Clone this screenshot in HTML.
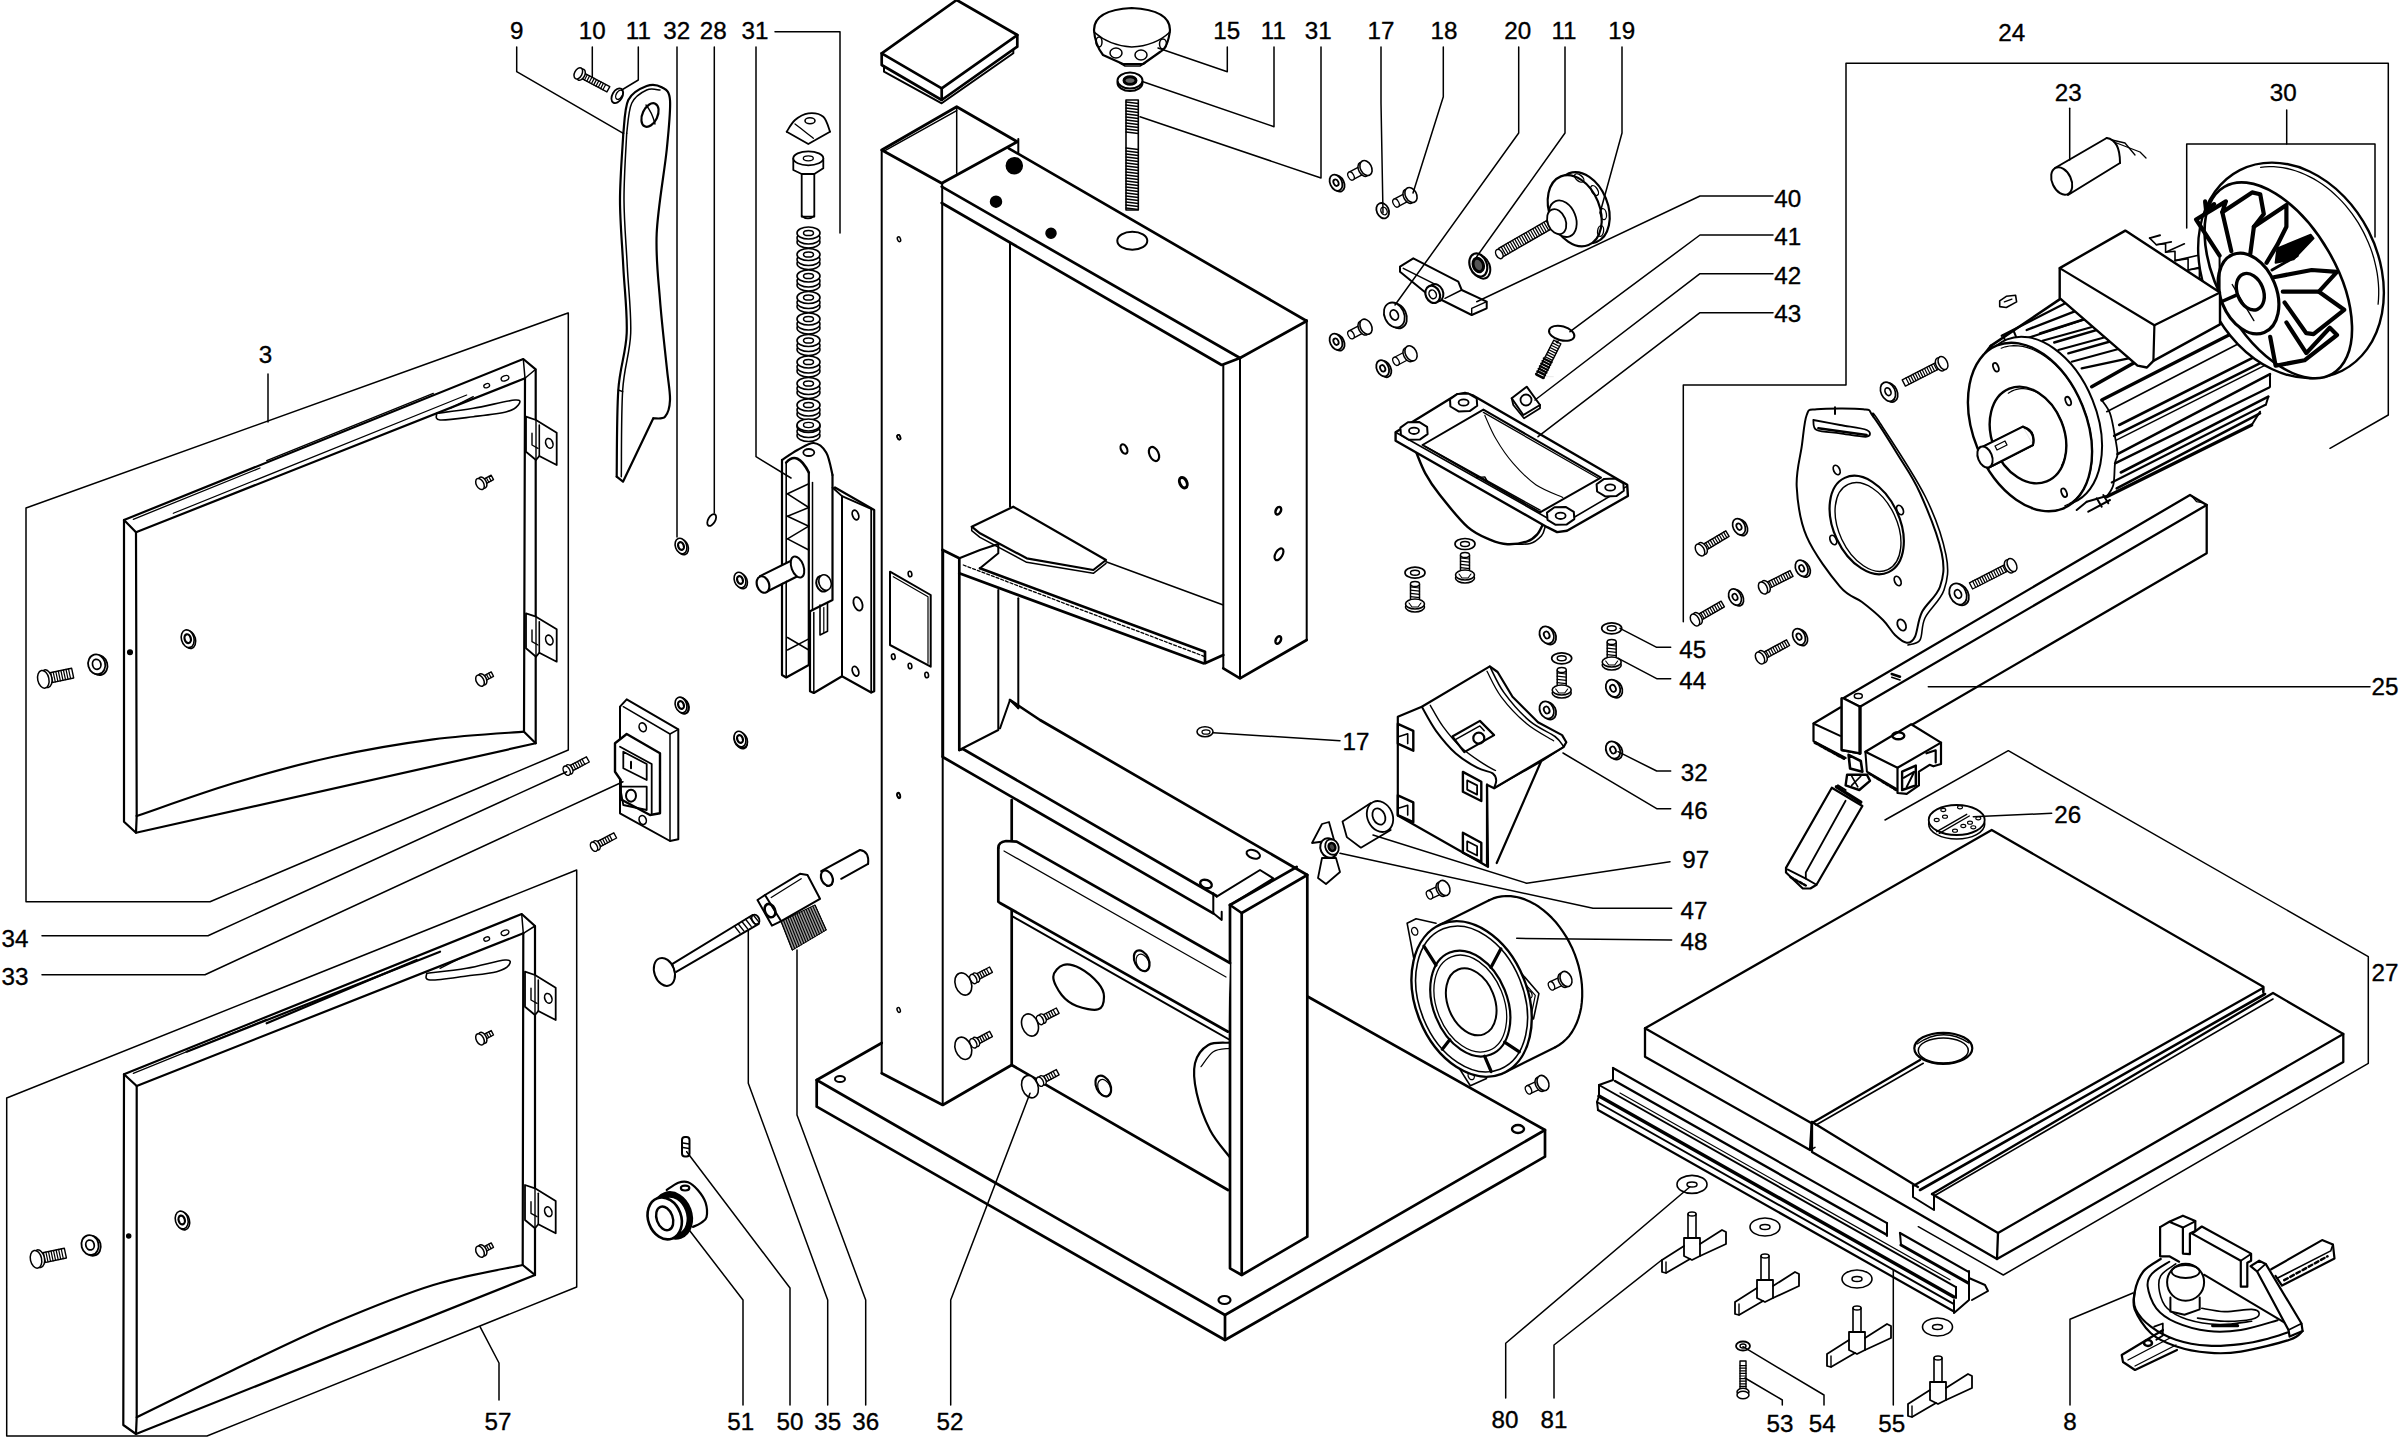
<!DOCTYPE html>
<html><head><meta charset="utf-8"><title>Exploded view</title>
<style>
html,body{margin:0;padding:0;background:#fff;}
body{width:2400px;height:1440px;overflow:hidden;}
svg{display:block;}
svg text{font-family:"Liberation Sans",Arial,Helvetica,sans-serif;fill:#000;}
svg *{stroke-linejoin:round;stroke-linecap:round;}
svg text{stroke:#000;stroke-width:0.35px;}
</style></head><body>
<svg width="2400" height="1440" viewBox="0 0 2400 1440">
<rect x="0" y="0" width="2400" height="1440" fill="#fff" stroke="none"/>
<text x="516.7" y="38.6" font-size="24.2" text-anchor="middle">9</text>
<text x="592.3" y="38.6" font-size="24.2" text-anchor="middle">10</text>
<text x="638.3" y="38.6" font-size="24.2" text-anchor="middle">11</text>
<text x="676.7" y="38.6" font-size="24.2" text-anchor="middle">32</text>
<text x="713.3" y="38.6" font-size="24.2" text-anchor="middle">28</text>
<text x="755.0" y="38.6" font-size="24.2" text-anchor="middle">31</text>
<text x="1226.7" y="38.6" font-size="24.2" text-anchor="middle">15</text>
<text x="1273.3" y="38.6" font-size="24.2" text-anchor="middle">11</text>
<text x="1318.3" y="38.6" font-size="24.2" text-anchor="middle">31</text>
<text x="1381.0" y="38.6" font-size="24.2" text-anchor="middle">17</text>
<text x="1444.0" y="38.6" font-size="24.2" text-anchor="middle">18</text>
<text x="1517.7" y="38.6" font-size="24.2" text-anchor="middle">20</text>
<text x="1564.0" y="38.6" font-size="24.2" text-anchor="middle">11</text>
<text x="1621.7" y="38.6" font-size="24.2" text-anchor="middle">19</text>
<text x="2011.7" y="40.9" font-size="24.2" text-anchor="middle">24</text>
<text x="2068.3" y="100.9" font-size="24.2" text-anchor="middle">23</text>
<text x="2283.3" y="100.9" font-size="24.2" text-anchor="middle">30</text>
<text x="1787.7" y="206.6" font-size="24.2" text-anchor="middle">40</text>
<text x="1787.7" y="245.3" font-size="24.2" text-anchor="middle">41</text>
<text x="1787.7" y="283.6" font-size="24.2" text-anchor="middle">42</text>
<text x="1787.7" y="321.6" font-size="24.2" text-anchor="middle">43</text>
<text x="265.5" y="362.6" font-size="24.2" text-anchor="middle">3</text>
<text x="15.0" y="946.6" font-size="24.2" text-anchor="middle">34</text>
<text x="15.0" y="985.3" font-size="24.2" text-anchor="middle">33</text>
<text x="1692.7" y="657.9" font-size="24.2" text-anchor="middle">45</text>
<text x="1692.7" y="689.3" font-size="24.2" text-anchor="middle">44</text>
<text x="1694.3" y="781.3" font-size="24.2" text-anchor="middle">32</text>
<text x="1694.3" y="819.3" font-size="24.2" text-anchor="middle">46</text>
<text x="1695.7" y="867.9" font-size="24.2" text-anchor="middle">97</text>
<text x="1694.0" y="919.3" font-size="24.2" text-anchor="middle">47</text>
<text x="1694.0" y="949.9" font-size="24.2" text-anchor="middle">48</text>
<text x="1356.0" y="750.3" font-size="24.2" text-anchor="middle">17</text>
<text x="2385.0" y="695.3" font-size="24.2" text-anchor="middle">25</text>
<text x="2067.7" y="822.6" font-size="24.2" text-anchor="middle">26</text>
<text x="2385.0" y="980.9" font-size="24.2" text-anchor="middle">27</text>
<text x="498.0" y="1430.1" font-size="24.2" text-anchor="middle">57</text>
<text x="740.7" y="1430.1" font-size="24.2" text-anchor="middle">51</text>
<text x="790.0" y="1430.1" font-size="24.2" text-anchor="middle">50</text>
<text x="827.7" y="1430.1" font-size="24.2" text-anchor="middle">35</text>
<text x="865.7" y="1430.1" font-size="24.2" text-anchor="middle">36</text>
<text x="950.0" y="1430.1" font-size="24.2" text-anchor="middle">52</text>
<text x="1505.0" y="1427.9" font-size="24.2" text-anchor="middle">80</text>
<text x="1554.0" y="1427.9" font-size="24.2" text-anchor="middle">81</text>
<text x="1780.0" y="1431.9" font-size="24.2" text-anchor="middle">53</text>
<text x="1822.3" y="1431.9" font-size="24.2" text-anchor="middle">54</text>
<text x="1891.7" y="1431.9" font-size="24.2" text-anchor="middle">55</text>
<text x="2070.0" y="1430.3" font-size="24.2" text-anchor="middle">8</text>
<polygon points="124.0,520.0 523.3,359.0 535.7,369.3 535.7,743.3 136.0,832.7 124.0,821.7" fill="none" stroke="#000" stroke-width="2.2" />
<polyline points="136.0,532.3 525.0,378.3" fill="none" stroke="#000" stroke-width="2.2" />
<polyline points="124.0,520.0 136.0,532.3 136.7,816.0" fill="none" stroke="#000" stroke-width="2.2" />
<polyline points="136.7,816.0 136.0,832.7" fill="none" stroke="#000" stroke-width="2.2" />
<polyline points="525.0,378.3 524.0,731.7 535.7,743.3" fill="none" stroke="#000" stroke-width="2.2" />
<polyline points="523.3,359.0 525.0,378.3 535.7,369.3" fill="none" stroke="#000" stroke-width="1.5" />
<path d="M136.7,816.0 C152.8,810.6 200.6,793.2 233.3,783.3 C266.1,773.4 300.0,764.0 333.3,756.7 C366.7,749.3 401.6,743.5 433.3,739.3 C465.1,735.2 508.9,732.9 524.0,731.7" fill="none" stroke="#000" stroke-width="2.2" />
<polyline points="133.3,519.3 260.0,468.0" fill="none" stroke="#000" stroke-width="1.3" />
<polyline points="266.7,460.7 433.3,393.3" fill="none" stroke="#000" stroke-width="1.3" />
<polyline points="173.3,513.3 466.7,395.0" fill="none" stroke="#000" stroke-width="1.2" />
<path d="M436.7,413.3 C442.8,412.5 460.3,410.6 473.3,408.3 C486.4,406.1 507.5,400.6 515.0,400.0 C522.5,399.4 519.7,403.1 518.3,405.0 C516.9,406.9 514.2,409.7 506.7,411.7 C499.2,413.6 484.4,415.3 473.3,416.7 C462.2,418.1 446.1,420.6 440.0,420.0 C433.9,419.4 437.2,414.4 436.7,413.3" fill="none" stroke="#000" stroke-width="1.6" />
<polyline points="450.0,408.3 473.3,396.7" fill="none" stroke="#000" stroke-width="1.4" />
<ellipse cx="486.7" cy="385.7" rx="3.0" ry="2.0" transform="rotate(-20.0 486.7 385.7)" fill="none" stroke="#000" stroke-width="1.3"/>
<ellipse cx="505.0" cy="378.3" rx="4.0" ry="2.5" transform="rotate(-20.0 505.0 378.3)" fill="none" stroke="#000" stroke-width="1.3"/>
<polygon points="526.0,416.7 536.0,420.0 556.7,432.7 556.7,465.0 539.3,456.0 536.0,460.0 526.0,451.7" fill="#fff" stroke="#000" stroke-width="1.8" />
<polyline points="539.3,425.0 539.3,456.0" fill="none" stroke="#000" stroke-width="1.6" />
<polyline points="536.0,420.0 536.0,460.0" fill="none" stroke="#000" stroke-width="1.4" />
<polyline points="532.0,433.3 532.0,445.0 538.0,448.3" fill="none" stroke="#000" stroke-width="1.4" />
<ellipse cx="549.3" cy="443.3" rx="3.5" ry="5.0" transform="rotate(-20.0 549.3 443.3)" fill="none" stroke="#000" stroke-width="1.6"/>
<polygon points="526.0,613.3 536.0,616.7 556.7,629.3 556.7,661.7 539.3,652.7 536.0,656.7 526.0,648.3" fill="#fff" stroke="#000" stroke-width="1.8" />
<polyline points="539.3,621.7 539.3,652.7" fill="none" stroke="#000" stroke-width="1.6" />
<polyline points="536.0,616.7 536.0,656.7" fill="none" stroke="#000" stroke-width="1.4" />
<polyline points="532.0,630.0 532.0,641.7 538.0,645.0" fill="none" stroke="#000" stroke-width="1.4" />
<ellipse cx="549.3" cy="640.0" rx="3.5" ry="5.0" transform="rotate(-20.0 549.3 640.0)" fill="none" stroke="#000" stroke-width="1.6"/>
<polygon points="483.8,484.8 493.5,479.6 491.2,475.2 481.5,480.4" fill="#fff" stroke="#000" stroke-width="1.4" />
<line x1="486.5" y1="483.4" x2="484.1" y2="479.0" stroke="#000" stroke-width="1.2"/>
<line x1="488.8" y1="482.2" x2="486.4" y2="477.8" stroke="#000" stroke-width="1.2"/>
<line x1="491.1" y1="480.9" x2="488.7" y2="476.5" stroke="#000" stroke-width="1.2"/>
<ellipse cx="482.6" cy="482.6" rx="3.7" ry="6.0" transform="rotate(-28.0 482.6 482.6)" fill="#fff" stroke="#000" stroke-width="1.5"/>
<ellipse cx="480.0" cy="484.0" rx="3.7" ry="6.0" transform="rotate(-28.0 480.0 484.0)" fill="#fff" stroke="#000" stroke-width="1.5"/>
<polygon points="483.8,681.5 493.5,676.3 491.2,671.9 481.5,677.1" fill="#fff" stroke="#000" stroke-width="1.4" />
<line x1="486.5" y1="680.1" x2="484.1" y2="675.6" stroke="#000" stroke-width="1.2"/>
<line x1="488.8" y1="678.8" x2="486.4" y2="674.4" stroke="#000" stroke-width="1.2"/>
<line x1="491.1" y1="677.6" x2="488.7" y2="673.2" stroke="#000" stroke-width="1.2"/>
<ellipse cx="482.6" cy="679.3" rx="3.7" ry="6.0" transform="rotate(-28.0 482.6 679.3)" fill="#fff" stroke="#000" stroke-width="1.5"/>
<ellipse cx="480.0" cy="680.7" rx="3.7" ry="6.0" transform="rotate(-28.0 480.0 680.7)" fill="#fff" stroke="#000" stroke-width="1.5"/>
<ellipse cx="189.2" cy="639.7" rx="6.3" ry="9.0" transform="rotate(-15.0 189.2 639.7)" fill="#fff" stroke="#000" stroke-width="1.6"/>
<ellipse cx="187.7" cy="638.7" rx="6.3" ry="9.0" transform="rotate(-15.0 187.7 638.7)" fill="#fff" stroke="#000" stroke-width="1.6"/>
<ellipse cx="187.7" cy="638.7" rx="3.1" ry="4.5" transform="rotate(-15.0 187.7 638.7)" fill="none" stroke="#000" stroke-width="2.2"/>
<ellipse cx="98.9" cy="665.1" rx="8.5" ry="10.0" transform="rotate(-15.0 98.9 665.1)" fill="#fff" stroke="#000" stroke-width="1.8"/>
<ellipse cx="96.7" cy="664.3" rx="8.5" ry="10.0" transform="rotate(-15.0 96.7 664.3)" fill="#fff" stroke="#000" stroke-width="1.8"/>
<ellipse cx="96.7" cy="664.3" rx="4.2" ry="5.0" transform="rotate(-15.0 96.7 664.3)" fill="none" stroke="#000" stroke-width="1.8"/>
<polygon points="47.3,683.6 73.7,678.0 71.6,668.2 45.2,673.8" fill="#fff" stroke="#000" stroke-width="1.4" />
<line x1="50.2" y1="683.0" x2="48.2" y2="673.2" stroke="#000" stroke-width="1.2"/>
<line x1="52.8" y1="682.4" x2="50.7" y2="672.7" stroke="#000" stroke-width="1.2"/>
<line x1="55.3" y1="681.9" x2="53.2" y2="672.1" stroke="#000" stroke-width="1.2"/>
<line x1="57.9" y1="681.4" x2="55.8" y2="671.6" stroke="#000" stroke-width="1.2"/>
<line x1="60.4" y1="680.8" x2="58.3" y2="671.0" stroke="#000" stroke-width="1.2"/>
<line x1="63.0" y1="680.3" x2="60.9" y2="670.5" stroke="#000" stroke-width="1.2"/>
<line x1="65.5" y1="679.7" x2="63.4" y2="670.0" stroke="#000" stroke-width="1.2"/>
<line x1="68.0" y1="679.2" x2="66.0" y2="669.4" stroke="#000" stroke-width="1.2"/>
<line x1="70.6" y1="678.7" x2="68.5" y2="668.9" stroke="#000" stroke-width="1.2"/>
<ellipse cx="46.3" cy="678.7" rx="5.6" ry="9.0" transform="rotate(-12.0 46.3 678.7)" fill="#fff" stroke="#000" stroke-width="1.5"/>
<ellipse cx="43.3" cy="679.3" rx="5.6" ry="9.0" transform="rotate(-12.0 43.3 679.3)" fill="#fff" stroke="#000" stroke-width="1.5"/>
<ellipse cx="130.0" cy="652.3" rx="2.3" ry="2.3" transform="rotate(0.0 130.0 652.3)" fill="#000" stroke="#000" stroke-width="1.5"/>
<polygon points="124.0,1074.3 521.7,914.0 535.0,926.0 535.0,1275.0 136.0,1434.0 123.3,1425.0" fill="none" stroke="#000" stroke-width="2.2" />
<polyline points="136.7,1086.0 523.3,933.3" fill="none" stroke="#000" stroke-width="2.2" />
<polyline points="124.0,1074.3 136.7,1086.0 136.7,1417.3 136.0,1434.0" fill="none" stroke="#000" stroke-width="2.2" />
<polyline points="523.3,933.3 522.7,1265.0 535.0,1275.0" fill="none" stroke="#000" stroke-width="2.2" />
<polyline points="521.7,914.0 523.3,933.3 535.0,926.0" fill="none" stroke="#000" stroke-width="1.5" />
<path d="M136.7,1417.3 C152.8,1409.4 200.6,1385.7 233.3,1370.0 C266.1,1354.3 300.0,1337.5 333.3,1323.3 C366.7,1309.2 401.8,1294.7 433.3,1285.0 C464.9,1275.3 507.8,1268.3 522.7,1265.0" fill="none" stroke="#000" stroke-width="2.2" />
<polyline points="186.7,1051.7 440.0,951.7" fill="none" stroke="#000" stroke-width="2.2" />
<polyline points="266.7,1023.3 416.7,960.0" fill="none" stroke="#000" stroke-width="2.2" />
<polyline points="133.3,1073.3 266.7,1019.3" fill="none" stroke="#000" stroke-width="1.3" />
<path d="M426.7,973.3 C433.3,972.5 453.6,970.6 466.7,968.3 C479.7,966.1 497.9,960.6 505.0,960.0 C512.1,959.4 510.4,963.1 509.0,965.0 C507.6,966.9 503.7,969.8 496.7,971.7 C489.6,973.5 477.8,974.6 466.7,976.0 C455.6,977.4 436.7,980.4 430.0,980.0 C423.3,979.6 427.2,974.4 426.7,973.3" fill="none" stroke="#000" stroke-width="1.6" />
<polyline points="440.0,968.3 463.3,956.7" fill="none" stroke="#000" stroke-width="1.4" />
<ellipse cx="486.7" cy="939.0" rx="3.0" ry="2.0" transform="rotate(-20.0 486.7 939.0)" fill="none" stroke="#000" stroke-width="1.3"/>
<ellipse cx="505.0" cy="932.7" rx="4.0" ry="2.5" transform="rotate(-20.0 505.0 932.7)" fill="none" stroke="#000" stroke-width="1.3"/>
<polygon points="525.0,971.7 535.0,975.0 555.7,987.7 555.7,1020.0 538.3,1011.0 535.0,1015.0 525.0,1006.7" fill="#fff" stroke="#000" stroke-width="1.8" />
<polyline points="538.3,980.0 538.3,1011.0" fill="none" stroke="#000" stroke-width="1.6" />
<polyline points="535.0,975.0 535.0,1015.0" fill="none" stroke="#000" stroke-width="1.4" />
<polyline points="531.0,988.3 531.0,1000.0 537.0,1003.3" fill="none" stroke="#000" stroke-width="1.4" />
<ellipse cx="548.3" cy="998.3" rx="3.5" ry="5.0" transform="rotate(-20.0 548.3 998.3)" fill="none" stroke="#000" stroke-width="1.6"/>
<polygon points="525.0,1185.0 535.0,1188.3 555.7,1201.0 555.7,1233.3 538.3,1224.3 535.0,1228.3 525.0,1220.0" fill="#fff" stroke="#000" stroke-width="1.8" />
<polyline points="538.3,1193.3 538.3,1224.3" fill="none" stroke="#000" stroke-width="1.6" />
<polyline points="535.0,1188.3 535.0,1228.3" fill="none" stroke="#000" stroke-width="1.4" />
<polyline points="531.0,1201.7 531.0,1213.3 537.0,1216.7" fill="none" stroke="#000" stroke-width="1.4" />
<ellipse cx="548.3" cy="1211.7" rx="3.5" ry="5.0" transform="rotate(-20.0 548.3 1211.7)" fill="none" stroke="#000" stroke-width="1.6"/>
<polygon points="483.8,1040.1 493.5,1035.0 491.2,1030.6 481.5,1035.7" fill="#fff" stroke="#000" stroke-width="1.4" />
<line x1="486.5" y1="1038.7" x2="484.1" y2="1034.3" stroke="#000" stroke-width="1.2"/>
<line x1="488.8" y1="1037.5" x2="486.4" y2="1033.1" stroke="#000" stroke-width="1.2"/>
<line x1="491.1" y1="1036.3" x2="488.7" y2="1031.9" stroke="#000" stroke-width="1.2"/>
<ellipse cx="482.6" cy="1037.9" rx="3.7" ry="6.0" transform="rotate(-28.0 482.6 1037.9)" fill="#fff" stroke="#000" stroke-width="1.5"/>
<ellipse cx="480.0" cy="1039.3" rx="3.7" ry="6.0" transform="rotate(-28.0 480.0 1039.3)" fill="#fff" stroke="#000" stroke-width="1.5"/>
<polygon points="483.8,1252.5 493.5,1247.3 491.2,1242.9 481.5,1248.1" fill="#fff" stroke="#000" stroke-width="1.4" />
<line x1="486.5" y1="1251.1" x2="484.1" y2="1246.6" stroke="#000" stroke-width="1.2"/>
<line x1="488.8" y1="1249.8" x2="486.4" y2="1245.4" stroke="#000" stroke-width="1.2"/>
<line x1="491.1" y1="1248.6" x2="488.7" y2="1244.2" stroke="#000" stroke-width="1.2"/>
<ellipse cx="482.6" cy="1250.3" rx="3.7" ry="6.0" transform="rotate(-28.0 482.6 1250.3)" fill="#fff" stroke="#000" stroke-width="1.5"/>
<ellipse cx="480.0" cy="1251.7" rx="3.7" ry="6.0" transform="rotate(-28.0 480.0 1251.7)" fill="#fff" stroke="#000" stroke-width="1.5"/>
<ellipse cx="183.2" cy="1221.0" rx="6.3" ry="9.0" transform="rotate(-15.0 183.2 1221.0)" fill="#fff" stroke="#000" stroke-width="1.6"/>
<ellipse cx="181.7" cy="1220.0" rx="6.3" ry="9.0" transform="rotate(-15.0 181.7 1220.0)" fill="#fff" stroke="#000" stroke-width="1.6"/>
<ellipse cx="181.7" cy="1220.0" rx="3.1" ry="4.5" transform="rotate(-15.0 181.7 1220.0)" fill="none" stroke="#000" stroke-width="2.2"/>
<ellipse cx="92.2" cy="1245.8" rx="8.5" ry="10.0" transform="rotate(-15.0 92.2 1245.8)" fill="#fff" stroke="#000" stroke-width="1.8"/>
<ellipse cx="90.0" cy="1245.0" rx="8.5" ry="10.0" transform="rotate(-15.0 90.0 1245.0)" fill="#fff" stroke="#000" stroke-width="1.8"/>
<ellipse cx="90.0" cy="1245.0" rx="4.2" ry="5.0" transform="rotate(-15.0 90.0 1245.0)" fill="none" stroke="#000" stroke-width="1.8"/>
<polygon points="40.0,1263.6 66.4,1258.0 64.3,1248.2 37.9,1253.8" fill="#fff" stroke="#000" stroke-width="1.4" />
<line x1="42.9" y1="1263.0" x2="40.8" y2="1253.2" stroke="#000" stroke-width="1.2"/>
<line x1="45.5" y1="1262.4" x2="43.4" y2="1252.7" stroke="#000" stroke-width="1.2"/>
<line x1="48.0" y1="1261.9" x2="45.9" y2="1252.1" stroke="#000" stroke-width="1.2"/>
<line x1="50.5" y1="1261.4" x2="48.5" y2="1251.6" stroke="#000" stroke-width="1.2"/>
<line x1="53.1" y1="1260.8" x2="51.0" y2="1251.0" stroke="#000" stroke-width="1.2"/>
<line x1="55.6" y1="1260.3" x2="53.5" y2="1250.5" stroke="#000" stroke-width="1.2"/>
<line x1="58.2" y1="1259.7" x2="56.1" y2="1250.0" stroke="#000" stroke-width="1.2"/>
<line x1="60.7" y1="1259.2" x2="58.6" y2="1249.4" stroke="#000" stroke-width="1.2"/>
<line x1="63.3" y1="1258.7" x2="61.2" y2="1248.9" stroke="#000" stroke-width="1.2"/>
<ellipse cx="38.9" cy="1258.7" rx="5.6" ry="9.0" transform="rotate(-12.0 38.9 1258.7)" fill="#fff" stroke="#000" stroke-width="1.5"/>
<ellipse cx="36.0" cy="1259.3" rx="5.6" ry="9.0" transform="rotate(-12.0 36.0 1259.3)" fill="#fff" stroke="#000" stroke-width="1.5"/>
<ellipse cx="128.7" cy="1236.0" rx="2.0" ry="2.0" transform="rotate(0.0 128.7 1236.0)" fill="#000" stroke="#000" stroke-width="1.5"/>
<polygon points="620.0,706.7 626.7,699.3 678.3,729.3 678.3,839.3 670.0,841.0 620.0,813.3" fill="#fff" stroke="#000" stroke-width="2" />
<polyline points="623.3,706.7 670.0,734.0 670.0,841.0" fill="none" stroke="#000" stroke-width="1.5" />
<polyline points="670.0,734.0 678.3,729.3" fill="none" stroke="#000" stroke-width="1.5" />
<ellipse cx="642.7" cy="727.3" rx="3.5" ry="4.5" transform="rotate(-20.0 642.7 727.3)" fill="none" stroke="#000" stroke-width="1.6"/>
<ellipse cx="642.7" cy="820.0" rx="3.5" ry="4.5" transform="rotate(-20.0 642.7 820.0)" fill="none" stroke="#000" stroke-width="1.6"/>
<polygon points="615.0,743.3 626.7,734.0 660.0,753.3 660.0,813.3 650.0,815.0 620.7,799.3 620.7,780.0 615.0,771.7" fill="#fff" stroke="#000" stroke-width="2.4" />
<polyline points="620.0,746.7 651.7,764.0 651.7,813.3" fill="none" stroke="#000" stroke-width="1.8" />
<polygon points="623.3,751.7 646.7,764.0 646.7,780.0 623.3,768.3" fill="none" stroke="#000" stroke-width="1.8" />
<polygon points="620.0,786.7 646.7,786.7 646.7,810.0 623.3,805.0" fill="none" stroke="#000" stroke-width="1.8" />
<ellipse cx="631.0" cy="795.7" rx="5.0" ry="6.0" transform="rotate(0.0 631.0 795.7)" fill="none" stroke="#000" stroke-width="2"/>
<polyline points="631.0,761.7 631.0,768.3" fill="none" stroke="#000" stroke-width="2" />
<polygon points="570.7,771.9 589.3,762.0 586.4,756.8 567.9,766.6" fill="#fff" stroke="#000" stroke-width="1.4" />
<line x1="573.4" y1="770.5" x2="570.6" y2="765.2" stroke="#000" stroke-width="1.2"/>
<line x1="575.7" y1="769.3" x2="572.9" y2="764.0" stroke="#000" stroke-width="1.2"/>
<line x1="578.0" y1="768.1" x2="575.1" y2="762.8" stroke="#000" stroke-width="1.2"/>
<line x1="580.3" y1="766.8" x2="577.4" y2="761.5" stroke="#000" stroke-width="1.2"/>
<line x1="582.6" y1="765.6" x2="579.7" y2="760.3" stroke="#000" stroke-width="1.2"/>
<line x1="584.9" y1="764.4" x2="582.0" y2="759.1" stroke="#000" stroke-width="1.2"/>
<ellipse cx="569.3" cy="769.3" rx="3.1" ry="5.0" transform="rotate(-28.0 569.3 769.3)" fill="#fff" stroke="#000" stroke-width="1.5"/>
<ellipse cx="566.7" cy="770.7" rx="3.1" ry="5.0" transform="rotate(-28.0 566.7 770.7)" fill="#fff" stroke="#000" stroke-width="1.5"/>
<polygon points="598.1,847.9 616.6,838.0 613.8,832.8 595.2,842.6" fill="#fff" stroke="#000" stroke-width="1.4" />
<line x1="600.7" y1="846.5" x2="597.9" y2="841.2" stroke="#000" stroke-width="1.2"/>
<line x1="603.0" y1="845.3" x2="600.2" y2="840.0" stroke="#000" stroke-width="1.2"/>
<line x1="605.3" y1="844.1" x2="602.5" y2="838.8" stroke="#000" stroke-width="1.2"/>
<line x1="607.6" y1="842.8" x2="604.8" y2="837.5" stroke="#000" stroke-width="1.2"/>
<line x1="609.9" y1="841.6" x2="607.1" y2="836.3" stroke="#000" stroke-width="1.2"/>
<line x1="612.2" y1="840.4" x2="609.4" y2="835.1" stroke="#000" stroke-width="1.2"/>
<ellipse cx="596.6" cy="845.3" rx="3.1" ry="5.0" transform="rotate(-28.0 596.6 845.3)" fill="#fff" stroke="#000" stroke-width="1.5"/>
<ellipse cx="594.0" cy="846.7" rx="3.1" ry="5.0" transform="rotate(-28.0 594.0 846.7)" fill="#fff" stroke="#000" stroke-width="1.5"/>
<ellipse cx="683.2" cy="706.0" rx="5.6" ry="8.0" transform="rotate(-20.0 683.2 706.0)" fill="#fff" stroke="#000" stroke-width="1.6"/>
<ellipse cx="681.7" cy="705.0" rx="5.6" ry="8.0" transform="rotate(-20.0 681.7 705.0)" fill="#fff" stroke="#000" stroke-width="1.6"/>
<ellipse cx="681.7" cy="705.0" rx="2.8" ry="4.0" transform="rotate(-20.0 681.7 705.0)" fill="none" stroke="#000" stroke-width="2.2"/>
<ellipse cx="741.5" cy="741.0" rx="5.6" ry="8.0" transform="rotate(-20.0 741.5 741.0)" fill="#fff" stroke="#000" stroke-width="1.6"/>
<ellipse cx="740.0" cy="740.0" rx="5.6" ry="8.0" transform="rotate(-20.0 740.0 740.0)" fill="#fff" stroke="#000" stroke-width="1.6"/>
<ellipse cx="740.0" cy="740.0" rx="2.8" ry="4.0" transform="rotate(-20.0 740.0 740.0)" fill="none" stroke="#000" stroke-width="2.2"/>
<polygon points="881.7,53.3 956.7,0.0 1017.3,35.0 941.7,88.3" fill="#fff" stroke="#000" stroke-width="2.7" />
<polyline points="881.7,53.3 881.7,65.0 941.7,100.0 1017.3,46.7 1017.3,35.0" fill="none" stroke="#000" stroke-width="2.7" />
<polyline points="941.7,88.3 941.7,100.0" fill="none" stroke="#000" stroke-width="2.7" />
<polyline points="884.0,66.7 884.0,71.7 941.7,103.3 1013.3,53.3 1013.3,50.0" fill="none" stroke="#000" stroke-width="2" />
<polygon points="881.7,150.0 956.7,106.7 1017.3,141.7 941.7,183.3" fill="none" stroke="#000" stroke-width="2.8" />
<polyline points="885.0,150.7 956.7,110.7" fill="none" stroke="#000" stroke-width="1.5" />
<polyline points="956.7,106.7 956.7,173.3" fill="none" stroke="#000" stroke-width="1.5" />
<polyline points="881.7,150.0 881.7,1073.3" fill="none" stroke="#000" stroke-width="2.0" />
<polyline points="881.7,1073.3 942.7,1105.0 1011.7,1065.0" fill="none" stroke="#000" stroke-width="2.7" />
<polyline points="942.2,183.3 942.2,550.0" fill="none" stroke="#000" stroke-width="2.0" />
<polyline points="942.7,756.0 942.7,1105.0" fill="none" stroke="#000" stroke-width="2.0" />
<polyline points="1008.7,148.3 1306.7,321.0 1240.0,358.0 941.7,186.7" fill="none" stroke="#000" stroke-width="2.7" />
<polyline points="1018.3,139.0 1018.3,152.5" fill="none" stroke="#000" stroke-width="2" />
<polyline points="941.7,203.0 1221.7,365.0 1240.0,358.0" fill="none" stroke="#000" stroke-width="2.7" />
<polyline points="1306.7,320.0 1306.7,640.0" fill="none" stroke="#000" stroke-width="2.0" />
<polyline points="1306.7,640.0 1240.0,678.3 1223.3,668.3" fill="none" stroke="#000" stroke-width="2.7" />
<polyline points="1223.3,668.3 1223.3,365.0" fill="none" stroke="#000" stroke-width="2.0" />
<polyline points="1240.0,358.0 1240.0,678.3" fill="none" stroke="#000" stroke-width="2.0" />
<polyline points="1010.0,243.0 1010.0,506.7" fill="none" stroke="#000" stroke-width="2" />
<ellipse cx="1014.3" cy="165.7" rx="8.0" ry="8.0" transform="rotate(0.0 1014.3 165.7)" fill="#000" stroke="#000" stroke-width="1.5"/>
<ellipse cx="996.0" cy="201.7" rx="5.5" ry="5.5" transform="rotate(0.0 996.0 201.7)" fill="#000" stroke="#000" stroke-width="1.5"/>
<ellipse cx="1051.0" cy="233.3" rx="5.0" ry="5.0" transform="rotate(0.0 1051.0 233.3)" fill="#000" stroke="#000" stroke-width="1.5"/>
<ellipse cx="1132.3" cy="240.7" rx="15.0" ry="9.0" transform="rotate(0.0 1132.3 240.7)" fill="none" stroke="#000" stroke-width="2"/>
<ellipse cx="1124.0" cy="449.0" rx="3.0" ry="5.0" transform="rotate(-25.0 1124.0 449.0)" fill="none" stroke="#000" stroke-width="2.2"/>
<ellipse cx="1154.0" cy="454.0" rx="4.5" ry="7.5" transform="rotate(-25.0 1154.0 454.0)" fill="none" stroke="#000" stroke-width="2.2"/>
<ellipse cx="1183.3" cy="482.7" rx="3.5" ry="5.5" transform="rotate(-25.0 1183.3 482.7)" fill="none" stroke="#000" stroke-width="3"/>
<ellipse cx="1278.3" cy="510.7" rx="2.5" ry="4.0" transform="rotate(25.0 1278.3 510.7)" fill="none" stroke="#000" stroke-width="2.5"/>
<ellipse cx="1279.0" cy="554.3" rx="3.5" ry="6.5" transform="rotate(30.0 1279.0 554.3)" fill="none" stroke="#000" stroke-width="2.2"/>
<ellipse cx="1278.3" cy="640.0" rx="2.5" ry="4.0" transform="rotate(25.0 1278.3 640.0)" fill="none" stroke="#000" stroke-width="2.5"/>
<ellipse cx="899.0" cy="239.3" rx="1.5" ry="2.5" transform="rotate(-20.0 899.0 239.3)" fill="none" stroke="#000" stroke-width="1.5"/>
<ellipse cx="899.0" cy="437.3" rx="1.5" ry="2.5" transform="rotate(-20.0 899.0 437.3)" fill="none" stroke="#000" stroke-width="1.5"/>
<ellipse cx="898.7" cy="437.3" rx="1.5" ry="2.5" transform="rotate(-20.0 898.7 437.3)" fill="none" stroke="#000" stroke-width="1.5"/>
<ellipse cx="898.7" cy="795.0" rx="1.5" ry="2.5" transform="rotate(-20.0 898.7 795.0)" fill="none" stroke="#000" stroke-width="1.5"/>
<ellipse cx="898.7" cy="796.0" rx="1.5" ry="2.5" transform="rotate(-20.0 898.7 796.0)" fill="none" stroke="#000" stroke-width="1.5"/>
<ellipse cx="898.7" cy="1010.0" rx="1.5" ry="2.5" transform="rotate(-20.0 898.7 1010.0)" fill="none" stroke="#000" stroke-width="1.5"/>
<polygon points="890.0,571.7 930.7,595.0 930.7,666.7 890.0,645.0" fill="none" stroke="#000" stroke-width="2" />
<polyline points="893.3,576.7 928.0,596.7 928.0,663.3" fill="none" stroke="#000" stroke-width="1.2" />
<ellipse cx="910.0" cy="574.0" rx="1.8" ry="2.8" transform="rotate(-10.0 910.0 574.0)" fill="none" stroke="#000" stroke-width="1.6"/>
<ellipse cx="893.3" cy="656.7" rx="1.8" ry="2.8" transform="rotate(-10.0 893.3 656.7)" fill="none" stroke="#000" stroke-width="1.6"/>
<ellipse cx="910.0" cy="666.0" rx="1.8" ry="2.8" transform="rotate(-10.0 910.0 666.0)" fill="none" stroke="#000" stroke-width="1.6"/>
<ellipse cx="926.7" cy="675.0" rx="1.8" ry="2.8" transform="rotate(-10.0 926.7 675.0)" fill="none" stroke="#000" stroke-width="1.6"/>
<polygon points="971.7,526.7 1013.3,506.7 1106.0,560.0 1093.3,570.0 1026.7,558.3 980.0,533.3" fill="#fff" stroke="#000" stroke-width="2.2" />
<polyline points="971.7,526.7 971.7,530.7 980.0,537.3 1026.7,562.3 1093.3,573.3 1106.0,563.3" fill="none" stroke="#000" stroke-width="1.5" />
<polyline points="1106.0,561.7 1223.3,605.0" fill="none" stroke="#000" stroke-width="1.6" />
<polyline points="942.7,550.0 959.3,558.3 959.3,750.0" fill="none" stroke="#000" stroke-width="2.7" />
<polyline points="942.7,550.0 942.7,756.0" fill="none" stroke="#000" stroke-width="3" />
<polyline points="980.0,568.3 1205.0,651.7 1205.0,663.3 1223.3,655.0" fill="none" stroke="#000" stroke-width="2.7" />
<polyline points="959.3,558.3 980.0,550.0 998.3,544.0 998.3,553.3 980.0,568.3" fill="none" stroke="#000" stroke-width="2" />
<polyline points="959.3,573.3 1203.3,663.3" fill="none" stroke="#000" stroke-width="2.7" />
<polyline points="963.3,565.0 1205.0,656.7" fill="none" stroke="#000" stroke-width="1.3" stroke-dasharray="3 2"/>
<polyline points="998.3,590.0 998.3,730.0 959.3,750.0" fill="none" stroke="#000" stroke-width="2" />
<polyline points="1018.3,598.3 1018.3,708.3" fill="none" stroke="#000" stroke-width="2" />
<polyline points="1000.0,728.3 1010.0,700.0 1018.3,708.3" fill="none" stroke="#000" stroke-width="2" />
<polyline points="1010.0,700.0 1040.0,720.0 1307.3,875.0 1307.3,1236.7 1241.7,1275.0 1230.0,1268.3 1230.0,905.0" fill="none" stroke="#000" stroke-width="2.7" />
<polyline points="959.3,750.0 963.0,749.0 1216.7,896.0" fill="none" stroke="#000" stroke-width="2.7" />
<polyline points="942.7,757.0 1213.3,913.3" fill="none" stroke="#000" stroke-width="2.7" />
<polyline points="1230.0,905.0 1241.7,913.0 1307.3,875.0" fill="none" stroke="#000" stroke-width="2.7" />
<polyline points="1241.7,913.0 1241.7,1275.0" fill="none" stroke="#000" stroke-width="2.7" />
<polyline points="1230.0,905.0 1296.7,867.0" fill="none" stroke="#000" stroke-width="2.7" />
<polyline points="1216.7,896.7 1260.0,870.0 1273.3,878.3 1230.0,905.0" fill="none" stroke="#000" stroke-width="2" />
<polyline points="1213.3,893.3 1213.3,913.3 1221.7,920.0 1221.7,911.7" fill="none" stroke="#000" stroke-width="2" />
<ellipse cx="1253.3" cy="854.3" rx="7.0" ry="4.0" transform="rotate(20.0 1253.3 854.3)" fill="none" stroke="#000" stroke-width="2"/>
<ellipse cx="1206.0" cy="884.0" rx="6.0" ry="4.0" transform="rotate(20.0 1206.0 884.0)" fill="none" stroke="#000" stroke-width="2.4"/>
<polyline points="1011.7,800.0 1011.7,1065.0 1228.0,1190.0" fill="none" stroke="#000" stroke-width="2.7" />
<path d="M998.3,848 Q998.3,842 1006,841 L1016.7,841.7 L1230,963 L1228,1031.7 L1000,903 L998.3,901.7Z" fill="#fff" stroke="#000" stroke-width="0.1" />
<polyline points="998.3,848.0 998.3,901.7 1000.0,903.0 1228.0,1031.7" fill="none" stroke="#000" stroke-width="2.7" />
<path d="M998.3,848 Q998.3,842 1006,841 L1016.7,841.7 L1230,963" fill="none" stroke="#000" stroke-width="2.7" />
<polyline points="1004.0,851.0 1226.0,977.0" fill="none" stroke="#000" stroke-width="1.2" />
<polyline points="1013.0,916.7 1230.0,1040.0" fill="none" stroke="#000" stroke-width="2" />
<ellipse cx="1141.7" cy="960.7" rx="7.0" ry="11.0" transform="rotate(-25.0 1141.7 960.7)" fill="none" stroke="#000" stroke-width="2.2"/>
<ellipse cx="1142.7" cy="962.7" rx="6.0" ry="9.0" transform="rotate(-25.0 1142.7 962.7)" fill="none" stroke="#000" stroke-width="1.2"/>
<ellipse cx="1103.3" cy="1086.0" rx="7.0" ry="11.0" transform="rotate(-25.0 1103.3 1086.0)" fill="none" stroke="#000" stroke-width="2.2"/>
<ellipse cx="1104.3" cy="1088.0" rx="6.0" ry="9.0" transform="rotate(-25.0 1104.3 1088.0)" fill="none" stroke="#000" stroke-width="1.2"/>
<path d="M1053.3,976.7 C1053.6,971.7 1058.9,966.4 1063.3,965.0 C1067.8,963.6 1074.2,965.3 1080.0,968.3 C1085.8,971.4 1094.3,978.6 1098.3,983.3 C1102.3,988.1 1104.0,992.3 1104.0,996.7 C1104.0,1001.0 1102.9,1007.8 1098.3,1009.3 C1093.8,1010.9 1082.8,1008.4 1076.7,1006.0 C1070.6,1003.6 1065.6,999.9 1061.7,995.0 C1057.8,990.1 1053.1,981.7 1053.3,976.7Z" fill="none" stroke="#000" stroke-width="2.2" />
<path d="M1229.3,1042.7 C1225.8,1043.1 1214.1,1041.6 1208.3,1045.0 C1202.6,1048.4 1196.9,1055.3 1195.0,1063.3 C1193.1,1071.4 1194.2,1082.2 1196.7,1093.3 C1199.2,1104.4 1204.6,1119.4 1210.0,1130.0 C1215.4,1140.6 1226.1,1152.2 1229.3,1156.7" fill="none" stroke="#000" stroke-width="2.2" />
<path d="M1229.3,1048.3 C1226.7,1048.9 1218.1,1048.6 1213.3,1051.7 C1208.6,1054.7 1203.1,1064.2 1201.0,1066.7" fill="none" stroke="#000" stroke-width="1.2" />
<polygon points="977.4,980.2 992.4,972.3 989.6,967.0 974.6,974.9" fill="#fff" stroke="#000" stroke-width="1.4" />
<line x1="980.0" y1="978.8" x2="977.2" y2="973.5" stroke="#000" stroke-width="1.2"/>
<line x1="982.3" y1="977.6" x2="979.5" y2="972.3" stroke="#000" stroke-width="1.2"/>
<line x1="984.6" y1="976.4" x2="981.8" y2="971.1" stroke="#000" stroke-width="1.2"/>
<line x1="986.9" y1="975.2" x2="984.1" y2="969.9" stroke="#000" stroke-width="1.2"/>
<line x1="989.2" y1="973.9" x2="986.4" y2="968.7" stroke="#000" stroke-width="1.2"/>
<ellipse cx="976.0" cy="977.6" rx="3.1" ry="5.0" transform="rotate(-28.0 976.0 977.6)" fill="#fff" stroke="#000" stroke-width="1.5"/>
<ellipse cx="973.3" cy="979.0" rx="3.1" ry="5.0" transform="rotate(-28.0 973.3 979.0)" fill="#fff" stroke="#000" stroke-width="1.5"/>
<ellipse cx="963.3" cy="984.0" rx="8.0" ry="11.5" transform="rotate(-20.0 963.3 984.0)" fill="#fff" stroke="#000" stroke-width="1.6"/>
<polygon points="977.4,1044.6 992.4,1036.6 989.6,1031.3 974.6,1039.3" fill="#fff" stroke="#000" stroke-width="1.4" />
<line x1="980.0" y1="1043.2" x2="977.2" y2="1037.9" stroke="#000" stroke-width="1.2"/>
<line x1="982.3" y1="1041.9" x2="979.5" y2="1036.6" stroke="#000" stroke-width="1.2"/>
<line x1="984.6" y1="1040.7" x2="981.8" y2="1035.4" stroke="#000" stroke-width="1.2"/>
<line x1="986.9" y1="1039.5" x2="984.1" y2="1034.2" stroke="#000" stroke-width="1.2"/>
<line x1="989.2" y1="1038.3" x2="986.4" y2="1033.0" stroke="#000" stroke-width="1.2"/>
<ellipse cx="976.0" cy="1041.9" rx="3.1" ry="5.0" transform="rotate(-28.0 976.0 1041.9)" fill="#fff" stroke="#000" stroke-width="1.5"/>
<ellipse cx="973.3" cy="1043.3" rx="3.1" ry="5.0" transform="rotate(-28.0 973.3 1043.3)" fill="#fff" stroke="#000" stroke-width="1.5"/>
<ellipse cx="963.3" cy="1048.3" rx="8.0" ry="11.5" transform="rotate(-20.0 963.3 1048.3)" fill="#fff" stroke="#000" stroke-width="1.6"/>
<polygon points="1044.1,1021.2 1059.1,1013.3 1056.3,1008.0 1041.2,1015.9" fill="#fff" stroke="#000" stroke-width="1.4" />
<line x1="1046.7" y1="1019.8" x2="1043.9" y2="1014.5" stroke="#000" stroke-width="1.2"/>
<line x1="1049.0" y1="1018.6" x2="1046.2" y2="1013.3" stroke="#000" stroke-width="1.2"/>
<line x1="1051.3" y1="1017.4" x2="1048.5" y2="1012.1" stroke="#000" stroke-width="1.2"/>
<line x1="1053.6" y1="1016.2" x2="1050.8" y2="1010.9" stroke="#000" stroke-width="1.2"/>
<line x1="1055.9" y1="1014.9" x2="1053.1" y2="1009.7" stroke="#000" stroke-width="1.2"/>
<ellipse cx="1042.6" cy="1018.6" rx="3.1" ry="5.0" transform="rotate(-28.0 1042.6 1018.6)" fill="#fff" stroke="#000" stroke-width="1.5"/>
<ellipse cx="1040.0" cy="1020.0" rx="3.1" ry="5.0" transform="rotate(-28.0 1040.0 1020.0)" fill="#fff" stroke="#000" stroke-width="1.5"/>
<ellipse cx="1030.0" cy="1025.0" rx="8.0" ry="11.5" transform="rotate(-20.0 1030.0 1025.0)" fill="#fff" stroke="#000" stroke-width="1.6"/>
<polygon points="1044.1,1082.9 1059.1,1074.9 1056.3,1069.6 1041.2,1077.6" fill="#fff" stroke="#000" stroke-width="1.4" />
<line x1="1046.7" y1="1081.5" x2="1043.9" y2="1076.2" stroke="#000" stroke-width="1.2"/>
<line x1="1049.0" y1="1080.3" x2="1046.2" y2="1075.0" stroke="#000" stroke-width="1.2"/>
<line x1="1051.3" y1="1079.1" x2="1048.5" y2="1073.8" stroke="#000" stroke-width="1.2"/>
<line x1="1053.6" y1="1077.8" x2="1050.8" y2="1072.5" stroke="#000" stroke-width="1.2"/>
<line x1="1055.9" y1="1076.6" x2="1053.1" y2="1071.3" stroke="#000" stroke-width="1.2"/>
<ellipse cx="1042.6" cy="1080.3" rx="3.1" ry="5.0" transform="rotate(-28.0 1042.6 1080.3)" fill="#fff" stroke="#000" stroke-width="1.5"/>
<ellipse cx="1040.0" cy="1081.7" rx="3.1" ry="5.0" transform="rotate(-28.0 1040.0 1081.7)" fill="#fff" stroke="#000" stroke-width="1.5"/>
<ellipse cx="1030.0" cy="1086.7" rx="8.0" ry="11.5" transform="rotate(-20.0 1030.0 1086.7)" fill="#fff" stroke="#000" stroke-width="1.6"/>
<polyline points="881.7,1043.0 816.7,1080.0 1225.0,1315.0 1545.0,1130.0 1308.0,996.7" fill="none" stroke="#000" stroke-width="2.7" />
<polyline points="816.7,1080.0 816.7,1106.7 1225.0,1340.0 1545.0,1156.7 1545.0,1130.0" fill="none" stroke="#000" stroke-width="2.7" />
<polyline points="1225.0,1315.0 1225.0,1340.0" fill="none" stroke="#000" stroke-width="2.7" />
<ellipse cx="840.0" cy="1079.0" rx="5.0" ry="3.0" transform="rotate(0.0 840.0 1079.0)" fill="none" stroke="#000" stroke-width="2"/>
<ellipse cx="1224.5" cy="1300.0" rx="6.0" ry="4.0" transform="rotate(0.0 1224.5 1300.0)" fill="none" stroke="#000" stroke-width="2.2"/>
<ellipse cx="1518.0" cy="1129.0" rx="6.0" ry="4.0" transform="rotate(0.0 1518.0 1129.0)" fill="none" stroke="#000" stroke-width="2.4"/>
<polyline points="1645.0,1028.3 1991.7,830.0 2263.3,986.7 2263.3,991.7" fill="none" stroke="#000" stroke-width="2.3" />
<polyline points="1645.0,1028.3 1645.0,1056.7 1810.0,1150.0 1811.7,1123.3 1645.0,1028.3" fill="none" stroke="#000" stroke-width="2.3" />
<polyline points="1811.7,1123.3 1920.0,1060.0" fill="none" stroke="#000" stroke-width="2.3" />
<polyline points="1816.0,1125.0 1923.3,1063.3" fill="none" stroke="#000" stroke-width="1.6" />
<polyline points="1810.0,1150.0 1815.0,1147.3" fill="none" stroke="#000" stroke-width="1.5" />
<polyline points="1812.0,1122.0 1812.0,1152.0 1997.0,1259.0 1998.0,1233.0 1932.0,1194.0" fill="none" stroke="#000" stroke-width="2.3" />
<polyline points="1812.0,1122.0 1918.0,1187.0" fill="none" stroke="#000" stroke-width="2.3" />
<polyline points="1913.0,1186.0 1913.0,1197.0 1934.0,1210.0 1934.0,1196.0" fill="none" stroke="#000" stroke-width="2" />
<polyline points="1913.0,1186.0 2263.0,988.0" fill="none" stroke="#000" stroke-width="2.3" />
<polyline points="1920.0,1190.0 2265.0,994.0" fill="none" stroke="#000" stroke-width="2.6" />
<polyline points="1934.0,1196.0 2273.0,999.0" fill="none" stroke="#000" stroke-width="1.6" />
<polyline points="2263.3,986.7 2263.3,993.0" fill="none" stroke="#000" stroke-width="2" />
<polyline points="1932.0,1194.0 2273.0,993.0 2343.3,1034.0 1998.0,1233.0" fill="none" stroke="#000" stroke-width="2.3" />
<polyline points="2343.3,1034.0 2343.3,1062.0 1997.0,1259.0" fill="none" stroke="#000" stroke-width="2.3" />
<ellipse cx="1943.3" cy="1048.3" rx="29.0" ry="15.5" transform="rotate(0.0 1943.3 1048.3)" fill="none" stroke="#000" stroke-width="2.2"/>
<ellipse cx="1943.3" cy="1050.5" rx="25.0" ry="12.5" transform="rotate(0.0 1943.3 1050.5)" fill="none" stroke="#000" stroke-width="1.5"/>
<path d="M1917,1044 Q1943,1026 1969,1043" fill="none" stroke="#000" stroke-width="1.3" />
<line x1="1613.0" y1="1068.0" x2="1887.0" y2="1223.1" stroke="#000" stroke-width="2.2"/>
<line x1="1615.0" y1="1081.0" x2="1886.0" y2="1234.4" stroke="#000" stroke-width="2.4"/>
<line x1="1599.0" y1="1085.0" x2="1956.0" y2="1287.1" stroke="#000" stroke-width="2"/>
<line x1="1599.0" y1="1096.0" x2="1954.0" y2="1296.9" stroke="#000" stroke-width="3.4"/>
<line x1="1597.0" y1="1102.0" x2="1954.0" y2="1304.1" stroke="#000" stroke-width="2"/>
<line x1="1598.0" y1="1110.0" x2="1954.0" y2="1311.5" stroke="#000" stroke-width="2.2"/>
<polyline points="1613.0,1068.0 1613.0,1080.0 1599.0,1085.0 1599.0,1096.0 1597.0,1102.0 1598.0,1110.0" fill="none" stroke="#000" stroke-width="2" />
<polyline points="1887.0,1223.0 1887.0,1236.0" fill="none" stroke="#000" stroke-width="2" />
<line x1="1900.0" y1="1233.0" x2="1969.0" y2="1272.1" stroke="#000" stroke-width="2.2"/>
<line x1="1901.0" y1="1245.0" x2="1968.0" y2="1282.9" stroke="#000" stroke-width="3"/>
<polyline points="1900.0,1233.0 1901.0,1245.0" fill="none" stroke="#000" stroke-width="2" />
<polyline points="1969.0,1271.0 1969.0,1300.0 1954.0,1313.0 1954.0,1300.0" fill="none" stroke="#000" stroke-width="2" />
<polyline points="1969.0,1278.0 1985.0,1285.0 1988.0,1291.0 1972.0,1300.0" fill="none" stroke="#000" stroke-width="2" />
<polyline points="1956.0,1287.0 1956.0,1298.0" fill="none" stroke="#000" stroke-width="2" />
<line x1="1620.0" y1="1093.0" x2="1950.0" y2="1279.8" stroke="#000" stroke-width="1.2"/>
<ellipse cx="1692.0" cy="1184.4" rx="15.0" ry="9.0" transform="rotate(0.0 1692.0 1184.4)" fill="none" stroke="#000" stroke-width="1.6"/>
<ellipse cx="1692.0" cy="1184.4" rx="5.0" ry="2.5" transform="rotate(0.0 1692.0 1184.4)" fill="none" stroke="#000" stroke-width="1.5"/>
<ellipse cx="1765.0" cy="1227.0" rx="15.0" ry="9.0" transform="rotate(0.0 1765.0 1227.0)" fill="none" stroke="#000" stroke-width="1.6"/>
<ellipse cx="1765.0" cy="1227.0" rx="5.0" ry="2.5" transform="rotate(0.0 1765.0 1227.0)" fill="none" stroke="#000" stroke-width="1.5"/>
<ellipse cx="1857.0" cy="1279.0" rx="15.0" ry="9.0" transform="rotate(0.0 1857.0 1279.0)" fill="none" stroke="#000" stroke-width="1.6"/>
<ellipse cx="1857.0" cy="1279.0" rx="5.0" ry="2.5" transform="rotate(0.0 1857.0 1279.0)" fill="none" stroke="#000" stroke-width="1.5"/>
<ellipse cx="1937.5" cy="1327.0" rx="15.0" ry="9.0" transform="rotate(0.0 1937.5 1327.0)" fill="none" stroke="#000" stroke-width="1.6"/>
<ellipse cx="1937.5" cy="1327.0" rx="5.0" ry="2.5" transform="rotate(0.0 1937.5 1327.0)" fill="none" stroke="#000" stroke-width="1.5"/>
<polyline points="1688.0,1214.0 1688.0,1238.0 1696.0,1238.0 1696.0,1214.0" fill="none" stroke="#000" stroke-width="1.6" />
<ellipse cx="1692.0" cy="1214.0" rx="4.0" ry="2.0" transform="rotate(0.0 1692.0 1214.0)" fill="none" stroke="#000" stroke-width="1.5"/>
<polygon points="1684.0,1238.0 1700.0,1238.0 1700.0,1256.0 1692.0,1260.0 1684.0,1256.0" fill="#fff" stroke="#000" stroke-width="1.8" />
<polyline points="1700.0,1244.0 1722.0,1230.0 1726.0,1232.0 1726.0,1244.0 1700.0,1256.0" fill="none" stroke="#000" stroke-width="1.8" />
<polyline points="1684.0,1246.0 1662.0,1260.0 1662.0,1272.0 1666.0,1273.0 1690.0,1259.0" fill="none" stroke="#000" stroke-width="1.8" />
<polyline points="1666.0,1262.0 1666.0,1273.0" fill="none" stroke="#000" stroke-width="1.4" />
<polyline points="1761.0,1256.0 1761.0,1280.0 1769.0,1280.0 1769.0,1256.0" fill="none" stroke="#000" stroke-width="1.6" />
<ellipse cx="1765.0" cy="1256.0" rx="4.0" ry="2.0" transform="rotate(0.0 1765.0 1256.0)" fill="none" stroke="#000" stroke-width="1.5"/>
<polygon points="1757.0,1280.0 1773.0,1280.0 1773.0,1298.0 1765.0,1302.0 1757.0,1298.0" fill="#fff" stroke="#000" stroke-width="1.8" />
<polyline points="1773.0,1286.0 1795.0,1272.0 1799.0,1274.0 1799.0,1286.0 1773.0,1298.0" fill="none" stroke="#000" stroke-width="1.8" />
<polyline points="1757.0,1288.0 1735.0,1302.0 1735.0,1314.0 1739.0,1315.0 1763.0,1301.0" fill="none" stroke="#000" stroke-width="1.8" />
<polyline points="1739.0,1304.0 1739.0,1315.0" fill="none" stroke="#000" stroke-width="1.4" />
<polyline points="1853.0,1308.0 1853.0,1332.0 1861.0,1332.0 1861.0,1308.0" fill="none" stroke="#000" stroke-width="1.6" />
<ellipse cx="1857.0" cy="1308.0" rx="4.0" ry="2.0" transform="rotate(0.0 1857.0 1308.0)" fill="none" stroke="#000" stroke-width="1.5"/>
<polygon points="1849.0,1332.0 1865.0,1332.0 1865.0,1350.0 1857.0,1354.0 1849.0,1350.0" fill="#fff" stroke="#000" stroke-width="1.8" />
<polyline points="1865.0,1338.0 1887.0,1324.0 1891.0,1326.0 1891.0,1338.0 1865.0,1350.0" fill="none" stroke="#000" stroke-width="1.8" />
<polyline points="1849.0,1340.0 1827.0,1354.0 1827.0,1366.0 1831.0,1367.0 1855.0,1353.0" fill="none" stroke="#000" stroke-width="1.8" />
<polyline points="1831.0,1356.0 1831.0,1367.0" fill="none" stroke="#000" stroke-width="1.4" />
<polyline points="1934.0,1358.0 1934.0,1382.0 1942.0,1382.0 1942.0,1358.0" fill="none" stroke="#000" stroke-width="1.6" />
<ellipse cx="1938.0" cy="1358.0" rx="4.0" ry="2.0" transform="rotate(0.0 1938.0 1358.0)" fill="none" stroke="#000" stroke-width="1.5"/>
<polygon points="1930.0,1382.0 1946.0,1382.0 1946.0,1400.0 1938.0,1404.0 1930.0,1400.0" fill="#fff" stroke="#000" stroke-width="1.8" />
<polyline points="1946.0,1388.0 1968.0,1374.0 1972.0,1376.0 1972.0,1388.0 1946.0,1400.0" fill="none" stroke="#000" stroke-width="1.8" />
<polyline points="1930.0,1390.0 1908.0,1404.0 1908.0,1416.0 1912.0,1417.0 1936.0,1403.0" fill="none" stroke="#000" stroke-width="1.8" />
<polyline points="1912.0,1406.0 1912.0,1417.0" fill="none" stroke="#000" stroke-width="1.4" />
<ellipse cx="1743.0" cy="1346.0" rx="7.0" ry="4.5" transform="rotate(0.0 1743.0 1346.0)" fill="none" stroke="#000" stroke-width="1.8"/>
<ellipse cx="1743.0" cy="1346.0" rx="3.0" ry="2.0" transform="rotate(0.0 1743.0 1346.0)" fill="none" stroke="#000" stroke-width="1.4"/>
<polygon points="1746.0,1392.0 1746.0,1361.0 1740.0,1361.0 1740.0,1392.0" fill="#fff" stroke="#000" stroke-width="1.4" />
<line x1="1746.0" y1="1389.0" x2="1740.0" y2="1389.0" stroke="#000" stroke-width="1.2"/>
<line x1="1746.0" y1="1386.4" x2="1740.0" y2="1386.4" stroke="#000" stroke-width="1.2"/>
<line x1="1746.0" y1="1383.8" x2="1740.0" y2="1383.8" stroke="#000" stroke-width="1.2"/>
<line x1="1746.0" y1="1381.2" x2="1740.0" y2="1381.2" stroke="#000" stroke-width="1.2"/>
<line x1="1746.0" y1="1378.6" x2="1740.0" y2="1378.6" stroke="#000" stroke-width="1.2"/>
<line x1="1746.0" y1="1376.0" x2="1740.0" y2="1376.0" stroke="#000" stroke-width="1.2"/>
<line x1="1746.0" y1="1373.4" x2="1740.0" y2="1373.4" stroke="#000" stroke-width="1.2"/>
<line x1="1746.0" y1="1370.8" x2="1740.0" y2="1370.8" stroke="#000" stroke-width="1.2"/>
<line x1="1746.0" y1="1368.2" x2="1740.0" y2="1368.2" stroke="#000" stroke-width="1.2"/>
<line x1="1746.0" y1="1365.6" x2="1740.0" y2="1365.6" stroke="#000" stroke-width="1.2"/>
<ellipse cx="1743.0" cy="1392.0" rx="3.7" ry="6.0" transform="rotate(-90.0 1743.0 1392.0)" fill="#fff" stroke="#000" stroke-width="1.5"/>
<ellipse cx="1743.0" cy="1395.0" rx="3.7" ry="6.0" transform="rotate(-90.0 1743.0 1395.0)" fill="#fff" stroke="#000" stroke-width="1.5"/>
<polygon points="1843.3,698.3 2190.0,495.0 2206.7,505.0 1860.0,706.7" fill="#fff" stroke="#000" stroke-width="2.3" />
<polyline points="2206.7,505.0 2206.7,553.3 1900.0,731.7" fill="none" stroke="#000" stroke-width="2.3" />
<polyline points="1841.7,698.3 1841.7,750.0 1860.0,753.3 1860.0,706.7" fill="none" stroke="#000" stroke-width="2.3" />
<polyline points="2191.7,496.0 2196.7,501.7 2201.7,502.7" fill="none" stroke="#000" stroke-width="1.3" />
<ellipse cx="1858.3" cy="696.0" rx="4.0" ry="2.5" transform="rotate(0.0 1858.3 696.0)" fill="none" stroke="#000" stroke-width="1.5"/>
<polyline points="1891.7,674.0 1900.0,676.7" fill="none" stroke="#000" stroke-width="2.5" />
<polyline points="1891.7,677.3 1900.0,680.0" fill="none" stroke="#000" stroke-width="1.5" />
<polyline points="1840.2,707.5 1813.5,723.5 1813.5,741.1 1845.6,757.9" fill="none" stroke="#000" stroke-width="2.2" />
<polyline points="1813.5,723.5 1840.2,735.8" fill="none" stroke="#000" stroke-width="2" />
<polyline points="1815.0,742.6 1845.6,759.4" fill="none" stroke="#000" stroke-width="3" stroke-dasharray="3 2"/>
<polygon points="1865.4,751.8 1911.2,724.3 1941.0,742.6 1941.0,764.0 1933.4,766.3 1929.6,764.8 1918.9,771.7 1918.9,785.4 1906.7,793.8 1897.5,793.0 1897.5,767.8" fill="#fff" stroke="#000" stroke-width="2.2" />
<polyline points="1897.5,767.8 1941.0,742.6" fill="none" stroke="#000" stroke-width="2.2" />
<polyline points="1865.4,751.8 1866.9,771.7 1896.0,788.5" fill="none" stroke="#000" stroke-width="2" />
<polyline points="1868.5,773.2 1896.0,790.0" fill="none" stroke="#000" stroke-width="2.5" stroke-dasharray="3 2"/>
<ellipse cx="1898.3" cy="735.8" rx="6.0" ry="3.5" transform="rotate(0.0 1898.3 735.8)" fill="none" stroke="#000" stroke-width="2.4"/>
<polygon points="1902.1,771.7 1915.8,765.6 1915.8,785.4 1902.1,790.0" fill="none" stroke="#000" stroke-width="2.4" />
<polyline points="1903.6,777.8 1914.3,771.7 1906.7,786.9" fill="none" stroke="#000" stroke-width="2" />
<polyline points="1926.5,753.3 1935.7,750.3 1935.7,762.5" fill="none" stroke="#000" stroke-width="2.2" />
<polygon points="1848.6,754.9 1860.8,761.0 1862.4,771.7 1850.1,768.6" fill="none" stroke="#000" stroke-width="2.6" />
<polygon points="1847.1,774.7 1866.9,774.7 1870.0,780.8 1859.3,790.0 1845.6,785.4" fill="none" stroke="#000" stroke-width="2.4" />
<polyline points="1851.7,776.2 1857.8,786.9" fill="none" stroke="#000" stroke-width="1.6" />
<polyline points="1860.8,776.2 1851.7,785.4" fill="none" stroke="#000" stroke-width="1.6" />
<polygon points="1831.8,787.7 1862.4,806.0 1816.5,884.7 1810.4,888.5 1802.8,888.5 1786.0,872.5 1786.0,867.9" fill="#fff" stroke="#000" stroke-width="2.2" />
<polyline points="1845.6,800.7 1805.8,872.5 1805.8,878.6" fill="none" stroke="#000" stroke-width="1.8" />
<polyline points="1787.5,869.4 1805.8,878.6 1816.5,884.7" fill="none" stroke="#000" stroke-width="1.8" />
<polyline points="1790.6,877.1 1805.8,885.5" fill="none" stroke="#000" stroke-width="2.5" stroke-dasharray="3 2"/>
<polyline points="1836.4,786.9 1860.8,802.2" fill="none" stroke="#000" stroke-width="3.4" />
<polyline points="1837.9,785.4 1845.6,790.0" fill="none" stroke="#000" stroke-width="2" />
<polygon points="1841.7,698.3 1841.7,750.0 1860.0,753.3 1860.0,706.7 1843.3,698.3" fill="#fff" stroke="#000" stroke-width="0.1" />
<polyline points="1841.7,698.3 1841.7,750.0 1860.0,753.3 1860.0,706.7" fill="none" stroke="#000" stroke-width="2.3" />
<polyline points="1860.0,706.7 1860.0,753.3" fill="none" stroke="#000" stroke-width="3.2" />
<polyline points="1843.3,698.3 1860.0,706.7" fill="none" stroke="#000" stroke-width="2.3" />
<ellipse cx="1956.7" cy="824.0" rx="28.0" ry="15.0" transform="rotate(0.0 1956.7 824.0)" fill="#fff" stroke="#000" stroke-width="1.6"/>
<ellipse cx="1956.7" cy="820.0" rx="28.0" ry="15.0" transform="rotate(0.0 1956.7 820.0)" fill="#fff" stroke="#000" stroke-width="1.8"/>
<polyline points="1936.7,831.7 1966.7,814.3" fill="none" stroke="#000" stroke-width="1.4" />
<polyline points="1939.3,833.3 1969.3,816.0" fill="none" stroke="#000" stroke-width="1.4" />
<ellipse cx="1943.3" cy="810.0" rx="2.5" ry="1.6" transform="rotate(0.0 1943.3 810.0)" fill="none" stroke="#000" stroke-width="1.1"/>
<ellipse cx="1960.0" cy="807.3" rx="2.5" ry="1.6" transform="rotate(0.0 1960.0 807.3)" fill="none" stroke="#000" stroke-width="1.1"/>
<ellipse cx="1945.0" cy="816.7" rx="2.5" ry="1.6" transform="rotate(0.0 1945.0 816.7)" fill="none" stroke="#000" stroke-width="1.1"/>
<ellipse cx="1936.7" cy="820.0" rx="2.5" ry="1.6" transform="rotate(0.0 1936.7 820.0)" fill="none" stroke="#000" stroke-width="1.1"/>
<ellipse cx="1955.0" cy="830.7" rx="2.5" ry="1.6" transform="rotate(0.0 1955.0 830.7)" fill="none" stroke="#000" stroke-width="1.1"/>
<ellipse cx="1963.3" cy="826.0" rx="2.5" ry="1.6" transform="rotate(0.0 1963.3 826.0)" fill="none" stroke="#000" stroke-width="1.1"/>
<ellipse cx="1970.0" cy="822.7" rx="2.5" ry="1.6" transform="rotate(0.0 1970.0 822.7)" fill="none" stroke="#000" stroke-width="1.1"/>
<ellipse cx="1973.3" cy="827.3" rx="2.5" ry="1.6" transform="rotate(0.0 1973.3 827.3)" fill="none" stroke="#000" stroke-width="1.1"/>
<ellipse cx="1978.3" cy="818.3" rx="2.5" ry="1.6" transform="rotate(0.0 1978.3 818.3)" fill="none" stroke="#000" stroke-width="1.1"/>
<path d="M1806.7,415.0 C1809.2,408.8 1807.3,410.2 1816.7,409.3 C1826.1,408.4 1853.9,408.1 1863.3,409.3 C1872.7,410.5 1867.5,409.1 1873.3,416.7 C1879.1,424.3 1890.2,442.3 1898.0,455.0 C1905.8,467.7 1912.7,476.7 1920.0,493.0 C1927.3,509.3 1938.4,537.4 1941.7,553.0 C1945.0,568.6 1943.3,576.9 1940.0,586.7 C1936.7,596.5 1926.2,603.7 1922.0,612.0 C1917.8,620.3 1917.5,631.6 1915.0,636.7 C1912.5,641.8 1910.0,643.0 1906.7,642.7 C1903.4,642.4 1899.0,638.8 1895.0,635.0 C1891.0,631.2 1888.5,625.5 1883.0,620.0 C1877.5,614.5 1869.2,607.5 1862.0,602.0 C1854.8,596.5 1849.2,597.6 1840.0,586.7 C1830.8,575.8 1813.9,553.4 1806.7,536.7 C1799.5,520.0 1797.5,501.7 1796.7,486.7 C1795.9,471.7 1800.0,458.6 1801.7,446.7 C1803.4,434.8 1804.2,421.2 1806.7,415.0Z" fill="none" stroke="#000" stroke-width="2" />
<path d="M1873.3,416.7 C1874.1,417.2 1869.4,406.8 1878.0,420.0 C1886.6,433.2 1913.7,473.5 1925.0,496.0 C1936.3,518.5 1942.8,539.3 1946.0,555.0 C1949.2,570.7 1947.5,579.5 1944.0,590.0 C1940.5,600.5 1929.0,609.7 1925.0,618.0 C1921.0,626.3 1922.8,635.5 1920.0,640.0 C1917.2,644.5 1910.0,644.2 1908.0,645.0" fill="none" stroke="#000" stroke-width="1.6" />
<ellipse cx="1866.7" cy="525.0" rx="33.0" ry="52.0" transform="rotate(-25.0 1866.7 525.0)" fill="none" stroke="#000" stroke-width="2.2"/>
<ellipse cx="1868.0" cy="527.0" rx="29.0" ry="47.0" transform="rotate(-25.0 1868.0 527.0)" fill="none" stroke="#000" stroke-width="1.4"/>
<path d="M1813.3,420.0 C1817.8,420.8 1831.1,423.3 1840.0,425.0 C1848.9,426.7 1862.2,428.1 1866.7,430.0 C1871.1,431.9 1871.1,436.1 1866.7,436.7 C1862.2,437.2 1848.3,434.4 1840.0,433.3 C1831.7,432.2 1821.1,432.2 1816.7,430.0 C1812.2,427.8 1813.9,421.7 1813.3,420.0" fill="none" stroke="#000" stroke-width="1.8" />
<polyline points="1818.3,428.3 1866.7,435.0" fill="none" stroke="#000" stroke-width="2.4" />
<polyline points="1835.0,407.3 1835.0,414.0" fill="none" stroke="#000" stroke-width="2" />
<ellipse cx="1836.7" cy="470.0" rx="3.0" ry="5.0" transform="rotate(-25.0 1836.7 470.0)" fill="none" stroke="#000" stroke-width="1.8"/>
<ellipse cx="1900.0" cy="510.0" rx="3.0" ry="5.0" transform="rotate(-25.0 1900.0 510.0)" fill="none" stroke="#000" stroke-width="1.8"/>
<ellipse cx="1833.3" cy="540.0" rx="3.0" ry="5.0" transform="rotate(-25.0 1833.3 540.0)" fill="none" stroke="#000" stroke-width="1.8"/>
<ellipse cx="1897.7" cy="581.0" rx="3.0" ry="5.0" transform="rotate(-25.0 1897.7 581.0)" fill="none" stroke="#000" stroke-width="1.8"/>
<ellipse cx="1901.7" cy="625.0" rx="4.0" ry="6.0" transform="rotate(-25.0 1901.7 625.0)" fill="none" stroke="#000" stroke-width="1.8"/>
<polyline points="2101.7,400.0 2258.3,320.0" fill="none" stroke="#000" stroke-width="3.2" />
<polyline points="2106.7,411.7 2261.7,331.7" fill="none" stroke="#000" stroke-width="1.6" />
<polyline points="2119.2,425.0 2265.0,351.7" fill="none" stroke="#000" stroke-width="2.6" />
<polyline points="2114.2,435.8 2268.3,359.2" fill="none" stroke="#000" stroke-width="2.6" />
<polyline points="2115.8,440.3 2268.3,363.7" fill="none" stroke="#000" stroke-width="1.5" />
<polyline points="2117.5,454.2 2270.0,374.2" fill="none" stroke="#000" stroke-width="2.6" />
<polyline points="2115.0,463.3 2269.2,387.5" fill="none" stroke="#000" stroke-width="2.4" />
<polyline points="2120.8,472.5 2268.3,396.7" fill="none" stroke="#000" stroke-width="2.6" />
<polyline points="2111.7,482.5 2265.0,405.0" fill="none" stroke="#000" stroke-width="2.0" />
<polyline points="2116.7,488.3 2260.0,413.3" fill="none" stroke="#000" stroke-width="2.6" />
<polyline points="2106.7,496.7 2251.7,425.0" fill="none" stroke="#000" stroke-width="3.2" />
<polyline points="2265.0,351.7 2269.2,360.0" fill="none" stroke="#000" stroke-width="2" />
<polyline points="2270.0,374.2 2270.0,386.7" fill="none" stroke="#000" stroke-width="2" />
<polyline points="2268.3,396.7 2265.8,405.0" fill="none" stroke="#000" stroke-width="2" />
<polyline points="2260.0,411.7 2251.7,425.0" fill="none" stroke="#000" stroke-width="2" />
<polyline points="1985.0,353.3 1990.8,345.8" fill="none" stroke="#000" stroke-width="2.4" />
<polyline points="1990.8,345.8 2060.0,299.2" fill="none" stroke="#000" stroke-width="2.6" />
<polyline points="2001.7,335.8 2066.7,302.5" fill="none" stroke="#000" stroke-width="2.2" />
<polyline points="2026.7,330.0 2082.5,308.3" fill="none" stroke="#000" stroke-width="2.4" />
<polyline points="2082.5,308.3 2085.0,319.2" fill="none" stroke="#000" stroke-width="2" />
<polyline points="2029.2,337.5 2085.0,319.2" fill="none" stroke="#000" stroke-width="2" />
<polyline points="2040.0,333.3 2097.5,315.0" fill="none" stroke="#000" stroke-width="2.4" />
<polyline points="2097.5,315.0 2099.2,325.0" fill="none" stroke="#000" stroke-width="2" />
<polyline points="2042.5,340.8 2099.2,325.0" fill="none" stroke="#000" stroke-width="2" />
<polyline points="2054.2,342.5 2110.8,325.8" fill="none" stroke="#000" stroke-width="2.4" />
<polyline points="2110.8,325.8 2113.3,335.0" fill="none" stroke="#000" stroke-width="2" />
<polyline points="2058.3,350.0 2113.3,335.0" fill="none" stroke="#000" stroke-width="2" />
<polyline points="2068.3,353.3 2124.2,337.5" fill="none" stroke="#000" stroke-width="2.4" />
<polyline points="2124.2,337.5 2126.7,346.7" fill="none" stroke="#000" stroke-width="2" />
<polyline points="2071.7,361.7 2126.7,346.7" fill="none" stroke="#000" stroke-width="2" />
<polyline points="2081.7,368.3 2136.7,356.7" fill="none" stroke="#000" stroke-width="2.4" />
<polyline points="2091.7,386.7 2133.3,363.3" fill="none" stroke="#000" stroke-width="3.6" />
<polyline points="2003.3,335.0 2005.8,343.3" fill="none" stroke="#000" stroke-width="2" />
<polyline points="2013.3,330.0 2016.7,338.3" fill="none" stroke="#000" stroke-width="2" />
<polyline points="1991.7,346.7 1995.8,353.3" fill="none" stroke="#000" stroke-width="2" />
<polyline points="2076.7,510.0 2086.7,501.7" fill="none" stroke="#000" stroke-width="2" />
<polyline points="2086.7,501.7 2110.0,495.0" fill="none" stroke="#000" stroke-width="2" />
<polyline points="2088.3,511.7 2110.0,500.0" fill="none" stroke="#000" stroke-width="2" />
<polyline points="2096.7,498.3 2101.7,506.7" fill="none" stroke="#000" stroke-width="2" />
<polyline points="2103.3,495.0 2108.3,503.3" fill="none" stroke="#000" stroke-width="2" />
<polyline points="2220.0,301.7 2253.3,283.3" fill="none" stroke="#000" stroke-width="2.4" />
<polyline points="2221.7,313.3 2243.3,301.7" fill="none" stroke="#000" stroke-width="3.2" />
<path d="M2101.7,400.0 C2103.1,402.2 2107.8,407.2 2110.0,413.3 C2112.2,419.4 2113.8,429.9 2115.0,436.7 C2116.2,443.5 2117.5,449.7 2117.5,454.2 C2117.5,458.6 2115.7,458.2 2115.0,463.3 C2114.3,468.5 2114.7,479.4 2113.3,485.0 C2111.9,490.6 2107.8,494.7 2106.7,496.7" fill="none" stroke="#000" stroke-width="1.8" />
<polyline points="2149.7,238.1 2160.0,235.3" fill="none" stroke="#000" stroke-width="2" />
<polyline points="2156.3,244.7 2171.3,241.9" fill="none" stroke="#000" stroke-width="1.6" />
<polyline points="2165.6,252.2 2184.4,243.8" fill="none" stroke="#000" stroke-width="1.6" />
<polyline points="2175.0,260.6 2199.4,255.0" fill="none" stroke="#000" stroke-width="1.6" />
<polyline points="2188.1,270.0 2212.5,264.4" fill="none" stroke="#000" stroke-width="1.6" />
<polyline points="2199.4,279.4 2216.3,275.6" fill="none" stroke="#000" stroke-width="1.6" />
<polyline points="2149.7,238.1 2156.3,244.7 2165.6,243.8 2165.6,252.2 2175.0,251.3 2175.0,260.6 2188.1,258.8 2188.1,270.0 2199.4,268.1 2199.4,279.4 2212.5,277.5" fill="none" stroke="#000" stroke-width="1.6" />
<ellipse cx="2291.0" cy="270.4" rx="87.0" ry="112.6" transform="rotate(-27.0 2291.0 270.4)" fill="#fff" stroke="#000" stroke-width="2.4"/>
<polyline points="2260.6,167.3 2264.9,166.9 2269.2,166.7 2273.7,166.7 2278.1,167.1 2282.6,167.7 2287.1,168.5 2291.6,169.6 2296.1,171.0 2300.6,172.6 2305.0,174.5 2309.4,176.6 2313.8,178.9 2318.1,181.5 2322.3,184.3 2326.4,187.3 2330.5,190.6 2334.4,194.0 2338.2,197.6 2341.9,201.4 2345.5,205.4 2348.9,209.6 2352.2,213.9 2355.3,218.3 2358.3,222.9 2361.0,227.6 2363.6,232.4 2366.0,237.4 2368.2,242.3 2370.3,247.4 2372.1,252.5 2373.7,257.7 2375.0,262.9 2376.2,268.2 2377.2,273.4 2377.9,278.6 2378.4,283.8 2378.7,289.0 2378.7,294.1 2378.5,299.2 2378.1,304.2" fill="none" stroke="#000" stroke-width="1.3" />
<ellipse cx="2278.3" cy="280.3" rx="58.0" ry="108.0" transform="rotate(-30.0 2278.3 280.3)" fill="#fff" stroke="#000" stroke-width="2.6"/>
<polyline points="2219.6,255.6 2196.1,219.5 2225.9,201.4 2222.3,212.2 2231.3,251.1" fill="none" stroke="#000" stroke-width="4.2" />
<polyline points="2222.3,212.2 2252.1,192.4 2260.2,194.2 2263.8,214.0 2253.9,226.7 2250.3,253.8" fill="none" stroke="#000" stroke-width="4.2" />
<polyline points="2253.9,226.7 2286.4,205.0 2286.4,226.7 2277.4,244.7 2266.5,262.8" fill="none" stroke="#000" stroke-width="4.2" />
<polyline points="2273.8,277.2 2311.7,270.0 2337.0,271.8 2318.9,291.7 2282.8,291.7" fill="none" stroke="#000" stroke-width="4.2" />
<polyline points="2318.9,291.7 2344.2,309.8 2313.5,334.1 2306.3,333.2 2284.6,302.5" fill="none" stroke="#000" stroke-width="4.2" />
<polyline points="2286.4,322.4 2306.3,353.1 2329.8,327.8 2337.0,335.0 2304.5,360.3 2275.6,365.7 2270.2,336.8" fill="none" stroke="#000" stroke-width="4.2" />
<polyline points="2205.1,201.4 2206.0,209.5 2214.2,204.1" fill="none" stroke="#000" stroke-width="4.2" />
<polygon points="2277.4,248.4 2310.8,234.8 2313.5,238.4 2293.6,259.2 2275.6,262.8" fill="#000" stroke="#000" stroke-width="2" />
<polyline points="2272.0,270.0 2297.2,255.6" fill="none" stroke="#000" stroke-width="3" />
<ellipse cx="2248.5" cy="293.5" rx="28.0" ry="42.0" transform="rotate(-22.0 2248.5 293.5)" fill="#fff" stroke="#000" stroke-width="3.2"/>
<ellipse cx="2250.3" cy="291.7" rx="13.0" ry="19.0" transform="rotate(-22.0 2250.3 291.7)" fill="#fff" stroke="#000" stroke-width="3.4"/>
<polyline points="2219.6,255.6 2219.6,322.4" fill="none" stroke="#000" stroke-width="2" />
<polyline points="2219.6,302.5 2235.8,295.3" fill="none" stroke="#000" stroke-width="3.5" />
<polyline points="2232.2,284.5 2253.9,320.6" fill="none" stroke="#000" stroke-width="1.4" />
<polygon points="2059.7,268.1 2125.3,230.6 2220.0,292.5 2220.0,324.4 2153.4,360.9 2146.9,367.5 2137.5,365.6 2059.7,298.1" fill="#fff" stroke="#000" stroke-width="2.4" />
<polyline points="2059.7,268.1 2154.4,325.3 2220.0,292.5" fill="none" stroke="#000" stroke-width="2.2" />
<polyline points="2154.4,325.3 2153.4,360.9" fill="none" stroke="#000" stroke-width="2.2" />
<ellipse cx="2040.0" cy="421.0" rx="56.6" ry="88.0" transform="rotate(-22.0 2040.0 421.0)" fill="#fff" stroke="#000" stroke-width="2"/>
<ellipse cx="2030.0" cy="427.0" rx="56.6" ry="88.0" transform="rotate(-22.0 2030.0 427.0)" fill="#fff" stroke="#000" stroke-width="2.4"/>
<polyline points="2001.2,348.2 2005.2,346.8 2009.4,346.0 2013.7,345.6 2018.2,345.8 2022.7,346.4 2027.4,347.6 2032.0,349.2 2036.7,351.4 2041.3,353.9 2045.9,357.0 2050.4,360.4 2054.8,364.3 2059.1,368.6 2063.2,373.2 2067.1,378.2 2070.8,383.4 2074.3,388.9 2077.5,394.7 2080.4,400.7 2083.1,406.8 2085.4,413.0 2087.4,419.3 2089.1,425.7 2090.5,432.1 2091.4,438.5 2092.1,444.8 2092.3,450.9 2092.2,457.0 2091.8,462.8 2090.9,468.4 2089.7,473.8 2088.2,478.9 2086.3,483.6 2084.1,488.0 2081.6,492.1 2078.8,495.7 2075.6,498.9 2072.3,501.7 2068.7,504.0 2064.8,505.8" fill="none" stroke="#000" stroke-width="1.2" />
<ellipse cx="2028.0" cy="435.0" rx="36.0" ry="50.0" transform="rotate(-22.0 2028.0 435.0)" fill="none" stroke="#000" stroke-width="2.4"/>
<polyline points="2008.3,393.2 2010.3,392.0 2012.3,390.9 2014.5,390.0 2016.7,389.4 2019.0,388.9 2021.3,388.7 2023.7,388.7 2026.1,389.0 2028.6,389.4 2031.1,390.1 2033.5,391.0 2036.0,392.0 2038.4,393.3 2040.8,394.8 2043.1,396.5 2045.4,398.4 2047.6,400.4 2049.7,402.6 2051.8,405.0 2053.7,407.5 2055.6,410.1 2057.3,412.8 2058.8,415.7 2060.3,418.6 2061.6,421.6 2062.8,424.7 2063.7,427.8 2064.6,431.0 2065.3,434.1 2065.8,437.3 2066.1,440.4 2066.3,443.5 2066.3,446.6 2066.1,449.6 2065.8,452.5 2065.2,455.4 2064.6,458.1 2063.7,460.7 2062.7,463.2 2061.5,465.6" fill="none" stroke="#000" stroke-width="1.2" />
<ellipse cx="1995.9" cy="367.3" rx="2.5" ry="4.5" transform="rotate(-22.0 1995.9 367.3)" fill="none" stroke="#000" stroke-width="1.8"/>
<ellipse cx="2068.2" cy="401.1" rx="2.5" ry="4.5" transform="rotate(-22.0 2068.2 401.1)" fill="none" stroke="#000" stroke-width="1.8"/>
<ellipse cx="2064.1" cy="492.7" rx="2.5" ry="4.5" transform="rotate(-22.0 2064.1 492.7)" fill="none" stroke="#000" stroke-width="1.8"/>
<ellipse cx="1991.8" cy="458.9" rx="2.5" ry="4.5" transform="rotate(-22.0 1991.8 458.9)" fill="none" stroke="#000" stroke-width="1.8"/>
<polyline points="1983.0,446.7 2023.0,426.7" fill="none" stroke="#000" stroke-width="2" />
<polyline points="1988.0,468.0 2033.0,445.0" fill="none" stroke="#000" stroke-width="2" />
<path d="M2023,426.7 Q2036,430 2033,445" fill="none" stroke="#000" stroke-width="2" />
<polygon points="1983.0,446.7 2023.0,426.7 2033.0,445.0 1988.0,468.0" fill="#fff" stroke="#000" stroke-width="0.1" />
<polyline points="1983.0,446.7 2023.0,426.7" fill="none" stroke="#000" stroke-width="2" />
<polyline points="1988.0,468.0 2033.0,445.0" fill="none" stroke="#000" stroke-width="2" />
<path d="M2023,426.7 Q2036,432 2033,445" fill="none" stroke="#000" stroke-width="2" />
<ellipse cx="1985.0" cy="457.0" rx="7.0" ry="11.0" transform="rotate(-22.0 1985.0 457.0)" fill="#fff" stroke="#000" stroke-width="2"/>
<polygon points="1995.0,446.0 2005.0,441.0 2007.0,445.0 1997.0,450.0" fill="none" stroke="#000" stroke-width="1.3" />
<polygon points="1999.7,300.9 2006.3,296.3 2015.6,295.3 2016.6,301.9 2006.3,307.5 1999.7,306.6" fill="none" stroke="#000" stroke-width="1.6" />
<polyline points="2004.4,301.9 2011.9,299.1" fill="none" stroke="#000" stroke-width="1.4" />
<polyline points="2055.0,168.0 2106.7,138.0" fill="none" stroke="#000" stroke-width="2" />
<polyline points="2068.0,195.0 2120.0,163.0" fill="none" stroke="#000" stroke-width="2" />
<ellipse cx="2061.7" cy="181.0" rx="9.5" ry="14.5" transform="rotate(-25.0 2061.7 181.0)" fill="#fff" stroke="#000" stroke-width="2"/>
<path d="M2106.7,138 Q2120,140 2120,163" fill="none" stroke="#000" stroke-width="2" />
<polyline points="2112.0,140.0 2125.0,143.0 2135.0,155.0" fill="none" stroke="#000" stroke-width="1.3" />
<polyline points="2114.0,142.0 2140.0,152.0 2146.0,158.0" fill="none" stroke="#000" stroke-width="1.3" />
<path d="M2160.7,1259.0 C2157.8,1261.1 2147.7,1266.0 2143.3,1271.5 C2139.0,1277.0 2135.9,1285.8 2134.7,1292.1 C2133.4,1298.4 2133.0,1303.6 2135.7,1309.4 C2138.5,1315.2 2144.2,1321.7 2150.9,1326.7 C2157.6,1331.8 2166.3,1336.6 2175.8,1339.7 C2185.4,1342.9 2197.5,1345.0 2208.3,1345.7 C2219.2,1346.4 2230.9,1345.3 2240.8,1344.1 C2250.8,1342.9 2260.0,1340.7 2267.9,1338.7 C2275.9,1336.7 2285.1,1333.2 2288.5,1332.2" fill="none" stroke="#000" stroke-width="2.2" />
<path d="M2134.7,1292.1 C2134.7,1295.0 2132.0,1302.6 2134.7,1309.4 C2137.4,1316.3 2144.1,1327.1 2150.9,1333.2 C2157.8,1339.4 2166.3,1343.0 2175.8,1346.2 C2185.4,1349.5 2197.5,1351.8 2208.3,1352.7 C2219.2,1353.7 2227.3,1353.8 2240.8,1351.7 C2254.4,1349.5 2279.3,1343.2 2289.6,1339.7 C2299.9,1336.3 2300.4,1332.5 2302.6,1331.1" fill="none" stroke="#000" stroke-width="2.2" />
<path d="M2169.3,1261.7 C2166.4,1263.7 2155.6,1269.5 2152.0,1273.7 C2148.4,1277.8 2146.9,1280.9 2147.7,1286.7 C2148.4,1292.4 2151.6,1302.4 2156.3,1308.3 C2161.0,1314.3 2167.2,1318.6 2175.8,1322.4 C2184.5,1326.2 2197.5,1329.8 2208.3,1331.1 C2219.2,1332.3 2229.3,1331.8 2240.8,1330.0 C2252.4,1328.2 2271.5,1321.9 2277.7,1320.2" fill="none" stroke="#000" stroke-width="2" />
<path d="M2175.8,1263.9 C2173.3,1265.9 2163.4,1271.1 2160.7,1275.8 C2158.0,1280.5 2158.5,1286.7 2159.6,1292.1 C2160.7,1297.5 2162.7,1303.8 2167.2,1308.3 C2171.7,1312.8 2178.0,1316.5 2186.7,1319.2 C2195.3,1321.9 2208.3,1324.2 2219.2,1324.6 C2230.0,1324.9 2246.2,1321.9 2251.7,1321.3" fill="none" stroke="#000" stroke-width="1.6" />
<path d="M2201.8,1308.3 C2205.6,1308.9 2216.3,1311.4 2224.6,1311.6 C2232.9,1311.8 2245.9,1309.1 2251.7,1309.4 C2257.4,1309.8 2259.2,1312.1 2259.2,1313.7 C2259.2,1315.4 2257.4,1317.9 2251.7,1319.2 C2245.9,1320.4 2233.6,1321.5 2224.6,1321.3 C2215.6,1321.2 2202.0,1318.6 2197.5,1318.1" fill="none" stroke="#000" stroke-width="1.6" />
<polyline points="2212.7,1325.7 2237.6,1325.7" fill="none" stroke="#000" stroke-width="3.2" />
<polyline points="2204.0,1274.7 2284.2,1322.4" fill="none" stroke="#000" stroke-width="2" />
<polyline points="2250.6,1266.1 2259.2,1260.7 2265.7,1263.9 2301.5,1323.5 2302.6,1331.1 2289.6,1336.5 2288.5,1330.0 2257.1,1271.5 2250.6,1266.1" fill="none" stroke="#000" stroke-width="2.2" />
<polyline points="2257.1,1271.5 2265.7,1263.9" fill="none" stroke="#000" stroke-width="1.8" />
<polyline points="2288.5,1330.0 2301.5,1323.5" fill="none" stroke="#000" stroke-width="1.8" />
<polyline points="2160.1,1227.1 2169.3,1221.7 2182.9,1227.6 2182.9,1253.6 2189.9,1254.2 2189.9,1233.6 2195.3,1230.9 2195.3,1221.1 2182.9,1215.7 2169.3,1221.7" fill="none" stroke="#000" stroke-width="2.2" />
<polyline points="2160.1,1227.1 2160.1,1256.3 2169.3,1256.3 2179.1,1261.7" fill="none" stroke="#000" stroke-width="2.2" />
<polyline points="2182.9,1227.6 2192.6,1222.7 2195.3,1221.1" fill="none" stroke="#000" stroke-width="2" />
<polyline points="2192.1,1233.6 2201.8,1226.5 2251.1,1253.6 2251.1,1260.7 2247.3,1262.8 2247.3,1286.7 2240.8,1286.7 2240.8,1260.7 2192.1,1233.6" fill="none" stroke="#000" stroke-width="2.2" />
<polyline points="2240.8,1260.7 2250.6,1254.2" fill="none" stroke="#000" stroke-width="1.8" />
<ellipse cx="2185.6" cy="1282.3" rx="18.5" ry="18.5" transform="rotate(0.0 2185.6 1282.3)" fill="#fff" stroke="#000" stroke-width="2"/>
<ellipse cx="2185.6" cy="1271.5" rx="14.0" ry="6.5" transform="rotate(0.0 2185.6 1271.5)" fill="none" stroke="#000" stroke-width="1.8"/>
<polyline points="2170.4,1297.5 2170.4,1311.6 2184.5,1314.8 2199.7,1309.4 2199.7,1297.5" fill="none" stroke="#000" stroke-width="2" />
<polyline points="2271.2,1269.3 2322.1,1240.1 2332.9,1244.4 2334.5,1258.5 2282.0,1285.6 2275.5,1275.8" fill="none" stroke="#000" stroke-width="2.2" />
<polyline points="2277.7,1278.0 2330.7,1250.9 2332.9,1244.4" fill="none" stroke="#000" stroke-width="1.6" />
<polyline points="2284.2,1280.2 2327.5,1256.3" fill="none" stroke="#000" stroke-width="2.5" stroke-dasharray="4 3"/>
<polyline points="2163.0,1330.0 2121.7,1355.0 2123.0,1362.0 2135.0,1370.0 2177.0,1350.0" fill="none" stroke="#000" stroke-width="2.2" />
<polyline points="2128.0,1360.0 2170.0,1338.0" fill="none" stroke="#000" stroke-width="1.4" />
<polyline points="2135.0,1366.0 2176.0,1345.0" fill="none" stroke="#000" stroke-width="1.4" />
<ellipse cx="2148.0" cy="1343.0" rx="4.0" ry="3.0" transform="rotate(0.0 2148.0 1343.0)" fill="none" stroke="#000" stroke-width="2.5"/>
<polyline points="2154.2,1326.7 2162.8,1323.5 2162.8,1335.4 2156.3,1339.7" fill="none" stroke="#000" stroke-width="1.8" />
<path d="M623.3,133.3 C624.2,127.8 624.4,107.9 628.3,100.0 C632.2,92.1 641.1,88.1 646.7,86.0 C652.2,83.9 657.8,85.0 661.7,87.3 C665.6,89.7 669.2,89.6 670.0,100.0 C670.8,110.4 668.9,127.8 666.7,150.0 C664.4,172.2 657.8,208.3 656.7,233.3 C655.6,258.3 658.3,277.8 660.0,300.0 C661.7,322.2 665.0,350.0 666.7,366.7 C668.3,383.3 670.3,391.7 670.0,400.0 C669.7,408.3 667.8,413.6 665.0,416.7 C662.2,419.7 655.3,418.1 653.3,418.3" fill="none" stroke="#000" stroke-width="2.2" />
<polyline points="653.3,418.3 623.0,481.7 616.7,476.7" fill="none" stroke="#000" stroke-width="2.2" />
<path d="M623.3,133.3 C622.8,144.4 620.0,177.8 620.0,200.0 C620.0,222.2 622.2,244.4 623.3,266.7 C624.4,288.9 627.5,312.8 626.7,333.3 C625.8,353.9 620.0,366.1 618.3,390.0 C616.7,413.9 616.9,462.2 616.7,476.7" fill="none" stroke="#000" stroke-width="2.2" />
<path d="M626.7,133.3 C626.2,144.4 623.9,177.8 624.0,200.0 C624.1,222.2 626.2,244.4 627.3,266.7 C628.4,288.9 631.4,312.8 630.7,333.3 C629.9,353.9 624.2,366.1 622.7,390.0 C621.1,413.9 621.6,462.2 621.3,476.7" fill="none" stroke="#000" stroke-width="1.5" />
<path d="M626.7,133.3 C627.5,128.3 628.3,110.6 631.7,103.3 C635.0,96.1 641.9,92.2 646.7,90.0 C651.4,87.8 657.8,90.0 660.0,90.0" fill="none" stroke="#000" stroke-width="1.5" />
<polyline points="618.3,390.0 622.7,391.7" fill="none" stroke="#000" stroke-width="1.4" />
<ellipse cx="650.0" cy="115.0" rx="7.5" ry="12.5" transform="rotate(25.0 650.0 115.0)" fill="none" stroke="#000" stroke-width="2.2"/>
<path d="M646,105 Q652,112 655,124" fill="none" stroke="#000" stroke-width="1.4" />
<polygon points="579.6,77.4 606.9,91.9 609.8,86.6 582.4,72.1" fill="#fff" stroke="#000" stroke-width="1.4" />
<line x1="582.2" y1="78.8" x2="585.0" y2="73.5" stroke="#000" stroke-width="1.2"/>
<line x1="584.5" y1="80.0" x2="587.3" y2="74.7" stroke="#000" stroke-width="1.2"/>
<line x1="586.8" y1="81.2" x2="589.6" y2="75.9" stroke="#000" stroke-width="1.2"/>
<line x1="589.1" y1="82.5" x2="591.9" y2="77.2" stroke="#000" stroke-width="1.2"/>
<line x1="591.4" y1="83.7" x2="594.2" y2="78.4" stroke="#000" stroke-width="1.2"/>
<line x1="593.7" y1="84.9" x2="596.5" y2="79.6" stroke="#000" stroke-width="1.2"/>
<line x1="596.0" y1="86.1" x2="598.8" y2="80.8" stroke="#000" stroke-width="1.2"/>
<line x1="598.3" y1="87.3" x2="601.1" y2="82.0" stroke="#000" stroke-width="1.2"/>
<line x1="600.6" y1="88.6" x2="603.4" y2="83.3" stroke="#000" stroke-width="1.2"/>
<line x1="602.9" y1="89.8" x2="605.7" y2="84.5" stroke="#000" stroke-width="1.2"/>
<ellipse cx="581.0" cy="74.7" rx="3.7" ry="6.0" transform="rotate(28.0 581.0 74.7)" fill="#fff" stroke="#000" stroke-width="1.5"/>
<ellipse cx="578.3" cy="73.3" rx="3.7" ry="6.0" transform="rotate(28.0 578.3 73.3)" fill="#fff" stroke="#000" stroke-width="1.5"/>
<ellipse cx="617.3" cy="95.7" rx="5.0" ry="8.0" transform="rotate(30.0 617.3 95.7)" fill="none" stroke="#000" stroke-width="1.8"/>
<ellipse cx="619.3" cy="94.7" rx="3.0" ry="5.0" transform="rotate(30.0 619.3 94.7)" fill="none" stroke="#000" stroke-width="1.4"/>
<ellipse cx="711.7" cy="520.0" rx="3.5" ry="6.5" transform="rotate(30.0 711.7 520.0)" fill="none" stroke="#000" stroke-width="1.8"/>
<ellipse cx="682.5" cy="547.0" rx="5.6" ry="8.0" transform="rotate(-20.0 682.5 547.0)" fill="#fff" stroke="#000" stroke-width="1.6"/>
<ellipse cx="681.0" cy="546.0" rx="5.6" ry="8.0" transform="rotate(-20.0 681.0 546.0)" fill="#fff" stroke="#000" stroke-width="1.6"/>
<ellipse cx="681.0" cy="546.0" rx="2.8" ry="4.0" transform="rotate(-20.0 681.0 546.0)" fill="none" stroke="#000" stroke-width="2.2"/>
<ellipse cx="741.5" cy="581.0" rx="5.6" ry="8.0" transform="rotate(-20.0 741.5 581.0)" fill="#fff" stroke="#000" stroke-width="1.6"/>
<ellipse cx="740.0" cy="580.0" rx="5.6" ry="8.0" transform="rotate(-20.0 740.0 580.0)" fill="#fff" stroke="#000" stroke-width="1.6"/>
<ellipse cx="740.0" cy="580.0" rx="2.8" ry="4.0" transform="rotate(-20.0 740.0 580.0)" fill="none" stroke="#000" stroke-width="2.2"/>
<ellipse cx="682.5" cy="706.0" rx="5.6" ry="8.0" transform="rotate(-20.0 682.5 706.0)" fill="#fff" stroke="#000" stroke-width="1.6"/>
<ellipse cx="681.0" cy="705.0" rx="5.6" ry="8.0" transform="rotate(-20.0 681.0 705.0)" fill="#fff" stroke="#000" stroke-width="1.6"/>
<ellipse cx="681.0" cy="705.0" rx="2.8" ry="4.0" transform="rotate(-20.0 681.0 705.0)" fill="none" stroke="#000" stroke-width="2.2"/>
<ellipse cx="741.5" cy="740.0" rx="5.6" ry="8.0" transform="rotate(-20.0 741.5 740.0)" fill="#fff" stroke="#000" stroke-width="1.6"/>
<ellipse cx="740.0" cy="739.0" rx="5.6" ry="8.0" transform="rotate(-20.0 740.0 739.0)" fill="#fff" stroke="#000" stroke-width="1.6"/>
<ellipse cx="740.0" cy="739.0" rx="2.8" ry="4.0" transform="rotate(-20.0 740.0 739.0)" fill="none" stroke="#000" stroke-width="2.2"/>
<polyline points="782.0,460.0 782.0,675.0 786.2,677.5 808.8,665.0 808.8,472.5" fill="none" stroke="#000" stroke-width="2.2" />
<polyline points="786.2,462.5 786.2,677.5" fill="none" stroke="#000" stroke-width="1.6" />
<path d="M786.2,462.5 Q797.5,450.0 808.8,472.5" fill="none" stroke="#000" stroke-width="2.6" />
<path d="M782.0,460.0 C784.6,458.3 792.2,452.8 797.5,450.0 C802.8,447.2 809.0,442.6 813.8,443.0 C818.5,443.4 823.1,447.2 826.2,452.5 C829.4,457.8 831.5,471.2 832.5,475.0" fill="none" stroke="#000" stroke-width="2.2" />
<polyline points="832.5,475.0 832.5,600.0 812.5,610.0 810.0,611.2" fill="none" stroke="#000" stroke-width="2.2" />
<polyline points="812.5,482.5 812.5,610.0" fill="none" stroke="#000" stroke-width="1.5" />
<ellipse cx="808.8" cy="452.5" rx="5.5" ry="3.5" transform="rotate(0.0 808.8 452.5)" fill="none" stroke="#000" stroke-width="1.8"/>
<polyline points="787.5,493.8 808.8,483.8" fill="none" stroke="#000" stroke-width="1.5" />
<polyline points="787.5,493.8 808.8,507.5" fill="none" stroke="#000" stroke-width="1.5" />
<polyline points="787.5,516.2 808.8,507.5" fill="none" stroke="#000" stroke-width="1.5" />
<polyline points="787.5,516.2 808.8,526.2" fill="none" stroke="#000" stroke-width="1.5" />
<polyline points="787.5,538.8 808.8,526.2" fill="none" stroke="#000" stroke-width="1.5" />
<polyline points="787.5,538.8 808.8,550.0" fill="none" stroke="#000" stroke-width="1.5" />
<polyline points="787.5,637.5 808.8,650.0" fill="none" stroke="#000" stroke-width="1.5" />
<polyline points="787.5,650.0 808.8,638.8" fill="none" stroke="#000" stroke-width="1.5" />
<polyline points="810.0,611.2 810.0,691.2 813.8,693.0 842.0,676.2 871.2,692.5 874.2,691.2 874.2,510.0 835.0,487.5" fill="none" stroke="#000" stroke-width="2.2" />
<polyline points="813.8,612.5 813.8,693.0" fill="none" stroke="#000" stroke-width="1.5" />
<polyline points="842.0,496.2 842.0,676.2" fill="none" stroke="#000" stroke-width="2" />
<polyline points="871.2,508.8 871.2,692.5" fill="none" stroke="#000" stroke-width="1.8" />
<polyline points="832.5,487.5 842.0,496.2 871.2,508.8" fill="none" stroke="#000" stroke-width="1.8" />
<polyline points="820.0,605.0 820.0,635.0 827.5,631.2 827.5,602.5" fill="none" stroke="#000" stroke-width="1.6" />
<polyline points="823.8,607.5 823.8,632.5" fill="none" stroke="#000" stroke-width="1.2" />
<ellipse cx="855.5" cy="515.0" rx="3.0" ry="5.0" transform="rotate(-20.0 855.5 515.0)" fill="none" stroke="#000" stroke-width="1.8"/>
<ellipse cx="858.0" cy="603.8" rx="4.2" ry="7.0" transform="rotate(-20.0 858.0 603.8)" fill="none" stroke="#000" stroke-width="1.8"/>
<ellipse cx="855.5" cy="671.2" rx="3.0" ry="5.0" transform="rotate(-20.0 855.5 671.2)" fill="none" stroke="#000" stroke-width="1.8"/>
<polygon points="760.0,576.2 792.5,560.0 797.5,575.0 766.2,591.2" fill="#fff" stroke="#000" stroke-width="0.1" />
<polyline points="760.0,576.2 792.5,560.0" fill="none" stroke="#000" stroke-width="2" />
<polyline points="766.2,592.0 800.0,575.0" fill="none" stroke="#000" stroke-width="2" />
<ellipse cx="797.5" cy="567.0" rx="6.0" ry="11.0" transform="rotate(-20.0 797.5 567.0)" fill="#fff" stroke="#000" stroke-width="2"/>
<ellipse cx="763.0" cy="584.5" rx="6.0" ry="8.5" transform="rotate(-20.0 763.0 584.5)" fill="#fff" stroke="#000" stroke-width="2.2"/>
<ellipse cx="822.5" cy="583.8" rx="6.0" ry="8.0" transform="rotate(-20.0 822.5 583.8)" fill="#fff" stroke="#000" stroke-width="2"/>
<ellipse cx="825.0" cy="582.5" rx="6.0" ry="8.0" transform="rotate(-20.0 825.0 582.5)" fill="#fff" stroke="#000" stroke-width="1.6"/>
<ellipse cx="808.5" cy="242.0" rx="11.5" ry="6.0" transform="rotate(0.0 808.5 242.0)" fill="#fff" stroke="#000" stroke-width="1.5"/>
<ellipse cx="808.5" cy="238.0" rx="11.5" ry="6.0" transform="rotate(0.0 808.5 238.0)" fill="#fff" stroke="#000" stroke-width="1.5"/>
<ellipse cx="808.5" cy="233.0" rx="11.5" ry="6.0" transform="rotate(0.0 808.5 233.0)" fill="#fff" stroke="#000" stroke-width="1.6"/>
<ellipse cx="808.5" cy="233.0" rx="5.0" ry="2.6" transform="rotate(0.0 808.5 233.0)" fill="none" stroke="#000" stroke-width="1.5"/>
<ellipse cx="808.5" cy="263.5" rx="11.5" ry="6.0" transform="rotate(0.0 808.5 263.5)" fill="#fff" stroke="#000" stroke-width="1.5"/>
<ellipse cx="808.5" cy="259.5" rx="11.5" ry="6.0" transform="rotate(0.0 808.5 259.5)" fill="#fff" stroke="#000" stroke-width="1.5"/>
<ellipse cx="808.5" cy="254.5" rx="11.5" ry="6.0" transform="rotate(0.0 808.5 254.5)" fill="#fff" stroke="#000" stroke-width="1.6"/>
<ellipse cx="808.5" cy="254.5" rx="5.0" ry="2.6" transform="rotate(0.0 808.5 254.5)" fill="none" stroke="#000" stroke-width="1.5"/>
<ellipse cx="808.5" cy="285.0" rx="11.5" ry="6.0" transform="rotate(0.0 808.5 285.0)" fill="#fff" stroke="#000" stroke-width="1.5"/>
<ellipse cx="808.5" cy="281.0" rx="11.5" ry="6.0" transform="rotate(0.0 808.5 281.0)" fill="#fff" stroke="#000" stroke-width="1.5"/>
<ellipse cx="808.5" cy="276.0" rx="11.5" ry="6.0" transform="rotate(0.0 808.5 276.0)" fill="#fff" stroke="#000" stroke-width="1.6"/>
<ellipse cx="808.5" cy="276.0" rx="5.0" ry="2.6" transform="rotate(0.0 808.5 276.0)" fill="none" stroke="#000" stroke-width="1.5"/>
<ellipse cx="808.5" cy="306.5" rx="11.5" ry="6.0" transform="rotate(0.0 808.5 306.5)" fill="#fff" stroke="#000" stroke-width="1.5"/>
<ellipse cx="808.5" cy="302.5" rx="11.5" ry="6.0" transform="rotate(0.0 808.5 302.5)" fill="#fff" stroke="#000" stroke-width="1.5"/>
<ellipse cx="808.5" cy="297.5" rx="11.5" ry="6.0" transform="rotate(0.0 808.5 297.5)" fill="#fff" stroke="#000" stroke-width="1.6"/>
<ellipse cx="808.5" cy="297.5" rx="5.0" ry="2.6" transform="rotate(0.0 808.5 297.5)" fill="none" stroke="#000" stroke-width="1.5"/>
<ellipse cx="808.5" cy="328.0" rx="11.5" ry="6.0" transform="rotate(0.0 808.5 328.0)" fill="#fff" stroke="#000" stroke-width="1.5"/>
<ellipse cx="808.5" cy="324.0" rx="11.5" ry="6.0" transform="rotate(0.0 808.5 324.0)" fill="#fff" stroke="#000" stroke-width="1.5"/>
<ellipse cx="808.5" cy="319.0" rx="11.5" ry="6.0" transform="rotate(0.0 808.5 319.0)" fill="#fff" stroke="#000" stroke-width="1.6"/>
<ellipse cx="808.5" cy="319.0" rx="5.0" ry="2.6" transform="rotate(0.0 808.5 319.0)" fill="none" stroke="#000" stroke-width="1.5"/>
<ellipse cx="808.5" cy="349.5" rx="11.5" ry="6.0" transform="rotate(0.0 808.5 349.5)" fill="#fff" stroke="#000" stroke-width="1.5"/>
<ellipse cx="808.5" cy="345.5" rx="11.5" ry="6.0" transform="rotate(0.0 808.5 345.5)" fill="#fff" stroke="#000" stroke-width="1.5"/>
<ellipse cx="808.5" cy="340.5" rx="11.5" ry="6.0" transform="rotate(0.0 808.5 340.5)" fill="#fff" stroke="#000" stroke-width="1.6"/>
<ellipse cx="808.5" cy="340.5" rx="5.0" ry="2.6" transform="rotate(0.0 808.5 340.5)" fill="none" stroke="#000" stroke-width="1.5"/>
<ellipse cx="808.5" cy="371.0" rx="11.5" ry="6.0" transform="rotate(0.0 808.5 371.0)" fill="#fff" stroke="#000" stroke-width="1.5"/>
<ellipse cx="808.5" cy="367.0" rx="11.5" ry="6.0" transform="rotate(0.0 808.5 367.0)" fill="#fff" stroke="#000" stroke-width="1.5"/>
<ellipse cx="808.5" cy="362.0" rx="11.5" ry="6.0" transform="rotate(0.0 808.5 362.0)" fill="#fff" stroke="#000" stroke-width="1.6"/>
<ellipse cx="808.5" cy="362.0" rx="5.0" ry="2.6" transform="rotate(0.0 808.5 362.0)" fill="none" stroke="#000" stroke-width="1.5"/>
<ellipse cx="808.5" cy="392.5" rx="11.5" ry="6.0" transform="rotate(0.0 808.5 392.5)" fill="#fff" stroke="#000" stroke-width="1.5"/>
<ellipse cx="808.5" cy="388.5" rx="11.5" ry="6.0" transform="rotate(0.0 808.5 388.5)" fill="#fff" stroke="#000" stroke-width="1.5"/>
<ellipse cx="808.5" cy="383.5" rx="11.5" ry="6.0" transform="rotate(0.0 808.5 383.5)" fill="#fff" stroke="#000" stroke-width="1.6"/>
<ellipse cx="808.5" cy="383.5" rx="5.0" ry="2.6" transform="rotate(0.0 808.5 383.5)" fill="none" stroke="#000" stroke-width="1.5"/>
<ellipse cx="808.5" cy="414.0" rx="11.5" ry="6.0" transform="rotate(0.0 808.5 414.0)" fill="#fff" stroke="#000" stroke-width="1.5"/>
<ellipse cx="808.5" cy="410.0" rx="11.5" ry="6.0" transform="rotate(0.0 808.5 410.0)" fill="#fff" stroke="#000" stroke-width="1.5"/>
<ellipse cx="808.5" cy="405.0" rx="11.5" ry="6.0" transform="rotate(0.0 808.5 405.0)" fill="#fff" stroke="#000" stroke-width="1.6"/>
<ellipse cx="808.5" cy="405.0" rx="5.0" ry="2.6" transform="rotate(0.0 808.5 405.0)" fill="none" stroke="#000" stroke-width="1.5"/>
<ellipse cx="808.5" cy="435.5" rx="11.5" ry="6.0" transform="rotate(0.0 808.5 435.5)" fill="#fff" stroke="#000" stroke-width="1.5"/>
<ellipse cx="808.5" cy="431.5" rx="11.5" ry="6.0" transform="rotate(0.0 808.5 431.5)" fill="#fff" stroke="#000" stroke-width="1.5"/>
<ellipse cx="808.5" cy="426.5" rx="11.5" ry="6.0" transform="rotate(0.0 808.5 426.5)" fill="#fff" stroke="#000" stroke-width="1.6"/>
<ellipse cx="808.5" cy="426.5" rx="5.0" ry="2.6" transform="rotate(0.0 808.5 426.5)" fill="none" stroke="#000" stroke-width="1.5"/>
<ellipse cx="808.5" cy="425.0" rx="11.5" ry="6.0" transform="rotate(0.0 808.5 425.0)" fill="#fff" stroke="#000" stroke-width="1.6"/>
<ellipse cx="808.5" cy="425.0" rx="5.0" ry="2.6" transform="rotate(0.0 808.5 425.0)" fill="none" stroke="#000" stroke-width="1.4"/>
<polyline points="801.7,170.0 801.7,216.7 814.3,216.7 814.3,170.0" fill="#fff" stroke="#000" stroke-width="1.8" />
<path d="M801.7,216 Q808,221 814.3,216" fill="none" stroke="#000" stroke-width="1.6" />
<polygon points="793.3,158.3 793.3,170.0 801.7,174.0 814.3,174.0 823.3,168.3 823.3,158.3" fill="#fff" stroke="#000" stroke-width="1.8" />
<ellipse cx="808.3" cy="158.3" rx="15.0" ry="7.0" transform="rotate(0.0 808.3 158.3)" fill="#fff" stroke="#000" stroke-width="1.8"/>
<ellipse cx="808.3" cy="158.3" rx="5.0" ry="2.5" transform="rotate(0.0 808.3 158.3)" fill="none" stroke="#000" stroke-width="1.3"/>
<path d="M786.7,131.7 C788.1,129.7 791.4,123.1 795.0,120.0 C798.6,116.9 803.6,113.9 808.3,113.3 C813.1,112.8 819.7,113.6 823.3,116.7 C826.9,119.7 828.9,129.2 830.0,131.7" fill="none" stroke="#000" stroke-width="1.8" />
<polyline points="786.7,131.7 808.3,144.0 830.0,131.7" fill="none" stroke="#000" stroke-width="1.8" />
<path d="M795.0,124.0 C796.7,125.3 801.9,129.3 805.0,131.7 C808.1,134.1 811.9,137.2 813.3,138.3" fill="none" stroke="#000" stroke-width="1.3" />
<ellipse cx="810.0" cy="120.7" rx="5.0" ry="3.0" transform="rotate(0.0 810.0 120.7)" fill="none" stroke="#000" stroke-width="1.6"/>
<polygon points="781.2,921.2 815.0,905.0 826.2,930.0 792.5,950.0" fill="#9a9a9a" stroke="#000" stroke-width="1" />
<line x1="781.2" y1="921.2" x2="792.5" y2="950.0" stroke="#000" stroke-width="1.1"/>
<line x1="783.5" y1="920.2" x2="794.8" y2="948.7" stroke="#000" stroke-width="1.1"/>
<line x1="785.8" y1="919.1" x2="797.0" y2="947.3" stroke="#000" stroke-width="1.1"/>
<line x1="788.0" y1="918.0" x2="799.2" y2="946.0" stroke="#000" stroke-width="1.1"/>
<line x1="790.2" y1="916.9" x2="801.5" y2="944.7" stroke="#000" stroke-width="1.1"/>
<line x1="792.5" y1="915.8" x2="803.8" y2="943.3" stroke="#000" stroke-width="1.1"/>
<line x1="794.8" y1="914.8" x2="806.0" y2="942.0" stroke="#000" stroke-width="1.1"/>
<line x1="797.0" y1="913.7" x2="808.2" y2="940.7" stroke="#000" stroke-width="1.1"/>
<line x1="799.2" y1="912.6" x2="810.5" y2="939.3" stroke="#000" stroke-width="1.1"/>
<line x1="801.5" y1="911.5" x2="812.8" y2="938.0" stroke="#000" stroke-width="1.1"/>
<line x1="803.8" y1="910.4" x2="815.0" y2="936.7" stroke="#000" stroke-width="1.1"/>
<line x1="806.0" y1="909.3" x2="817.2" y2="935.3" stroke="#000" stroke-width="1.1"/>
<line x1="808.2" y1="908.2" x2="819.5" y2="934.0" stroke="#000" stroke-width="1.1"/>
<line x1="810.5" y1="907.2" x2="821.8" y2="932.7" stroke="#000" stroke-width="1.1"/>
<line x1="812.8" y1="906.1" x2="824.0" y2="931.3" stroke="#000" stroke-width="1.1"/>
<line x1="815.0" y1="905.0" x2="826.2" y2="930.0" stroke="#000" stroke-width="1.1"/>
<polygon points="757.5,900.0 765.0,895.0 800.0,873.8 807.5,875.0 820.0,898.8 781.2,921.2 771.9,925.6" fill="#fff" stroke="#000" stroke-width="2" />
<polyline points="765.0,895.0 781.2,921.2" fill="none" stroke="#000" stroke-width="2" />
<polyline points="771.2,897.5 801.2,878.8" fill="none" stroke="#000" stroke-width="1.3" />
<ellipse cx="770.0" cy="910.6" rx="5.0" ry="7.0" transform="rotate(-25.0 770.0 910.6)" fill="none" stroke="#000" stroke-width="2.6"/>
<polyline points="821.2,871.2 860.0,850.0" fill="none" stroke="#000" stroke-width="2" />
<polyline points="841.2,878.8 868.1,863.8" fill="none" stroke="#000" stroke-width="2" />
<path d="M860.0,850.0 Q869.4,851.2 868.1,863.8" fill="none" stroke="#000" stroke-width="2" />
<ellipse cx="826.9" cy="878.1" rx="5.5" ry="8.0" transform="rotate(-25.0 826.9 878.1)" fill="none" stroke="#000" stroke-width="2.2"/>
<path d="M826.9,886.2 Q832.5,886.2 832.5,881.2" fill="none" stroke="#000" stroke-width="1.5" />
<polygon points="672.5,963.8 752.5,915.0 758.8,923.8 676.2,971.9" fill="#fff" stroke="#000" stroke-width="0.1" />
<polyline points="672.5,963.8 752.5,915.0" fill="none" stroke="#000" stroke-width="2" />
<polyline points="676.2,971.9 758.8,923.8" fill="none" stroke="#000" stroke-width="2" />
<ellipse cx="755.6" cy="919.4" rx="3.5" ry="5.0" transform="rotate(-28.0 755.6 919.4)" fill="none" stroke="#000" stroke-width="1.8"/>
<line x1="734.4" y1="926.0" x2="740.0" y2="933.1" stroke="#000" stroke-width="1.4"/>
<line x1="738.1" y1="923.8" x2="743.8" y2="930.9" stroke="#000" stroke-width="1.4"/>
<line x1="741.9" y1="921.5" x2="747.5" y2="928.6" stroke="#000" stroke-width="1.4"/>
<line x1="745.6" y1="919.2" x2="751.2" y2="926.4" stroke="#000" stroke-width="1.4"/>
<line x1="749.4" y1="917.0" x2="755.0" y2="924.1" stroke="#000" stroke-width="1.4"/>
<line x1="753.1" y1="914.8" x2="758.8" y2="921.9" stroke="#000" stroke-width="1.4"/>
<ellipse cx="664.4" cy="971.9" rx="10.0" ry="14.4" transform="rotate(-20.0 664.4 971.9)" fill="#fff" stroke="#000" stroke-width="2"/>
<polyline points="672.5,963.8 674.4,971.2" fill="none" stroke="#000" stroke-width="1.4" />
<path d="M666.7,1190.0 C668.6,1188.8 674.8,1184.0 678.3,1182.7 C681.9,1181.4 684.8,1181.0 688.1,1182.2 C691.3,1183.4 694.9,1186.6 697.8,1190.0 C700.7,1193.4 704.1,1198.1 705.6,1202.6 C707.0,1207.2 707.3,1213.8 706.5,1217.2 C705.7,1220.6 703.0,1221.4 700.7,1223.1 C698.4,1224.7 694.2,1226.3 692.9,1226.9" fill="none" stroke="#000" stroke-width="2.2" />
<ellipse cx="672.7" cy="1215.4" rx="16.5" ry="21.5" transform="rotate(-20.0 672.7 1215.4)" fill="#fff" stroke="#000" stroke-width="6.5"/>
<ellipse cx="664.7" cy="1218.4" rx="16.5" ry="21.5" transform="rotate(-20.0 664.7 1218.4)" fill="#fff" stroke="#000" stroke-width="2.6"/>
<ellipse cx="664.7" cy="1218.4" rx="8.0" ry="12.3" transform="rotate(-20.0 664.7 1218.4)" fill="none" stroke="#000" stroke-width="2.4"/>
<ellipse cx="685.1" cy="1188.1" rx="4.2" ry="2.4" transform="rotate(0.0 685.1 1188.1)" fill="none" stroke="#000" stroke-width="2.2"/>
<rect x="682" y="1137" width="7.5" height="19.5" rx="3" fill="#fff" stroke="#000" stroke-width="2"/>
<line x1="683.0" y1="1143.0" x2="689.0" y2="1144.0" stroke="#000" stroke-width="1.3"/>
<line x1="683.0" y1="1147.5" x2="689.0" y2="1148.5" stroke="#000" stroke-width="1.3"/>
<path d="M1094,30 Q1094,10 1131.7,8 Q1170,10 1170,30 Q1168,48 1160,52 L1143,64 L1123,64 L1103,55 Q1095,45 1094,30Z" fill="#fff" stroke="#000" stroke-width="2.2" />
<path d="M1094,32 Q1110,46 1131.7,47 Q1155,46 1170,32" fill="none" stroke="#000" stroke-width="1.6" />
<ellipse cx="1099.0" cy="42.0" rx="3.0" ry="5.0" transform="rotate(0.0 1099.0 42.0)" fill="none" stroke="#000" stroke-width="1.5"/>
<ellipse cx="1116.0" cy="53.0" rx="6.0" ry="5.0" transform="rotate(0.0 1116.0 53.0)" fill="none" stroke="#000" stroke-width="1.5"/>
<ellipse cx="1141.0" cy="55.0" rx="6.0" ry="5.0" transform="rotate(0.0 1141.0 55.0)" fill="none" stroke="#000" stroke-width="1.5"/>
<ellipse cx="1163.0" cy="44.0" rx="3.5" ry="5.0" transform="rotate(0.0 1163.0 44.0)" fill="none" stroke="#000" stroke-width="1.5"/>
<polyline points="1120.0,63.0 1125.0,66.0 1140.0,66.0 1145.0,63.0" fill="none" stroke="#000" stroke-width="1.5" />
<ellipse cx="1130.0" cy="83.0" rx="12.5" ry="8.0" transform="rotate(0.0 1130.0 83.0)" fill="#fff" stroke="#000" stroke-width="2"/>
<ellipse cx="1130.0" cy="80.5" rx="12.5" ry="8.0" transform="rotate(0.0 1130.0 80.5)" fill="#fff" stroke="#000" stroke-width="2"/>
<ellipse cx="1130.0" cy="80.5" rx="6.0" ry="3.8" transform="rotate(0.0 1130.0 80.5)" fill="#666" stroke="#000" stroke-width="3"/>
<polygon points="1126.0,100.0 1126.0,210.0 1138.3,210.0 1138.3,100.0" fill="#fff" stroke="#000" stroke-width="1.6" />
<line x1="1126.0" y1="102.0" x2="1138.3" y2="103.5" stroke="#000" stroke-width="1.3"/>
<line x1="1126.0" y1="105.0" x2="1138.3" y2="106.5" stroke="#000" stroke-width="1.3"/>
<line x1="1126.0" y1="108.0" x2="1138.3" y2="109.5" stroke="#000" stroke-width="1.3"/>
<line x1="1126.0" y1="111.0" x2="1138.3" y2="112.5" stroke="#000" stroke-width="1.3"/>
<line x1="1126.0" y1="114.0" x2="1138.3" y2="115.5" stroke="#000" stroke-width="1.3"/>
<line x1="1126.0" y1="117.0" x2="1138.3" y2="118.5" stroke="#000" stroke-width="1.3"/>
<line x1="1126.0" y1="120.0" x2="1138.3" y2="121.5" stroke="#000" stroke-width="1.3"/>
<line x1="1126.0" y1="123.0" x2="1138.3" y2="124.5" stroke="#000" stroke-width="1.3"/>
<line x1="1126.0" y1="126.0" x2="1138.3" y2="127.5" stroke="#000" stroke-width="1.3"/>
<line x1="1126.0" y1="129.0" x2="1138.3" y2="130.5" stroke="#000" stroke-width="1.3"/>
<line x1="1126.0" y1="132.0" x2="1138.3" y2="133.5" stroke="#000" stroke-width="1.3"/>
<line x1="1126.0" y1="148.0" x2="1138.3" y2="149.5" stroke="#000" stroke-width="1.3"/>
<line x1="1126.0" y1="151.0" x2="1138.3" y2="152.5" stroke="#000" stroke-width="1.3"/>
<line x1="1126.0" y1="154.0" x2="1138.3" y2="155.5" stroke="#000" stroke-width="1.3"/>
<line x1="1126.0" y1="157.0" x2="1138.3" y2="158.5" stroke="#000" stroke-width="1.3"/>
<line x1="1126.0" y1="160.0" x2="1138.3" y2="161.5" stroke="#000" stroke-width="1.3"/>
<line x1="1126.0" y1="163.0" x2="1138.3" y2="164.5" stroke="#000" stroke-width="1.3"/>
<line x1="1126.0" y1="166.0" x2="1138.3" y2="167.5" stroke="#000" stroke-width="1.3"/>
<line x1="1126.0" y1="169.0" x2="1138.3" y2="170.5" stroke="#000" stroke-width="1.3"/>
<line x1="1126.0" y1="172.0" x2="1138.3" y2="173.5" stroke="#000" stroke-width="1.3"/>
<line x1="1126.0" y1="175.0" x2="1138.3" y2="176.5" stroke="#000" stroke-width="1.3"/>
<line x1="1126.0" y1="178.0" x2="1138.3" y2="179.5" stroke="#000" stroke-width="1.3"/>
<line x1="1126.0" y1="181.0" x2="1138.3" y2="182.5" stroke="#000" stroke-width="1.3"/>
<line x1="1126.0" y1="184.0" x2="1138.3" y2="185.5" stroke="#000" stroke-width="1.3"/>
<line x1="1126.0" y1="187.0" x2="1138.3" y2="188.5" stroke="#000" stroke-width="1.3"/>
<line x1="1126.0" y1="190.0" x2="1138.3" y2="191.5" stroke="#000" stroke-width="1.3"/>
<line x1="1126.0" y1="193.0" x2="1138.3" y2="194.5" stroke="#000" stroke-width="1.3"/>
<line x1="1126.0" y1="196.0" x2="1138.3" y2="197.5" stroke="#000" stroke-width="1.3"/>
<line x1="1126.0" y1="199.0" x2="1138.3" y2="200.5" stroke="#000" stroke-width="1.3"/>
<line x1="1126.0" y1="202.0" x2="1138.3" y2="203.5" stroke="#000" stroke-width="1.3"/>
<line x1="1126.0" y1="205.0" x2="1138.3" y2="206.5" stroke="#000" stroke-width="1.3"/>
<line x1="1126.0" y1="208.0" x2="1138.3" y2="209.5" stroke="#000" stroke-width="1.3"/>
<polygon points="1361.4,165.7 1349.0,172.2 1353.0,179.7 1365.3,173.2" fill="#fff" stroke="#000" stroke-width="1.4" />
<ellipse cx="1363.4" cy="169.4" rx="4.7" ry="7.5" transform="rotate(152.0 1363.4 169.4)" fill="#fff" stroke="#000" stroke-width="1.5"/>
<ellipse cx="1366.0" cy="168.0" rx="4.7" ry="7.5" transform="rotate(152.0 1366.0 168.0)" fill="#fff" stroke="#000" stroke-width="1.5"/>
<ellipse cx="1366.0" cy="168.0" rx="5.5" ry="8.0" transform="rotate(152.0 1366.0 168.0)" fill="#fff" stroke="#000" stroke-width="1.6"/>
<ellipse cx="1351.0" cy="176.0" rx="2.8" ry="4.4" transform="rotate(152.0 1351.0 176.0)" fill="#fff" stroke="#000" stroke-width="1.3"/>
<polygon points="1406.4,192.7 1394.0,199.2 1398.0,206.7 1410.3,200.2" fill="#fff" stroke="#000" stroke-width="1.4" />
<ellipse cx="1408.4" cy="196.4" rx="4.7" ry="7.5" transform="rotate(152.0 1408.4 196.4)" fill="#fff" stroke="#000" stroke-width="1.5"/>
<ellipse cx="1411.0" cy="195.0" rx="4.7" ry="7.5" transform="rotate(152.0 1411.0 195.0)" fill="#fff" stroke="#000" stroke-width="1.5"/>
<ellipse cx="1411.0" cy="195.0" rx="5.5" ry="8.0" transform="rotate(152.0 1411.0 195.0)" fill="#fff" stroke="#000" stroke-width="1.6"/>
<ellipse cx="1396.0" cy="203.0" rx="2.8" ry="4.4" transform="rotate(152.0 1396.0 203.0)" fill="#fff" stroke="#000" stroke-width="1.3"/>
<polygon points="1361.4,324.4 1349.0,330.9 1353.0,338.4 1365.3,331.9" fill="#fff" stroke="#000" stroke-width="1.4" />
<ellipse cx="1363.4" cy="328.1" rx="4.7" ry="7.5" transform="rotate(152.0 1363.4 328.1)" fill="#fff" stroke="#000" stroke-width="1.5"/>
<ellipse cx="1366.0" cy="326.7" rx="4.7" ry="7.5" transform="rotate(152.0 1366.0 326.7)" fill="#fff" stroke="#000" stroke-width="1.5"/>
<ellipse cx="1366.0" cy="326.7" rx="5.5" ry="8.0" transform="rotate(152.0 1366.0 326.7)" fill="#fff" stroke="#000" stroke-width="1.6"/>
<ellipse cx="1351.0" cy="334.7" rx="2.8" ry="4.4" transform="rotate(152.0 1351.0 334.7)" fill="#fff" stroke="#000" stroke-width="1.3"/>
<polygon points="1406.4,351.0 1394.0,357.5 1398.0,365.0 1410.3,358.5" fill="#fff" stroke="#000" stroke-width="1.4" />
<ellipse cx="1408.4" cy="354.7" rx="4.7" ry="7.5" transform="rotate(152.0 1408.4 354.7)" fill="#fff" stroke="#000" stroke-width="1.5"/>
<ellipse cx="1411.0" cy="353.3" rx="4.7" ry="7.5" transform="rotate(152.0 1411.0 353.3)" fill="#fff" stroke="#000" stroke-width="1.5"/>
<ellipse cx="1411.0" cy="353.3" rx="5.5" ry="8.0" transform="rotate(152.0 1411.0 353.3)" fill="#fff" stroke="#000" stroke-width="1.6"/>
<ellipse cx="1396.0" cy="361.3" rx="2.8" ry="4.4" transform="rotate(152.0 1396.0 361.3)" fill="#fff" stroke="#000" stroke-width="1.3"/>
<ellipse cx="1338.2" cy="183.5" rx="5.9" ry="8.5" transform="rotate(-25.0 1338.2 183.5)" fill="#fff" stroke="#000" stroke-width="1.8"/>
<ellipse cx="1336.0" cy="182.7" rx="5.9" ry="8.5" transform="rotate(-25.0 1336.0 182.7)" fill="#fff" stroke="#000" stroke-width="1.8"/>
<ellipse cx="1336.0" cy="182.7" rx="2.4" ry="3.4" transform="rotate(-25.0 1336.0 182.7)" fill="none" stroke="#000" stroke-width="1.8"/>
<ellipse cx="1338.2" cy="342.5" rx="5.9" ry="8.5" transform="rotate(-25.0 1338.2 342.5)" fill="#fff" stroke="#000" stroke-width="1.8"/>
<ellipse cx="1336.0" cy="341.7" rx="5.9" ry="8.5" transform="rotate(-25.0 1336.0 341.7)" fill="#fff" stroke="#000" stroke-width="1.8"/>
<ellipse cx="1336.0" cy="341.7" rx="2.4" ry="3.4" transform="rotate(-25.0 1336.0 341.7)" fill="none" stroke="#000" stroke-width="1.8"/>
<ellipse cx="1384.9" cy="369.1" rx="5.9" ry="8.5" transform="rotate(-25.0 1384.9 369.1)" fill="#fff" stroke="#000" stroke-width="1.8"/>
<ellipse cx="1382.7" cy="368.3" rx="5.9" ry="8.5" transform="rotate(-25.0 1382.7 368.3)" fill="#fff" stroke="#000" stroke-width="1.8"/>
<ellipse cx="1382.7" cy="368.3" rx="2.4" ry="3.4" transform="rotate(-25.0 1382.7 368.3)" fill="none" stroke="#000" stroke-width="1.8"/>
<ellipse cx="1382.7" cy="210.7" rx="6.0" ry="8.0" transform="rotate(-25.0 1382.7 210.7)" fill="none" stroke="#000" stroke-width="1.8"/>
<ellipse cx="1384.0" cy="211.0" rx="3.0" ry="4.0" transform="rotate(-25.0 1384.0 211.0)" fill="none" stroke="#000" stroke-width="1.4"/>
<ellipse cx="1396.5" cy="315.8" rx="9.8" ry="13.0" transform="rotate(-25.0 1396.5 315.8)" fill="#fff" stroke="#000" stroke-width="1.8"/>
<ellipse cx="1394.3" cy="315.0" rx="9.8" ry="13.0" transform="rotate(-25.0 1394.3 315.0)" fill="#fff" stroke="#000" stroke-width="1.8"/>
<ellipse cx="1394.3" cy="315.0" rx="3.9" ry="5.2" transform="rotate(-25.0 1394.3 315.0)" fill="none" stroke="#000" stroke-width="1.8"/>
<polygon points="1400.0,266.7 1413.3,258.3 1458.3,281.7 1461.7,290.0 1486.7,301.7 1486.7,308.3 1471.7,315.0 1441.7,300.0 1436.7,301.7 1400.0,271.7" fill="#fff" stroke="#000" stroke-width="2" />
<polyline points="1403.3,268.3 1433.3,283.3" fill="none" stroke="#000" stroke-width="1.5" />
<polyline points="1461.7,290.0 1445.0,298.3" fill="none" stroke="#000" stroke-width="1.5" />
<polyline points="1471.7,315.0 1471.7,308.3 1486.7,301.7" fill="none" stroke="#000" stroke-width="1.4" />
<ellipse cx="1436.0" cy="292.7" rx="7.0" ry="9.0" transform="rotate(-25.0 1436.0 292.7)" fill="#fff" stroke="#000" stroke-width="2"/>
<ellipse cx="1432.7" cy="294.3" rx="7.0" ry="9.0" transform="rotate(-25.0 1432.7 294.3)" fill="#fff" stroke="#000" stroke-width="2.2"/>
<ellipse cx="1432.7" cy="294.3" rx="3.5" ry="4.5" transform="rotate(-25.0 1432.7 294.3)" fill="none" stroke="#000" stroke-width="1.5"/>
<ellipse cx="1481.3" cy="267.0" rx="8.5" ry="12.0" transform="rotate(-20.0 1481.3 267.0)" fill="#fff" stroke="#000" stroke-width="2"/>
<ellipse cx="1478.3" cy="265.0" rx="8.5" ry="12.0" transform="rotate(-20.0 1478.3 265.0)" fill="#fff" stroke="#000" stroke-width="2.2"/>
<ellipse cx="1478.3" cy="265.0" rx="5.0" ry="7.0" transform="rotate(-20.0 1478.3 265.0)" fill="#555" stroke="#000" stroke-width="3"/>
<polygon points="1503.3,256.6 1563.1,222.1 1558.3,213.9 1498.6,248.4" fill="#fff" stroke="#000" stroke-width="1.4" />
<line x1="1505.9" y1="255.1" x2="1501.2" y2="246.9" stroke="#000" stroke-width="1.2"/>
<line x1="1508.2" y1="253.8" x2="1503.4" y2="245.6" stroke="#000" stroke-width="1.2"/>
<line x1="1510.4" y1="252.5" x2="1505.7" y2="244.3" stroke="#000" stroke-width="1.2"/>
<line x1="1512.7" y1="251.2" x2="1507.9" y2="243.0" stroke="#000" stroke-width="1.2"/>
<line x1="1514.9" y1="249.9" x2="1510.2" y2="241.7" stroke="#000" stroke-width="1.2"/>
<line x1="1517.2" y1="248.6" x2="1512.4" y2="240.4" stroke="#000" stroke-width="1.2"/>
<line x1="1519.4" y1="247.3" x2="1514.7" y2="239.1" stroke="#000" stroke-width="1.2"/>
<line x1="1521.7" y1="246.0" x2="1516.9" y2="237.8" stroke="#000" stroke-width="1.2"/>
<line x1="1523.9" y1="244.7" x2="1519.2" y2="236.5" stroke="#000" stroke-width="1.2"/>
<line x1="1526.2" y1="243.4" x2="1521.4" y2="235.2" stroke="#000" stroke-width="1.2"/>
<line x1="1528.4" y1="242.1" x2="1523.7" y2="233.9" stroke="#000" stroke-width="1.2"/>
<line x1="1530.7" y1="240.8" x2="1525.9" y2="232.6" stroke="#000" stroke-width="1.2"/>
<line x1="1532.9" y1="239.5" x2="1528.2" y2="231.3" stroke="#000" stroke-width="1.2"/>
<line x1="1535.2" y1="238.2" x2="1530.4" y2="230.0" stroke="#000" stroke-width="1.2"/>
<line x1="1537.4" y1="236.9" x2="1532.7" y2="228.7" stroke="#000" stroke-width="1.2"/>
<line x1="1539.7" y1="235.6" x2="1534.9" y2="227.4" stroke="#000" stroke-width="1.2"/>
<line x1="1541.9" y1="234.3" x2="1537.2" y2="226.1" stroke="#000" stroke-width="1.2"/>
<line x1="1544.2" y1="233.0" x2="1539.4" y2="224.8" stroke="#000" stroke-width="1.2"/>
<line x1="1546.4" y1="231.7" x2="1541.7" y2="223.5" stroke="#000" stroke-width="1.2"/>
<line x1="1548.7" y1="230.4" x2="1543.9" y2="222.2" stroke="#000" stroke-width="1.2"/>
<line x1="1550.9" y1="229.1" x2="1546.2" y2="220.9" stroke="#000" stroke-width="1.2"/>
<line x1="1553.2" y1="227.8" x2="1548.4" y2="219.6" stroke="#000" stroke-width="1.2"/>
<line x1="1555.4" y1="226.5" x2="1550.7" y2="218.3" stroke="#000" stroke-width="1.2"/>
<line x1="1557.7" y1="225.2" x2="1552.9" y2="217.0" stroke="#000" stroke-width="1.2"/>
<line x1="1559.9" y1="223.9" x2="1555.2" y2="215.7" stroke="#000" stroke-width="1.2"/>
<ellipse cx="1500.9" cy="252.5" rx="0.6" ry="1.0" transform="rotate(-30.0 1500.9 252.5)" fill="#fff" stroke="#000" stroke-width="1.5"/>
<ellipse cx="1498.3" cy="254.0" rx="0.6" ry="1.0" transform="rotate(-30.0 1498.3 254.0)" fill="#fff" stroke="#000" stroke-width="1.5"/>
<ellipse cx="1499.3" cy="254.0" rx="3.2" ry="5.0" transform="rotate(-30.0 1499.3 254.0)" fill="#fff" stroke="#000" stroke-width="1.5"/>
<ellipse cx="1582.7" cy="207.7" rx="25.0" ry="37.0" transform="rotate(-22.0 1582.7 207.7)" fill="#fff" stroke="#000" stroke-width="2.2"/>
<ellipse cx="1574.7" cy="210.7" rx="25.0" ry="37.0" transform="rotate(-22.0 1574.7 210.7)" fill="#fff" stroke="#000" stroke-width="2.2"/>
<ellipse cx="1562.7" cy="218.7" rx="13.0" ry="19.0" transform="rotate(-22.0 1562.7 218.7)" fill="#fff" stroke="#000" stroke-width="1.8"/>
<ellipse cx="1556.7" cy="221.7" rx="9.0" ry="13.0" transform="rotate(-22.0 1556.7 221.7)" fill="#fff" stroke="#000" stroke-width="1.8"/>
<ellipse cx="1579.2" cy="178.0" rx="3.0" ry="5.5" transform="rotate(-52.0 1579.2 178.0)" fill="none" stroke="#000" stroke-width="1.3"/>
<ellipse cx="1594.6" cy="190.5" rx="3.0" ry="5.5" transform="rotate(-32.0 1594.6 190.5)" fill="none" stroke="#000" stroke-width="1.3"/>
<ellipse cx="1603.4" cy="214.1" rx="3.0" ry="5.5" transform="rotate(-9.5 1603.4 214.1)" fill="none" stroke="#000" stroke-width="1.3"/>
<ellipse cx="1600.6" cy="231.0" rx="3.0" ry="5.5" transform="rotate(8.0 1600.6 231.0)" fill="none" stroke="#000" stroke-width="1.3"/>
<polygon points="1553.7,340.2 1536.0,374.9 1543.2,378.6 1560.9,343.8" fill="#fff" stroke="#000" stroke-width="1.4" />
<line x1="1552.4" y1="342.9" x2="1559.5" y2="346.5" stroke="#000" stroke-width="1.2"/>
<line x1="1551.2" y1="345.2" x2="1558.3" y2="348.8" stroke="#000" stroke-width="1.2"/>
<line x1="1550.0" y1="347.5" x2="1557.1" y2="351.1" stroke="#000" stroke-width="1.2"/>
<line x1="1548.8" y1="349.8" x2="1556.0" y2="353.4" stroke="#000" stroke-width="1.2"/>
<line x1="1547.7" y1="352.1" x2="1554.8" y2="355.8" stroke="#000" stroke-width="1.2"/>
<line x1="1546.5" y1="354.4" x2="1553.6" y2="358.1" stroke="#000" stroke-width="1.2"/>
<line x1="1545.3" y1="356.8" x2="1552.4" y2="360.4" stroke="#000" stroke-width="1.2"/>
<line x1="1544.1" y1="359.1" x2="1551.2" y2="362.7" stroke="#000" stroke-width="1.2"/>
<line x1="1542.9" y1="361.4" x2="1550.1" y2="365.0" stroke="#000" stroke-width="1.2"/>
<line x1="1541.8" y1="363.7" x2="1548.9" y2="367.3" stroke="#000" stroke-width="1.2"/>
<line x1="1540.6" y1="366.0" x2="1547.7" y2="369.7" stroke="#000" stroke-width="1.2"/>
<line x1="1539.4" y1="368.3" x2="1546.5" y2="372.0" stroke="#000" stroke-width="1.2"/>
<line x1="1538.2" y1="370.7" x2="1545.3" y2="374.3" stroke="#000" stroke-width="1.2"/>
<ellipse cx="1557.3" cy="342.0" rx="0.6" ry="1.0" transform="rotate(117.0 1557.3 342.0)" fill="#fff" stroke="#000" stroke-width="1.5"/>
<ellipse cx="1558.7" cy="339.3" rx="0.6" ry="1.0" transform="rotate(117.0 1558.7 339.3)" fill="#fff" stroke="#000" stroke-width="1.5"/>
<polyline points="1553.3,376.7 1536.7,376.7" fill="none" stroke="#000" stroke-width="0.1" />
<ellipse cx="1561.7" cy="333.3" rx="13.0" ry="7.0" transform="rotate(15.0 1561.7 333.3)" fill="#fff" stroke="#000" stroke-width="2"/>
<line x1="1543.7" y1="358.3" x2="1551.7" y2="362.3" stroke="#000" stroke-width="2"/>
<line x1="1542.4" y1="360.9" x2="1550.4" y2="364.9" stroke="#000" stroke-width="2"/>
<line x1="1541.1" y1="363.5" x2="1549.1" y2="367.5" stroke="#000" stroke-width="2"/>
<line x1="1539.8" y1="366.1" x2="1547.8" y2="370.1" stroke="#000" stroke-width="2"/>
<line x1="1538.5" y1="368.7" x2="1546.5" y2="372.7" stroke="#000" stroke-width="2"/>
<line x1="1537.2" y1="371.3" x2="1545.2" y2="375.3" stroke="#000" stroke-width="2"/>
<line x1="1535.9" y1="373.9" x2="1543.9" y2="377.9" stroke="#000" stroke-width="2"/>
<polygon points="1511.7,398.3 1526.7,386.7 1540.0,405.0 1523.3,415.0" fill="#fff" stroke="#000" stroke-width="2" />
<polyline points="1511.7,398.3 1513.3,405.0 1524.0,418.3 1540.0,408.3 1540.0,405.0" fill="none" stroke="#000" stroke-width="1.8" />
<ellipse cx="1526.0" cy="400.0" rx="5.5" ry="5.5" transform="rotate(0.0 1526.0 400.0)" fill="none" stroke="#000" stroke-width="1.8"/>
<path d="M1416.1,452.1 C1417.7,455.6 1421.4,466.3 1425.3,473.3 C1429.2,480.4 1432.4,485.6 1439.5,494.6 C1446.6,503.6 1459.3,519.6 1467.8,527.2 C1476.3,534.7 1483.9,537.1 1490.5,539.9 C1497.1,542.8 1501.4,543.9 1507.5,544.2 C1513.6,544.4 1522.4,543.0 1527.3,541.3 C1532.3,539.7 1534.7,537.1 1537.3,534.3 C1539.8,531.4 1542.0,526.0 1542.9,524.3" fill="none" stroke="#000" stroke-width="2.4" />
<path d="M1507.5,544.2 C1511.3,544.0 1524.5,544.9 1530.2,543.5 C1535.8,542.0 1539.0,538.4 1541.5,535.7 C1544.0,533.0 1544.5,528.6 1545.0,527.2" fill="none" stroke="#000" stroke-width="1.6" />
<polygon points="1395.6,432.3 1456.5,394.7 1465.0,392.9 1473.5,395.7 1627.2,484.7 1627.9,496.0 1567.0,530.7 1557.1,532.1 1547.2,527.2 1395.6,440.8" fill="#fff" stroke="#000" stroke-width="2.4" />
<polyline points="1395.6,432.3 1548.6,518.7 1557.1,522.9 1567.0,521.5 1627.2,486.1" fill="none" stroke="#000" stroke-width="1.6" />
<polygon points="1422.5,445.0 1483.4,409.6 1601.0,477.6 1540.1,512.3" fill="none" stroke="#000" stroke-width="2" />
<polyline points="1425.3,446.4 1540.1,510.2" fill="none" stroke="#000" stroke-width="1.4" />
<polyline points="1483.4,412.4 1598.2,478.3" fill="none" stroke="#000" stroke-width="1.3" />
<path d="M1484.8,415.3 C1486.7,419.3 1491.4,431.3 1496.2,439.3 C1500.9,447.4 1506.6,455.9 1513.2,463.4 C1519.8,471.0 1527.6,479.0 1535.8,484.7 C1544.1,490.3 1558.3,495.3 1562.8,497.4" fill="none" stroke="#000" stroke-width="1.1" />
<polyline points="1476.3,477.6 1484.8,476.9 1487.7,481.8" fill="none" stroke="#000" stroke-width="1.4" />
<polygon points="1427.6,434.1 1420.1,439.4 1409.0,439.8 1400.9,434.8 1400.4,427.6 1407.9,422.2 1419.0,421.9 1427.1,426.8" fill="#fff" stroke="#000" stroke-width="2" />
<ellipse cx="1414.0" cy="430.8" rx="5.0" ry="3.2" transform="rotate(0.0 1414.0 430.8)" fill="none" stroke="#000" stroke-width="1.8"/>
<polygon points="1477.2,405.7 1469.7,411.1 1458.6,411.4 1450.4,406.5 1450.0,399.3 1457.5,393.9 1468.5,393.6 1476.7,398.5" fill="#fff" stroke="#000" stroke-width="2" />
<ellipse cx="1463.6" cy="402.5" rx="5.0" ry="3.2" transform="rotate(0.0 1463.6 402.5)" fill="none" stroke="#000" stroke-width="1.8"/>
<polygon points="1623.8,490.7 1616.3,496.1 1605.2,496.4 1597.1,491.5 1596.6,484.3 1604.1,478.9 1615.2,478.6 1623.4,483.5" fill="#fff" stroke="#000" stroke-width="2" />
<ellipse cx="1610.2" cy="487.5" rx="5.0" ry="3.2" transform="rotate(0.0 1610.2 487.5)" fill="none" stroke="#000" stroke-width="1.8"/>
<polygon points="1574.3,519.1 1566.8,524.4 1555.7,524.8 1547.5,519.8 1547.0,512.6 1554.5,507.2 1565.6,506.9 1573.8,511.8" fill="#fff" stroke="#000" stroke-width="2" />
<ellipse cx="1560.6" cy="515.8" rx="5.0" ry="3.2" transform="rotate(0.0 1560.6 515.8)" fill="none" stroke="#000" stroke-width="1.8"/>
<ellipse cx="1465.0" cy="544.0" rx="10.0" ry="5.5" transform="rotate(0.0 1465.0 544.0)" fill="#fff" stroke="#000" stroke-width="1.7"/>
<ellipse cx="1465.0" cy="544.0" rx="4.5" ry="2.5" transform="rotate(0.0 1465.0 544.0)" fill="none" stroke="#000" stroke-width="1.4"/>
<polyline points="1460.5,555.0 1460.5,572.0 1469.5,572.0 1469.5,555.0" fill="#fff" stroke="#000" stroke-width="1.5" />
<ellipse cx="1465.0" cy="555.0" rx="4.5" ry="2.5" transform="rotate(0.0 1465.0 555.0)" fill="#fff" stroke="#000" stroke-width="1.4"/>
<line x1="1460.5" y1="558.0" x2="1469.5" y2="559.0" stroke="#000" stroke-width="1.2"/>
<line x1="1460.5" y1="561.2" x2="1469.5" y2="562.2" stroke="#000" stroke-width="1.2"/>
<line x1="1460.5" y1="564.4" x2="1469.5" y2="565.4" stroke="#000" stroke-width="1.2"/>
<line x1="1460.5" y1="567.6" x2="1469.5" y2="568.6" stroke="#000" stroke-width="1.2"/>
<ellipse cx="1465.0" cy="578.0" rx="9.5" ry="5.0" transform="rotate(0.0 1465.0 578.0)" fill="#fff" stroke="#000" stroke-width="1.6"/>
<ellipse cx="1465.0" cy="575.0" rx="9.5" ry="5.0" transform="rotate(0.0 1465.0 575.0)" fill="#fff" stroke="#000" stroke-width="1.6"/>
<polyline points="1459.0,574.0 1462.0,578.0 1468.0,578.0 1471.0,574.0" fill="none" stroke="#000" stroke-width="1.1" />
<ellipse cx="1415.0" cy="572.7" rx="10.0" ry="5.5" transform="rotate(0.0 1415.0 572.7)" fill="#fff" stroke="#000" stroke-width="1.7"/>
<ellipse cx="1415.0" cy="572.7" rx="4.5" ry="2.5" transform="rotate(0.0 1415.0 572.7)" fill="none" stroke="#000" stroke-width="1.4"/>
<polyline points="1410.5,584.0 1410.5,601.0 1419.5,601.0 1419.5,584.0" fill="#fff" stroke="#000" stroke-width="1.5" />
<ellipse cx="1415.0" cy="584.0" rx="4.5" ry="2.5" transform="rotate(0.0 1415.0 584.0)" fill="#fff" stroke="#000" stroke-width="1.4"/>
<line x1="1410.5" y1="587.0" x2="1419.5" y2="588.0" stroke="#000" stroke-width="1.2"/>
<line x1="1410.5" y1="590.2" x2="1419.5" y2="591.2" stroke="#000" stroke-width="1.2"/>
<line x1="1410.5" y1="593.4" x2="1419.5" y2="594.4" stroke="#000" stroke-width="1.2"/>
<line x1="1410.5" y1="596.6" x2="1419.5" y2="597.6" stroke="#000" stroke-width="1.2"/>
<ellipse cx="1415.0" cy="607.0" rx="9.5" ry="5.0" transform="rotate(0.0 1415.0 607.0)" fill="#fff" stroke="#000" stroke-width="1.6"/>
<ellipse cx="1415.0" cy="604.0" rx="9.5" ry="5.0" transform="rotate(0.0 1415.0 604.0)" fill="#fff" stroke="#000" stroke-width="1.6"/>
<polyline points="1409.0,603.0 1412.0,607.0 1418.0,607.0 1421.0,603.0" fill="none" stroke="#000" stroke-width="1.1" />
<ellipse cx="1548.9" cy="635.8" rx="6.8" ry="9.0" transform="rotate(-25.0 1548.9 635.8)" fill="#fff" stroke="#000" stroke-width="1.8"/>
<ellipse cx="1546.7" cy="635.0" rx="6.8" ry="9.0" transform="rotate(-25.0 1546.7 635.0)" fill="#fff" stroke="#000" stroke-width="1.8"/>
<ellipse cx="1546.7" cy="635.0" rx="2.7" ry="3.6" transform="rotate(-25.0 1546.7 635.0)" fill="none" stroke="#000" stroke-width="1.8"/>
<ellipse cx="1561.7" cy="658.3" rx="10.0" ry="5.5" transform="rotate(0.0 1561.7 658.3)" fill="#fff" stroke="#000" stroke-width="1.7"/>
<ellipse cx="1561.7" cy="658.3" rx="4.5" ry="2.5" transform="rotate(0.0 1561.7 658.3)" fill="none" stroke="#000" stroke-width="1.4"/>
<polyline points="1557.2,670.0 1557.2,687.0 1566.2,687.0 1566.2,670.0" fill="#fff" stroke="#000" stroke-width="1.5" />
<ellipse cx="1561.7" cy="670.0" rx="4.5" ry="2.5" transform="rotate(0.0 1561.7 670.0)" fill="#fff" stroke="#000" stroke-width="1.4"/>
<line x1="1557.2" y1="673.0" x2="1566.2" y2="674.0" stroke="#000" stroke-width="1.2"/>
<line x1="1557.2" y1="676.2" x2="1566.2" y2="677.2" stroke="#000" stroke-width="1.2"/>
<line x1="1557.2" y1="679.4" x2="1566.2" y2="680.4" stroke="#000" stroke-width="1.2"/>
<line x1="1557.2" y1="682.6" x2="1566.2" y2="683.6" stroke="#000" stroke-width="1.2"/>
<ellipse cx="1561.7" cy="693.0" rx="9.5" ry="5.0" transform="rotate(0.0 1561.7 693.0)" fill="#fff" stroke="#000" stroke-width="1.6"/>
<ellipse cx="1561.7" cy="690.0" rx="9.5" ry="5.0" transform="rotate(0.0 1561.7 690.0)" fill="#fff" stroke="#000" stroke-width="1.6"/>
<polyline points="1555.7,689.0 1558.7,693.0 1564.7,693.0 1567.7,689.0" fill="none" stroke="#000" stroke-width="1.1" />
<ellipse cx="1548.9" cy="710.8" rx="6.8" ry="9.0" transform="rotate(-25.0 1548.9 710.8)" fill="#fff" stroke="#000" stroke-width="1.8"/>
<ellipse cx="1546.7" cy="710.0" rx="6.8" ry="9.0" transform="rotate(-25.0 1546.7 710.0)" fill="#fff" stroke="#000" stroke-width="1.8"/>
<ellipse cx="1546.7" cy="710.0" rx="2.7" ry="3.6" transform="rotate(-25.0 1546.7 710.0)" fill="none" stroke="#000" stroke-width="1.8"/>
<ellipse cx="1611.7" cy="628.3" rx="10.0" ry="5.5" transform="rotate(0.0 1611.7 628.3)" fill="#fff" stroke="#000" stroke-width="1.7"/>
<ellipse cx="1611.7" cy="628.3" rx="4.5" ry="2.5" transform="rotate(0.0 1611.7 628.3)" fill="none" stroke="#000" stroke-width="1.4"/>
<polyline points="1607.2,642.0 1607.2,659.0 1616.2,659.0 1616.2,642.0" fill="#fff" stroke="#000" stroke-width="1.5" />
<ellipse cx="1611.7" cy="642.0" rx="4.5" ry="2.5" transform="rotate(0.0 1611.7 642.0)" fill="#fff" stroke="#000" stroke-width="1.4"/>
<line x1="1607.2" y1="645.0" x2="1616.2" y2="646.0" stroke="#000" stroke-width="1.2"/>
<line x1="1607.2" y1="648.2" x2="1616.2" y2="649.2" stroke="#000" stroke-width="1.2"/>
<line x1="1607.2" y1="651.4" x2="1616.2" y2="652.4" stroke="#000" stroke-width="1.2"/>
<line x1="1607.2" y1="654.6" x2="1616.2" y2="655.6" stroke="#000" stroke-width="1.2"/>
<ellipse cx="1611.7" cy="665.0" rx="9.5" ry="5.0" transform="rotate(0.0 1611.7 665.0)" fill="#fff" stroke="#000" stroke-width="1.6"/>
<ellipse cx="1611.7" cy="662.0" rx="9.5" ry="5.0" transform="rotate(0.0 1611.7 662.0)" fill="#fff" stroke="#000" stroke-width="1.6"/>
<polyline points="1605.7,661.0 1608.7,665.0 1614.7,665.0 1617.7,661.0" fill="none" stroke="#000" stroke-width="1.1" />
<ellipse cx="1615.2" cy="689.1" rx="6.8" ry="9.0" transform="rotate(-25.0 1615.2 689.1)" fill="#fff" stroke="#000" stroke-width="1.8"/>
<ellipse cx="1613.0" cy="688.3" rx="6.8" ry="9.0" transform="rotate(-25.0 1613.0 688.3)" fill="#fff" stroke="#000" stroke-width="1.8"/>
<ellipse cx="1613.0" cy="688.3" rx="2.7" ry="3.6" transform="rotate(-25.0 1613.0 688.3)" fill="none" stroke="#000" stroke-width="1.8"/>
<ellipse cx="1615.2" cy="750.8" rx="6.8" ry="9.0" transform="rotate(-25.0 1615.2 750.8)" fill="#fff" stroke="#000" stroke-width="1.8"/>
<ellipse cx="1613.0" cy="750.0" rx="6.8" ry="9.0" transform="rotate(-25.0 1613.0 750.0)" fill="#fff" stroke="#000" stroke-width="1.8"/>
<ellipse cx="1613.0" cy="750.0" rx="2.7" ry="3.6" transform="rotate(-25.0 1613.0 750.0)" fill="none" stroke="#000" stroke-width="1.8"/>
<polygon points="1704.2,551.3 1729.1,536.4 1725.8,530.8 1700.9,545.7" fill="#fff" stroke="#000" stroke-width="1.4" />
<line x1="1706.8" y1="549.7" x2="1703.5" y2="544.1" stroke="#000" stroke-width="1.2"/>
<line x1="1709.0" y1="548.4" x2="1705.7" y2="542.8" stroke="#000" stroke-width="1.2"/>
<line x1="1711.3" y1="547.0" x2="1707.9" y2="541.5" stroke="#000" stroke-width="1.2"/>
<line x1="1713.5" y1="545.7" x2="1710.2" y2="540.1" stroke="#000" stroke-width="1.2"/>
<line x1="1715.7" y1="544.4" x2="1712.4" y2="538.8" stroke="#000" stroke-width="1.2"/>
<line x1="1718.0" y1="543.0" x2="1714.6" y2="537.5" stroke="#000" stroke-width="1.2"/>
<line x1="1720.2" y1="541.7" x2="1716.9" y2="536.1" stroke="#000" stroke-width="1.2"/>
<line x1="1722.4" y1="540.4" x2="1719.1" y2="534.8" stroke="#000" stroke-width="1.2"/>
<line x1="1724.7" y1="539.0" x2="1721.3" y2="533.5" stroke="#000" stroke-width="1.2"/>
<line x1="1726.9" y1="537.7" x2="1723.6" y2="532.1" stroke="#000" stroke-width="1.2"/>
<ellipse cx="1702.6" cy="548.5" rx="4.0" ry="6.5" transform="rotate(-30.9 1702.6 548.5)" fill="#fff" stroke="#000" stroke-width="1.5"/>
<ellipse cx="1700.0" cy="550.0" rx="4.0" ry="6.5" transform="rotate(-30.9 1700.0 550.0)" fill="#fff" stroke="#000" stroke-width="1.5"/>
<ellipse cx="1741.2" cy="527.5" rx="5.9" ry="8.5" transform="rotate(-25.0 1741.2 527.5)" fill="#fff" stroke="#000" stroke-width="1.7"/>
<ellipse cx="1739.0" cy="526.7" rx="5.9" ry="8.5" transform="rotate(-25.0 1739.0 526.7)" fill="#fff" stroke="#000" stroke-width="1.7"/>
<ellipse cx="1739.0" cy="526.7" rx="2.4" ry="3.4" transform="rotate(-25.0 1739.0 526.7)" fill="none" stroke="#000" stroke-width="1.7"/>
<polygon points="1767.1,589.5 1793.0,576.4 1790.0,570.6 1764.2,583.7" fill="#fff" stroke="#000" stroke-width="1.4" />
<line x1="1769.8" y1="588.2" x2="1766.9" y2="582.4" stroke="#000" stroke-width="1.2"/>
<line x1="1772.1" y1="587.0" x2="1769.2" y2="581.2" stroke="#000" stroke-width="1.2"/>
<line x1="1774.5" y1="585.8" x2="1771.5" y2="580.0" stroke="#000" stroke-width="1.2"/>
<line x1="1776.8" y1="584.6" x2="1773.8" y2="578.8" stroke="#000" stroke-width="1.2"/>
<line x1="1779.1" y1="583.5" x2="1776.1" y2="577.7" stroke="#000" stroke-width="1.2"/>
<line x1="1781.4" y1="582.3" x2="1778.5" y2="576.5" stroke="#000" stroke-width="1.2"/>
<line x1="1783.7" y1="581.1" x2="1780.8" y2="575.3" stroke="#000" stroke-width="1.2"/>
<line x1="1786.0" y1="579.9" x2="1783.1" y2="574.1" stroke="#000" stroke-width="1.2"/>
<line x1="1788.4" y1="578.7" x2="1785.4" y2="572.9" stroke="#000" stroke-width="1.2"/>
<line x1="1790.7" y1="577.6" x2="1787.7" y2="571.8" stroke="#000" stroke-width="1.2"/>
<ellipse cx="1765.7" cy="586.6" rx="4.0" ry="6.5" transform="rotate(-27.0 1765.7 586.6)" fill="#fff" stroke="#000" stroke-width="1.5"/>
<ellipse cx="1763.0" cy="588.0" rx="4.0" ry="6.5" transform="rotate(-27.0 1763.0 588.0)" fill="#fff" stroke="#000" stroke-width="1.5"/>
<ellipse cx="1803.9" cy="569.1" rx="5.9" ry="8.5" transform="rotate(-25.0 1803.9 569.1)" fill="#fff" stroke="#000" stroke-width="1.7"/>
<ellipse cx="1801.7" cy="568.3" rx="5.9" ry="8.5" transform="rotate(-25.0 1801.7 568.3)" fill="#fff" stroke="#000" stroke-width="1.7"/>
<ellipse cx="1801.7" cy="568.3" rx="2.4" ry="3.4" transform="rotate(-25.0 1801.7 568.3)" fill="none" stroke="#000" stroke-width="1.7"/>
<polygon points="1699.2,621.3 1724.4,606.9 1721.1,601.2 1696.0,615.7" fill="#fff" stroke="#000" stroke-width="1.4" />
<line x1="1701.8" y1="619.8" x2="1698.6" y2="614.2" stroke="#000" stroke-width="1.2"/>
<line x1="1704.1" y1="618.5" x2="1700.8" y2="612.9" stroke="#000" stroke-width="1.2"/>
<line x1="1706.3" y1="617.2" x2="1703.1" y2="611.6" stroke="#000" stroke-width="1.2"/>
<line x1="1708.6" y1="615.9" x2="1705.3" y2="610.3" stroke="#000" stroke-width="1.2"/>
<line x1="1710.8" y1="614.6" x2="1707.6" y2="609.0" stroke="#000" stroke-width="1.2"/>
<line x1="1713.1" y1="613.3" x2="1709.9" y2="607.7" stroke="#000" stroke-width="1.2"/>
<line x1="1715.3" y1="612.1" x2="1712.1" y2="606.4" stroke="#000" stroke-width="1.2"/>
<line x1="1717.6" y1="610.8" x2="1714.4" y2="605.1" stroke="#000" stroke-width="1.2"/>
<line x1="1719.9" y1="609.5" x2="1716.6" y2="603.8" stroke="#000" stroke-width="1.2"/>
<line x1="1722.1" y1="608.2" x2="1718.9" y2="602.5" stroke="#000" stroke-width="1.2"/>
<ellipse cx="1697.6" cy="618.5" rx="4.0" ry="6.5" transform="rotate(-29.9 1697.6 618.5)" fill="#fff" stroke="#000" stroke-width="1.5"/>
<ellipse cx="1695.0" cy="620.0" rx="4.0" ry="6.5" transform="rotate(-29.9 1695.0 620.0)" fill="#fff" stroke="#000" stroke-width="1.5"/>
<ellipse cx="1737.2" cy="597.8" rx="5.9" ry="8.5" transform="rotate(-25.0 1737.2 597.8)" fill="#fff" stroke="#000" stroke-width="1.7"/>
<ellipse cx="1735.0" cy="597.0" rx="5.9" ry="8.5" transform="rotate(-25.0 1735.0 597.0)" fill="#fff" stroke="#000" stroke-width="1.7"/>
<ellipse cx="1735.0" cy="597.0" rx="2.4" ry="3.4" transform="rotate(-25.0 1735.0 597.0)" fill="none" stroke="#000" stroke-width="1.7"/>
<polygon points="1764.2,659.4 1789.6,645.5 1786.5,639.8 1761.1,653.7" fill="#fff" stroke="#000" stroke-width="1.4" />
<line x1="1766.8" y1="658.0" x2="1763.7" y2="652.3" stroke="#000" stroke-width="1.2"/>
<line x1="1769.1" y1="656.7" x2="1766.0" y2="651.0" stroke="#000" stroke-width="1.2"/>
<line x1="1771.4" y1="655.5" x2="1768.3" y2="649.8" stroke="#000" stroke-width="1.2"/>
<line x1="1773.7" y1="654.2" x2="1770.6" y2="648.5" stroke="#000" stroke-width="1.2"/>
<line x1="1776.0" y1="653.0" x2="1772.8" y2="647.3" stroke="#000" stroke-width="1.2"/>
<line x1="1778.2" y1="651.7" x2="1775.1" y2="646.0" stroke="#000" stroke-width="1.2"/>
<line x1="1780.5" y1="650.5" x2="1777.4" y2="644.8" stroke="#000" stroke-width="1.2"/>
<line x1="1782.8" y1="649.3" x2="1779.7" y2="643.5" stroke="#000" stroke-width="1.2"/>
<line x1="1785.1" y1="648.0" x2="1782.0" y2="642.3" stroke="#000" stroke-width="1.2"/>
<line x1="1787.4" y1="646.8" x2="1784.2" y2="641.1" stroke="#000" stroke-width="1.2"/>
<ellipse cx="1762.6" cy="656.6" rx="4.0" ry="6.5" transform="rotate(-28.6 1762.6 656.6)" fill="#fff" stroke="#000" stroke-width="1.5"/>
<ellipse cx="1760.0" cy="658.0" rx="4.0" ry="6.5" transform="rotate(-28.6 1760.0 658.0)" fill="#fff" stroke="#000" stroke-width="1.5"/>
<ellipse cx="1801.2" cy="637.5" rx="5.9" ry="8.5" transform="rotate(-25.0 1801.2 637.5)" fill="#fff" stroke="#000" stroke-width="1.7"/>
<ellipse cx="1799.0" cy="636.7" rx="5.9" ry="8.5" transform="rotate(-25.0 1799.0 636.7)" fill="#fff" stroke="#000" stroke-width="1.7"/>
<ellipse cx="1799.0" cy="636.7" rx="2.4" ry="3.4" transform="rotate(-25.0 1799.0 636.7)" fill="none" stroke="#000" stroke-width="1.7"/>
<ellipse cx="1890.2" cy="392.5" rx="7.0" ry="10.0" transform="rotate(-25.0 1890.2 392.5)" fill="#fff" stroke="#000" stroke-width="1.7"/>
<ellipse cx="1888.0" cy="391.7" rx="7.0" ry="10.0" transform="rotate(-25.0 1888.0 391.7)" fill="#fff" stroke="#000" stroke-width="1.7"/>
<ellipse cx="1888.0" cy="391.7" rx="2.8" ry="4.0" transform="rotate(-25.0 1888.0 391.7)" fill="none" stroke="#000" stroke-width="1.7"/>
<polygon points="1938.7,361.2 1902.2,379.9 1905.4,386.1 1941.9,367.5" fill="#fff" stroke="#000" stroke-width="1.4" />
<line x1="1936.1" y1="362.6" x2="1939.2" y2="368.8" stroke="#000" stroke-width="1.2"/>
<line x1="1933.7" y1="363.8" x2="1936.9" y2="370.0" stroke="#000" stroke-width="1.2"/>
<line x1="1931.4" y1="365.0" x2="1934.6" y2="371.2" stroke="#000" stroke-width="1.2"/>
<line x1="1929.1" y1="366.1" x2="1932.3" y2="372.4" stroke="#000" stroke-width="1.2"/>
<line x1="1926.8" y1="367.3" x2="1930.0" y2="373.6" stroke="#000" stroke-width="1.2"/>
<line x1="1924.5" y1="368.5" x2="1927.7" y2="374.7" stroke="#000" stroke-width="1.2"/>
<line x1="1922.2" y1="369.7" x2="1925.3" y2="375.9" stroke="#000" stroke-width="1.2"/>
<line x1="1919.8" y1="370.9" x2="1923.0" y2="377.1" stroke="#000" stroke-width="1.2"/>
<line x1="1917.5" y1="372.0" x2="1920.7" y2="378.3" stroke="#000" stroke-width="1.2"/>
<line x1="1915.2" y1="373.2" x2="1918.4" y2="379.5" stroke="#000" stroke-width="1.2"/>
<line x1="1912.9" y1="374.4" x2="1916.1" y2="380.6" stroke="#000" stroke-width="1.2"/>
<line x1="1910.6" y1="375.6" x2="1913.8" y2="381.8" stroke="#000" stroke-width="1.2"/>
<line x1="1908.3" y1="376.8" x2="1911.4" y2="383.0" stroke="#000" stroke-width="1.2"/>
<line x1="1905.9" y1="378.0" x2="1909.1" y2="384.2" stroke="#000" stroke-width="1.2"/>
<ellipse cx="1940.3" cy="364.4" rx="4.3" ry="7.0" transform="rotate(153.0 1940.3 364.4)" fill="#fff" stroke="#000" stroke-width="1.5"/>
<ellipse cx="1943.0" cy="363.0" rx="4.3" ry="7.0" transform="rotate(153.0 1943.0 363.0)" fill="#fff" stroke="#000" stroke-width="1.5"/>
<ellipse cx="1960.2" cy="594.8" rx="8.2" ry="11.0" transform="rotate(-25.0 1960.2 594.8)" fill="#fff" stroke="#000" stroke-width="1.8"/>
<ellipse cx="1958.0" cy="594.0" rx="8.2" ry="11.0" transform="rotate(-25.0 1958.0 594.0)" fill="#fff" stroke="#000" stroke-width="1.8"/>
<ellipse cx="1958.0" cy="594.0" rx="3.3" ry="4.4" transform="rotate(-25.0 1958.0 594.0)" fill="none" stroke="#000" stroke-width="1.8"/>
<polygon points="2007.7,563.2 1969.4,582.8 1972.6,589.0 2010.9,569.5" fill="#fff" stroke="#000" stroke-width="1.4" />
<line x1="2005.1" y1="564.6" x2="2008.2" y2="570.8" stroke="#000" stroke-width="1.2"/>
<line x1="2002.7" y1="565.8" x2="2005.9" y2="572.0" stroke="#000" stroke-width="1.2"/>
<line x1="2000.4" y1="567.0" x2="2003.6" y2="573.2" stroke="#000" stroke-width="1.2"/>
<line x1="1998.1" y1="568.1" x2="2001.3" y2="574.4" stroke="#000" stroke-width="1.2"/>
<line x1="1995.8" y1="569.3" x2="1999.0" y2="575.6" stroke="#000" stroke-width="1.2"/>
<line x1="1993.5" y1="570.5" x2="1996.7" y2="576.7" stroke="#000" stroke-width="1.2"/>
<line x1="1991.2" y1="571.7" x2="1994.3" y2="577.9" stroke="#000" stroke-width="1.2"/>
<line x1="1988.8" y1="572.9" x2="1992.0" y2="579.1" stroke="#000" stroke-width="1.2"/>
<line x1="1986.5" y1="574.0" x2="1989.7" y2="580.3" stroke="#000" stroke-width="1.2"/>
<line x1="1984.2" y1="575.2" x2="1987.4" y2="581.5" stroke="#000" stroke-width="1.2"/>
<line x1="1981.9" y1="576.4" x2="1985.1" y2="582.6" stroke="#000" stroke-width="1.2"/>
<line x1="1979.6" y1="577.6" x2="1982.8" y2="583.8" stroke="#000" stroke-width="1.2"/>
<line x1="1977.3" y1="578.8" x2="1980.4" y2="585.0" stroke="#000" stroke-width="1.2"/>
<line x1="1974.9" y1="580.0" x2="1978.1" y2="586.2" stroke="#000" stroke-width="1.2"/>
<line x1="1972.6" y1="581.1" x2="1975.8" y2="587.4" stroke="#000" stroke-width="1.2"/>
<ellipse cx="2009.3" cy="566.4" rx="4.3" ry="7.0" transform="rotate(153.0 2009.3 566.4)" fill="#fff" stroke="#000" stroke-width="1.5"/>
<ellipse cx="2012.0" cy="565.0" rx="4.3" ry="7.0" transform="rotate(153.0 2012.0 565.0)" fill="#fff" stroke="#000" stroke-width="1.5"/>
<polygon points="1397.8,716.7 1421.8,706.8 1489.8,666.4 1497.6,672.0 1512.5,696.8 1538.0,722.3 1562.1,735.1 1566.3,742.2 1563.5,747.1 1494.1,788.2 1487.0,784.7 1488.0,866.7 1400.0,816.7 1397.8,815.8" fill="#fff" stroke="#000" stroke-width="2.2" />
<path d="M1489.8,666.4 C1492.2,670.7 1497.4,683.5 1504.0,692.6 C1510.6,701.7 1521.0,713.6 1529.5,720.9 C1538.0,728.2 1549.3,732.3 1555.0,736.5 C1560.7,740.8 1562.1,744.8 1563.5,746.4" fill="none" stroke="#000" stroke-width="1.6" />
<path d="M1487.0,671.3 C1489.4,675.6 1494.6,688.1 1501.2,696.8 C1507.8,705.6 1517.9,716.4 1526.7,723.8 C1535.4,731.1 1549.1,737.9 1553.6,740.8" fill="none" stroke="#000" stroke-width="1.3" />
<path d="M1421.8,706.8 C1424.2,710.8 1430.3,723.0 1436.0,730.8 C1441.7,738.6 1449.0,747.4 1455.8,753.5 C1462.7,759.6 1470.9,764.4 1477.1,767.7 C1483.2,771.0 1489.5,771.2 1492.7,773.3 C1495.9,775.5 1496.0,777.9 1496.2,780.4 C1496.4,782.9 1494.4,786.9 1494.1,788.2" fill="none" stroke="#000" stroke-width="2" />
<path d="M1430.3,705.3 C1432.5,708.9 1437.9,719.5 1443.1,726.6 C1448.3,733.7 1454.9,741.7 1461.5,747.8 C1468.1,754.0 1477.1,759.6 1482.8,763.4 C1488.4,767.2 1493.4,769.3 1495.5,770.5" fill="none" stroke="#000" stroke-width="1.4" />
<polyline points="1487.0,784.7 1487.0,864.0 1488.0,866.7" fill="none" stroke="#000" stroke-width="2.2" />
<polyline points="1540.8,762.0 1496.7,863.0" fill="none" stroke="#000" stroke-width="2.2" />
<polyline points="1494.1,788.2 1540.8,762.0 1563.5,747.1" fill="none" stroke="#000" stroke-width="1.4" />
<polygon points="1397.8,723.8 1413.3,730.8 1413.3,750.7 1397.8,743.6" fill="none" stroke="#000" stroke-width="2.4" />
<polyline points="1399.2,736.5 1407.7,733.7 1407.7,743.6" fill="none" stroke="#000" stroke-width="1.6" />
<polygon points="1397.8,795.3 1413.3,802.4 1413.3,822.2 1397.8,815.1" fill="none" stroke="#000" stroke-width="2.4" />
<polyline points="1399.2,808.0 1407.7,805.2 1407.7,815.1" fill="none" stroke="#000" stroke-width="1.6" />
<polygon points="1462.9,771.9 1481.3,781.8 1481.3,801.0 1462.9,791.8" fill="none" stroke="#000" stroke-width="2.4" />
<polygon points="1467.2,780.4 1477.1,785.4 1477.1,794.6 1467.2,789.6" fill="none" stroke="#000" stroke-width="1.8" />
<polygon points="1462.9,832.8 1481.3,842.8 1481.3,861.9 1462.9,852.7" fill="none" stroke="#000" stroke-width="2.4" />
<polygon points="1467.2,841.3 1477.1,846.3 1477.1,855.5 1467.2,850.5" fill="none" stroke="#000" stroke-width="1.8" />
<polygon points="1452.3,736.5 1479.9,720.9 1494.1,735.1 1464.3,752.1" fill="none" stroke="#000" stroke-width="2.2" />
<polyline points="1455.8,739.3 1479.9,725.9 1484.2,730.8" fill="none" stroke="#000" stroke-width="1.5" />
<ellipse cx="1478.8" cy="738.2" rx="5.5" ry="5.5" transform="rotate(0.0 1478.8 738.2)" fill="none" stroke="#000" stroke-width="2.2"/>
<polyline points="1370.8,803.1 1342.5,821.5 1346.8,837.1 1360.9,847.7 1390.7,830.0" fill="none" stroke="#000" stroke-width="1.8" />
<ellipse cx="1380.0" cy="816.5" rx="12.5" ry="16.0" transform="rotate(-25.0 1380.0 816.5)" fill="#fff" stroke="#000" stroke-width="1.8"/>
<ellipse cx="1378.9" cy="816.5" rx="6.0" ry="8.5" transform="rotate(-25.0 1378.9 816.5)" fill="none" stroke="#000" stroke-width="1.8"/>
<polygon points="1312.0,843.0 1322.0,824.0 1329.0,822.0 1334.0,840.0" fill="#fff" stroke="#000" stroke-width="1.8" />
<polygon points="1322.0,858.0 1318.0,878.0 1326.0,884.0 1340.0,872.0 1336.0,858.0" fill="#fff" stroke="#000" stroke-width="1.8" />
<ellipse cx="1329.0" cy="848.0" rx="8.5" ry="10.0" transform="rotate(-25.0 1329.0 848.0)" fill="#fff" stroke="#000" stroke-width="2"/>
<ellipse cx="1332.0" cy="847.0" rx="6.5" ry="8.0" transform="rotate(-25.0 1332.0 847.0)" fill="#fff" stroke="#000" stroke-width="1.8"/>
<ellipse cx="1332.0" cy="847.0" rx="3.2" ry="4.0" transform="rotate(-25.0 1332.0 847.0)" fill="#444" stroke="#000" stroke-width="2.5"/>
<polyline points="1489.1,900.2 1493.2,898.4 1497.4,897.1 1501.7,896.3 1506.2,896.0 1510.8,896.1 1515.5,896.8 1520.2,897.9 1524.9,899.4 1529.6,901.5 1534.3,903.9 1538.9,906.8 1543.3,910.2 1547.7,913.9 1551.9,917.9 1555.9,922.3 1559.7,927.1 1563.2,932.1 1566.6,937.4 1569.6,942.9 1572.4,948.6 1574.8,954.4 1576.9,960.4 1578.7,966.4 1580.1,972.5 1581.2,978.6 1581.9,984.7 1582.2,990.7 1582.2,996.6 1581.8,1002.4 1581.1,1007.9 1579.9,1013.3 1578.4,1018.4 1576.6,1023.3 1574.4,1027.8 1572.0,1032.0 1569.2,1035.9 1566.1,1039.3 1562.7,1042.4 1559.1,1045.0 1555.3,1047.2" fill="none" stroke="#000" stroke-width="2.2" />
<line x1="1438.5" y1="925.5" x2="1489.1" y2="900.2" stroke="#000" stroke-width="2.2"/>
<line x1="1504.7" y1="1072.5" x2="1555.3" y2="1047.2" stroke="#000" stroke-width="2.2"/>
<polyline points="1436.0,923.2 1416.1,918.7 1407.1,923.2 1414.3,961.1" fill="none" stroke="#000" stroke-width="1.6" />
<polyline points="1511.8,970.2 1517.2,968.4 1538.9,993.6 1533.5,1018.9 1528.1,1013.5" fill="none" stroke="#000" stroke-width="1.6" />
<polyline points="1514.5,972.0 1535.3,995.4 1530.8,1017.1" fill="none" stroke="#000" stroke-width="1.2" />
<polyline points="1457.7,1065.9 1470.3,1085.7 1486.5,1078.5" fill="none" stroke="#000" stroke-width="1.6" />
<ellipse cx="1414.7" cy="931.3" rx="3.0" ry="4.0" transform="rotate(-20.0 1414.7 931.3)" fill="none" stroke="#000" stroke-width="1.3"/>
<ellipse cx="1529.0" cy="994.5" rx="3.0" ry="4.0" transform="rotate(-20.0 1529.0 994.5)" fill="none" stroke="#000" stroke-width="1.3"/>
<ellipse cx="1471.2" cy="1075.8" rx="3.0" ry="4.0" transform="rotate(-20.0 1471.2 1075.8)" fill="none" stroke="#000" stroke-width="1.3"/>
<ellipse cx="1471.6" cy="999.0" rx="56.0" ry="80.7" transform="rotate(-22.0 1471.6 999.0)" fill="#fff" stroke="#000" stroke-width="2.4"/>
<ellipse cx="1471.6" cy="999.0" rx="52.0" ry="75.7" transform="rotate(-22.0 1471.6 999.0)" fill="none" stroke="#000" stroke-width="1.6"/>
<ellipse cx="1470.3" cy="1003.6" rx="37.0" ry="55.0" transform="rotate(-22.0 1470.3 1003.6)" fill="none" stroke="#000" stroke-width="2.2"/>
<ellipse cx="1470.3" cy="1003.6" rx="33.5" ry="50.5" transform="rotate(-22.0 1470.3 1003.6)" fill="none" stroke="#000" stroke-width="1.3"/>
<ellipse cx="1471.2" cy="1001.8" rx="23.4" ry="34.8" transform="rotate(-22.0 1471.2 1001.8)" fill="none" stroke="#000" stroke-width="2"/>
<line x1="1436.0" y1="965.1" x2="1423.9" y2="946.2" stroke="#000" stroke-width="3.2"/>
<line x1="1490.9" y1="967.4" x2="1500.9" y2="948.8" stroke="#000" stroke-width="3.2"/>
<line x1="1504.6" y1="1042.1" x2="1519.3" y2="1051.8" stroke="#000" stroke-width="3.2"/>
<line x1="1449.7" y1="1039.8" x2="1442.3" y2="1049.2" stroke="#000" stroke-width="3.2"/>
<line x1="1484.6" y1="1056.2" x2="1491.2" y2="1071.5" stroke="#000" stroke-width="3.2"/>
<polygon points="1439.5,885.4 1427.7,890.9 1431.3,898.6 1443.1,893.1" fill="#fff" stroke="#000" stroke-width="1.4" />
<ellipse cx="1441.3" cy="889.3" rx="4.7" ry="7.5" transform="rotate(155.0 1441.3 889.3)" fill="#fff" stroke="#000" stroke-width="1.5"/>
<ellipse cx="1444.0" cy="888.0" rx="4.7" ry="7.5" transform="rotate(155.0 1444.0 888.0)" fill="#fff" stroke="#000" stroke-width="1.5"/>
<ellipse cx="1444.0" cy="888.0" rx="5.5" ry="8.0" transform="rotate(155.0 1444.0 888.0)" fill="#fff" stroke="#000" stroke-width="1.6"/>
<ellipse cx="1429.5" cy="894.8" rx="2.8" ry="4.4" transform="rotate(155.0 1429.5 894.8)" fill="#fff" stroke="#000" stroke-width="1.3"/>
<polygon points="1561.5,976.4 1549.7,981.9 1553.3,989.6 1565.1,984.1" fill="#fff" stroke="#000" stroke-width="1.4" />
<ellipse cx="1563.3" cy="980.3" rx="4.7" ry="7.5" transform="rotate(155.0 1563.3 980.3)" fill="#fff" stroke="#000" stroke-width="1.5"/>
<ellipse cx="1566.0" cy="979.0" rx="4.7" ry="7.5" transform="rotate(155.0 1566.0 979.0)" fill="#fff" stroke="#000" stroke-width="1.5"/>
<ellipse cx="1566.0" cy="979.0" rx="5.5" ry="8.0" transform="rotate(155.0 1566.0 979.0)" fill="#fff" stroke="#000" stroke-width="1.6"/>
<ellipse cx="1551.5" cy="985.8" rx="2.8" ry="4.4" transform="rotate(155.0 1551.5 985.8)" fill="#fff" stroke="#000" stroke-width="1.3"/>
<polygon points="1538.5,1080.4 1526.7,1085.9 1530.3,1093.6 1542.1,1088.1" fill="#fff" stroke="#000" stroke-width="1.4" />
<ellipse cx="1540.3" cy="1084.3" rx="4.7" ry="7.5" transform="rotate(155.0 1540.3 1084.3)" fill="#fff" stroke="#000" stroke-width="1.5"/>
<ellipse cx="1543.0" cy="1083.0" rx="4.7" ry="7.5" transform="rotate(155.0 1543.0 1083.0)" fill="#fff" stroke="#000" stroke-width="1.5"/>
<ellipse cx="1543.0" cy="1083.0" rx="5.5" ry="8.0" transform="rotate(155.0 1543.0 1083.0)" fill="#fff" stroke="#000" stroke-width="1.6"/>
<ellipse cx="1528.5" cy="1089.8" rx="2.8" ry="4.4" transform="rotate(155.0 1528.5 1089.8)" fill="#fff" stroke="#000" stroke-width="1.3"/>
<polyline points="516.7,47.0 516.7,71.7 623.3,133.3" fill="none" stroke="#000" stroke-width="1.5" />
<polyline points="592.3,47.0 592.3,77.0" fill="none" stroke="#000" stroke-width="1.5" />
<polyline points="638.3,47.0 638.3,80.0 621.7,90.0" fill="none" stroke="#000" stroke-width="1.5" />
<polyline points="677.0,47.0 677.0,537.0" fill="none" stroke="#000" stroke-width="1.5" />
<polyline points="714.3,47.0 714.3,513.0" fill="none" stroke="#000" stroke-width="1.5" />
<polyline points="756.0,47.0 756.0,456.7 791.0,478.0" fill="none" stroke="#000" stroke-width="1.5" />
<polyline points="775.0,31.7 840.0,31.7 840.0,233.0" fill="none" stroke="#000" stroke-width="1.5" />
<polyline points="1227.3,47.0 1227.3,71.7 1158.0,48.0" fill="none" stroke="#000" stroke-width="1.5" />
<polyline points="1274.0,47.0 1274.0,126.7 1143.0,81.7" fill="none" stroke="#000" stroke-width="1.5" />
<polyline points="1321.0,47.0 1321.0,178.0 1140.0,116.7" fill="none" stroke="#000" stroke-width="1.5" />
<polyline points="1381.0,47.0 1381.0,103.0 1383.0,213.0" fill="none" stroke="#000" stroke-width="1.5" />
<polyline points="1443.3,47.0 1443.3,96.7 1413.0,193.0" fill="none" stroke="#000" stroke-width="1.5" />
<polyline points="1518.7,47.0 1518.7,133.0 1395.0,305.0" fill="none" stroke="#000" stroke-width="1.5" />
<polyline points="1565.0,47.0 1565.0,133.0 1476.7,256.7" fill="none" stroke="#000" stroke-width="1.5" />
<polyline points="1622.0,47.0 1622.0,133.0 1600.0,213.0" fill="none" stroke="#000" stroke-width="1.5" />
<polyline points="1773.0,196.0 1700.0,196.0 1476.7,301.7" fill="none" stroke="#000" stroke-width="1.5" />
<polyline points="1773.0,235.0 1700.0,235.0 1570.0,331.7" fill="none" stroke="#000" stroke-width="1.5" />
<polyline points="1773.0,273.7 1700.0,273.7 1535.0,400.0" fill="none" stroke="#000" stroke-width="1.5" />
<polyline points="1773.0,312.7 1700.0,312.7 1538.0,436.7" fill="none" stroke="#000" stroke-width="1.5" />
<polyline points="1683.3,621.7 1683.3,385.0 1846.0,385.0 1846.0,63.3 2388.3,63.3 2388.3,415.0 2330.0,448.3" fill="none" stroke="#000" stroke-width="1.5" />
<polyline points="2069.7,108.3 2069.7,160.0" fill="none" stroke="#000" stroke-width="1.5" />
<polyline points="2286.7,110.0 2286.7,144.0" fill="none" stroke="#000" stroke-width="1.5" />
<polyline points="2186.7,228.0 2186.7,144.0 2375.0,144.0 2375.0,237.0" fill="none" stroke="#000" stroke-width="1.5" />
<polyline points="268.0,374.0 268.0,422.0" fill="none" stroke="#000" stroke-width="1.5" />
<polyline points="568.0,313.0 26.0,508.0 26.0,901.7 210.0,901.7 568.3,750.0 568.3,313.0" fill="none" stroke="#000" stroke-width="1.5" />
<polyline points="42.0,935.7 208.0,935.7 566.7,771.7" fill="none" stroke="#000" stroke-width="1.5" />
<polyline points="42.0,974.7 205.0,974.7 623.0,781.7" fill="none" stroke="#000" stroke-width="1.5" />
<polyline points="576.7,870.0 6.7,1098.0 6.7,1436.0 207.0,1436.0 576.7,1287.0 576.7,870.0" fill="none" stroke="#000" stroke-width="1.5" />
<polyline points="499.0,1400.0 499.0,1363.0 480.0,1326.7" fill="none" stroke="#000" stroke-width="1.5" />
<polyline points="743.0,1405.0 743.0,1300.0 686.7,1226.7" fill="none" stroke="#000" stroke-width="1.5" />
<polyline points="790.0,1405.0 790.0,1288.0 686.7,1151.7" fill="none" stroke="#000" stroke-width="1.5" />
<polyline points="827.7,1405.0 827.7,1300.0 748.3,1083.3 748.3,930.0" fill="none" stroke="#000" stroke-width="1.5" />
<polyline points="865.7,1405.0 865.7,1300.0 797.0,1115.0 797.0,950.0" fill="none" stroke="#000" stroke-width="1.5" />
<polyline points="950.7,1405.0 950.7,1300.0 1030.0,1093.3" fill="none" stroke="#000" stroke-width="1.5" />
<polyline points="1505.7,1398.0 1505.7,1343.3 1690.0,1186.7" fill="none" stroke="#000" stroke-width="1.5" />
<polyline points="1554.0,1398.0 1554.0,1345.0 1661.7,1260.0" fill="none" stroke="#000" stroke-width="1.5" />
<polyline points="1782.3,1405.0 1782.3,1400.0 1745.0,1378.0" fill="none" stroke="#000" stroke-width="1.5" />
<polyline points="1824.0,1405.0 1824.0,1395.0 1743.0,1346.7" fill="none" stroke="#000" stroke-width="1.5" />
<polyline points="1893.3,1405.0 1893.3,1270.0" fill="none" stroke="#000" stroke-width="1.5" />
<polyline points="2070.0,1405.0 2070.0,1319.3 2133.0,1293.0" fill="none" stroke="#000" stroke-width="1.5" />
<polyline points="1670.7,647.3 1656.7,647.3 1620.0,628.3" fill="none" stroke="#000" stroke-width="1.5" />
<polyline points="1670.7,678.7 1656.7,678.7 1618.3,658.3" fill="none" stroke="#000" stroke-width="1.5" />
<polyline points="1670.7,771.0 1656.7,771.0 1618.0,751.7" fill="none" stroke="#000" stroke-width="1.5" />
<polyline points="1670.7,808.7 1656.7,808.7 1563.0,753.0" fill="none" stroke="#000" stroke-width="1.5" />
<polyline points="1670.0,861.7 1526.7,883.3 1373.0,835.0" fill="none" stroke="#000" stroke-width="1.5" />
<polyline points="1671.7,908.3 1593.0,908.3 1340.0,853.3" fill="none" stroke="#000" stroke-width="1.5" />
<polyline points="1671.7,940.0 1516.7,938.3" fill="none" stroke="#000" stroke-width="1.5" />
<polyline points="1340.0,740.7 1213.3,732.7" fill="none" stroke="#000" stroke-width="1.5" />
<polyline points="1928.3,686.7 2370.0,686.7" fill="none" stroke="#000" stroke-width="1.5" />
<polyline points="2051.7,813.3 1973.3,816.7" fill="none" stroke="#000" stroke-width="1.5" />
<polyline points="1885.0,820.0 2008.3,750.7 2368.3,956.7 2368.3,1063.3 2003.3,1275.0 1918.3,1226.7" fill="none" stroke="#000" stroke-width="1.5" />
<ellipse cx="1205.0" cy="731.7" rx="8.0" ry="5.0" transform="rotate(0.0 1205.0 731.7)" fill="none" stroke="#000" stroke-width="1.6"/>
<ellipse cx="1206.0" cy="732.0" rx="4.0" ry="2.2" transform="rotate(0.0 1206.0 732.0)" fill="none" stroke="#000" stroke-width="1.3"/>
</svg>
</body></html>
